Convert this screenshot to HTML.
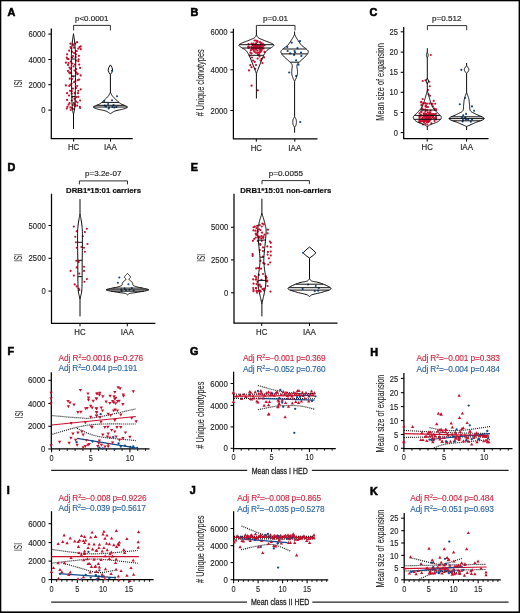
<!DOCTYPE html>
<html><head><meta charset="utf-8"><style>
html,body{margin:0;padding:0;background:#fff;}
svg{display:block;font-family:"Liberation Sans", sans-serif;will-change:transform;}
</style></head><body>
<svg width="520" height="613" viewBox="0 0 520 613">
<rect width="520" height="613" fill="#fff"/>
<rect x="0" y="0" width="520" height="1.3" fill="#000"/>
<rect x="0" y="0" width="1.3" height="613" fill="#000"/>
<rect x="518.6" y="0" width="1.4" height="613" fill="#000"/>
<rect x="0" y="611.4" width="520" height="1.6" fill="#000"/>
<text x="7.60" y="15.70" font-size="10.8" text-anchor="start" font-weight="bold" fill="#000" stroke="#000" stroke-width="0.6">A</text>
<path d="M73.60,30.40 L73.60,25.40 L110.40,25.40 L110.40,30.40" fill="none" stroke="#1a1a1a" stroke-width="0.9"/>
<text x="75.00" y="20.60" font-size="6.9" text-anchor="start" font-weight="normal" fill="#222222" textLength="33.50" lengthAdjust="spacingAndGlyphs" stroke="#2b2b2b" stroke-width="0.16">p&lt;0.0001</text>
<line x1="51.30" y1="28.50" x2="51.30" y2="138.65" stroke="#000" stroke-width="1.25" />
<line x1="48.30" y1="34.10" x2="51.30" y2="34.10" stroke="#000" stroke-width="1.05" />
<text x="45.50" y="37.25" font-size="9.5" text-anchor="end" font-weight="normal" fill="#222222" textLength="17.12" lengthAdjust="spacingAndGlyphs" stroke="#2b2b2b" stroke-width="0.16">6000</text>
<line x1="48.30" y1="59.50" x2="51.30" y2="59.50" stroke="#000" stroke-width="1.05" />
<text x="45.50" y="62.65" font-size="9.5" text-anchor="end" font-weight="normal" fill="#222222" textLength="17.12" lengthAdjust="spacingAndGlyphs" stroke="#2b2b2b" stroke-width="0.16">4000</text>
<line x1="48.30" y1="84.70" x2="51.30" y2="84.70" stroke="#000" stroke-width="1.05" />
<text x="45.50" y="87.85" font-size="9.5" text-anchor="end" font-weight="normal" fill="#222222" textLength="17.12" lengthAdjust="spacingAndGlyphs" stroke="#2b2b2b" stroke-width="0.16">2000</text>
<line x1="48.30" y1="110.10" x2="51.30" y2="110.10" stroke="#000" stroke-width="1.05" />
<text x="45.50" y="113.25" font-size="9.5" text-anchor="end" font-weight="normal" fill="#222222" textLength="4.28" lengthAdjust="spacingAndGlyphs" stroke="#2b2b2b" stroke-width="0.16">0</text>
<line x1="50.80" y1="138.65" x2="132.70" y2="138.65" stroke="#000" stroke-width="1.25" />
<line x1="73.60" y1="138.65" x2="73.60" y2="141.60" stroke="#000" stroke-width="1.0" />
<line x1="110.50" y1="138.65" x2="110.50" y2="141.60" stroke="#000" stroke-width="1.0" />
<text x="73.60" y="150.40" font-size="8.8" text-anchor="middle" font-weight="normal" fill="#222222" textLength="11.30" lengthAdjust="spacingAndGlyphs" stroke="#2b2b2b" stroke-width="0.18">HC</text>
<text x="110.50" y="150.40" font-size="8.8" text-anchor="middle" font-weight="normal" fill="#222222" textLength="12.90" lengthAdjust="spacingAndGlyphs" stroke="#2b2b2b" stroke-width="0.18">IAA</text>
<text x="0" y="0" transform="translate(22.30,83.35) rotate(-90)" font-size="10.4" text-anchor="middle" fill="#222222" textLength="7.90" lengthAdjust="spacingAndGlyphs" stroke="#222222" stroke-width="0.05">ISI</text>
<circle cx="70.40" cy="43.70" r="1.1" fill="#c8102e"/>
<circle cx="72.90" cy="44.30" r="1.1" fill="#c8102e"/>
<circle cx="75.30" cy="43.70" r="1.1" fill="#c8102e"/>
<circle cx="77.10" cy="42.20" r="1.1" fill="#c8102e"/>
<circle cx="71.10" cy="48.30" r="1.1" fill="#c8102e"/>
<circle cx="74.10" cy="47.70" r="1.1" fill="#c8102e"/>
<circle cx="79.50" cy="47.10" r="1.1" fill="#c8102e"/>
<circle cx="80.70" cy="46.40" r="1.1" fill="#c8102e"/>
<circle cx="78.30" cy="48.60" r="1.1" fill="#c8102e"/>
<circle cx="80.70" cy="49.20" r="1.1" fill="#c8102e"/>
<circle cx="69.20" cy="50.70" r="1.1" fill="#c8102e"/>
<circle cx="72.00" cy="51.90" r="1.1" fill="#c8102e"/>
<circle cx="76.80" cy="51.00" r="1.1" fill="#c8102e"/>
<circle cx="74.10" cy="53.10" r="1.1" fill="#c8102e"/>
<circle cx="75.90" cy="54.30" r="1.1" fill="#c8102e"/>
<circle cx="67.10" cy="54.30" r="1.1" fill="#c8102e"/>
<circle cx="78.90" cy="55.80" r="1.1" fill="#c8102e"/>
<circle cx="72.00" cy="57.60" r="1.1" fill="#c8102e"/>
<circle cx="75.60" cy="57.00" r="1.1" fill="#c8102e"/>
<circle cx="66.80" cy="57.60" r="1.1" fill="#c8102e"/>
<circle cx="67.40" cy="58.80" r="1.1" fill="#c8102e"/>
<circle cx="68.60" cy="59.10" r="1.1" fill="#c8102e"/>
<circle cx="78.60" cy="59.40" r="1.1" fill="#c8102e"/>
<circle cx="75.90" cy="60.60" r="1.1" fill="#c8102e"/>
<circle cx="78.30" cy="61.20" r="1.1" fill="#c8102e"/>
<circle cx="65.90" cy="62.70" r="1.1" fill="#c8102e"/>
<circle cx="68.60" cy="63.00" r="1.1" fill="#c8102e"/>
<circle cx="68.00" cy="64.90" r="1.1" fill="#c8102e"/>
<circle cx="75.00" cy="64.60" r="1.1" fill="#c8102e"/>
<circle cx="79.20" cy="64.60" r="1.1" fill="#c8102e"/>
<circle cx="73.50" cy="66.40" r="1.1" fill="#c8102e"/>
<circle cx="69.50" cy="67.60" r="1.1" fill="#c8102e"/>
<circle cx="80.10" cy="67.90" r="1.1" fill="#c8102e"/>
<circle cx="70.40" cy="68.80" r="1.1" fill="#c8102e"/>
<circle cx="76.20" cy="69.10" r="1.1" fill="#c8102e"/>
<circle cx="68.00" cy="70.90" r="1.1" fill="#c8102e"/>
<circle cx="69.20" cy="72.40" r="1.1" fill="#c8102e"/>
<circle cx="71.10" cy="72.70" r="1.1" fill="#c8102e"/>
<circle cx="76.20" cy="72.40" r="1.1" fill="#c8102e"/>
<circle cx="77.70" cy="73.60" r="1.1" fill="#c8102e"/>
<circle cx="69.80" cy="73.30" r="1.1" fill="#c8102e"/>
<circle cx="77.40" cy="74.20" r="1.1" fill="#c8102e"/>
<circle cx="80.70" cy="75.40" r="1.1" fill="#c8102e"/>
<circle cx="69.80" cy="78.70" r="1.1" fill="#c8102e"/>
<circle cx="72.00" cy="79.00" r="1.1" fill="#c8102e"/>
<circle cx="75.30" cy="81.40" r="1.1" fill="#c8102e"/>
<circle cx="77.70" cy="80.20" r="1.1" fill="#c8102e"/>
<circle cx="79.20" cy="79.60" r="1.1" fill="#c8102e"/>
<circle cx="74.10" cy="82.10" r="1.1" fill="#c8102e"/>
<circle cx="65.90" cy="85.40" r="1.1" fill="#c8102e"/>
<circle cx="69.20" cy="86.00" r="1.1" fill="#c8102e"/>
<circle cx="70.10" cy="85.10" r="1.1" fill="#c8102e"/>
<circle cx="77.10" cy="86.00" r="1.1" fill="#c8102e"/>
<circle cx="70.10" cy="90.80" r="1.1" fill="#c8102e"/>
<circle cx="71.70" cy="91.10" r="1.1" fill="#c8102e"/>
<circle cx="80.70" cy="89.30" r="1.1" fill="#c8102e"/>
<circle cx="78.30" cy="90.80" r="1.1" fill="#c8102e"/>
<circle cx="67.10" cy="93.20" r="1.1" fill="#c8102e"/>
<circle cx="71.70" cy="93.50" r="1.1" fill="#c8102e"/>
<circle cx="74.70" cy="93.20" r="1.1" fill="#c8102e"/>
<circle cx="78.00" cy="93.20" r="1.1" fill="#c8102e"/>
<circle cx="72.30" cy="96.80" r="1.1" fill="#c8102e"/>
<circle cx="76.50" cy="97.10" r="1.1" fill="#c8102e"/>
<circle cx="78.30" cy="96.80" r="1.1" fill="#c8102e"/>
<circle cx="67.10" cy="99.90" r="1.1" fill="#c8102e"/>
<circle cx="71.70" cy="100.50" r="1.1" fill="#c8102e"/>
<circle cx="80.10" cy="100.50" r="1.1" fill="#c8102e"/>
<circle cx="75.90" cy="101.40" r="1.1" fill="#c8102e"/>
<circle cx="69.50" cy="103.20" r="1.1" fill="#c8102e"/>
<circle cx="73.80" cy="103.20" r="1.1" fill="#c8102e"/>
<circle cx="75.00" cy="104.40" r="1.1" fill="#c8102e"/>
<circle cx="68.60" cy="104.70" r="1.1" fill="#c8102e"/>
<circle cx="72.90" cy="105.00" r="1.1" fill="#c8102e"/>
<circle cx="77.10" cy="105.60" r="1.1" fill="#c8102e"/>
<circle cx="67.40" cy="106.80" r="1.1" fill="#c8102e"/>
<circle cx="70.40" cy="107.40" r="1.1" fill="#c8102e"/>
<circle cx="72.00" cy="108.00" r="1.1" fill="#c8102e"/>
<circle cx="75.00" cy="106.20" r="1.1" fill="#c8102e"/>
<circle cx="79.80" cy="106.80" r="1.1" fill="#c8102e"/>
<circle cx="80.10" cy="108.00" r="1.1" fill="#c8102e"/>
<circle cx="66.80" cy="108.60" r="1.1" fill="#c8102e"/>
<circle cx="73.50" cy="45.50" r="1.1" fill="#c8102e"/>
<circle cx="70.50" cy="47.00" r="1.1" fill="#c8102e"/>
<circle cx="73.00" cy="56.00" r="1.1" fill="#c8102e"/>
<circle cx="70.80" cy="61.50" r="1.1" fill="#c8102e"/>
<circle cx="72.50" cy="63.50" r="1.1" fill="#c8102e"/>
<circle cx="74.50" cy="70.50" r="1.1" fill="#c8102e"/>
<circle cx="73.20" cy="76.50" r="1.1" fill="#c8102e"/>
<circle cx="71.50" cy="83.50" r="1.1" fill="#c8102e"/>
<circle cx="76.00" cy="88.00" r="1.1" fill="#c8102e"/>
<circle cx="73.00" cy="88.50" r="1.1" fill="#c8102e"/>
<circle cx="69.00" cy="95.50" r="1.1" fill="#c8102e"/>
<circle cx="74.50" cy="98.80" r="1.1" fill="#c8102e"/>
<circle cx="77.50" cy="102.50" r="1.1" fill="#c8102e"/>
<circle cx="70.80" cy="110.00" r="1.1" fill="#c8102e"/>
<circle cx="74.00" cy="109.00" r="1.1" fill="#c8102e"/>
<path d="M73.50,33.70 L73.65,34.73 L73.81,35.76 L73.97,36.78 L74.13,37.81 L74.29,38.84 L74.44,39.88 L74.57,40.93 L74.70,42.00 L74.81,43.09 L74.92,44.20 L75.02,45.32 L75.11,46.46 L75.19,47.59 L75.26,48.73 L75.34,49.87 L75.40,51.00 L75.46,52.05 L75.51,52.99 L75.56,53.89 L75.61,54.81 L75.64,55.82 L75.67,56.98 L75.69,58.35 L75.70,60.00 L75.70,61.97 L75.69,64.23 L75.67,66.69 L75.64,69.31 L75.61,72.02 L75.58,74.74 L75.54,77.42 L75.50,80.00 L75.46,82.58 L75.42,85.26 L75.37,87.98 L75.32,90.69 L75.27,93.31 L75.21,95.77 L75.16,98.03 L75.10,100.00 L75.05,101.68 L75.00,103.11 L74.95,104.33 L74.89,105.41 L74.84,106.36 L74.77,107.25 L74.69,108.12 L74.60,109.00 L74.49,109.85 L74.37,110.62 L74.23,111.32 L74.09,111.97 L73.94,112.59 L73.79,113.21 L73.64,113.84 L73.50,114.50 L73.50,114.50 L73.36,113.84 L73.21,113.21 L73.06,112.59 L72.91,111.97 L72.77,111.32 L72.63,110.62 L72.51,109.85 L72.40,109.00 L72.31,108.12 L72.23,107.25 L72.16,106.36 L72.11,105.41 L72.05,104.33 L72.00,103.11 L71.95,101.68 L71.90,100.00 L71.84,98.03 L71.79,95.77 L71.73,93.31 L71.68,90.69 L71.63,87.98 L71.58,85.26 L71.54,82.58 L71.50,80.00 L71.46,77.42 L71.42,74.74 L71.39,72.02 L71.36,69.31 L71.33,66.69 L71.31,64.23 L71.30,61.97 L71.30,60.00 L71.31,58.35 L71.33,56.98 L71.36,55.82 L71.39,54.81 L71.44,53.89 L71.49,52.99 L71.54,52.05 L71.60,51.00 L71.66,49.87 L71.74,48.73 L71.81,47.59 L71.89,46.46 L71.98,45.32 L72.08,44.20 L72.19,43.09 L72.30,42.00 L72.43,40.93 L72.56,39.88 L72.71,38.84 L72.87,37.81 L73.03,36.78 L73.19,35.76 L73.35,34.73 L73.50,33.70 Z" fill="none" stroke="#0a0a0a" stroke-width="1.0" stroke-linejoin="round"/>
<line x1="73.50" y1="114.00" x2="73.50" y2="129.00" stroke="#0a0a0a" stroke-width="1.0" />
<line x1="71.30" y1="59.00" x2="75.70" y2="59.00" stroke="#111" stroke-width="1.0" />
<line x1="71.44" y1="76.00" x2="75.56" y2="76.00" stroke="#111" stroke-width="1.0" />
<line x1="71.81" y1="96.60" x2="75.19" y2="96.60" stroke="#111" stroke-width="1.0" />
<path d="M110.40,64.90 L112.00,67.50 L112.70,70.30 L111.80,72.50 L110.40,74.50 L110.40,74.50 L109.00,72.50 L108.10,70.30 L108.80,67.50 L110.40,64.90 Z" fill="none" stroke="#0a0a0a" stroke-width="1.0" stroke-linejoin="round"/>
<line x1="110.40" y1="74.50" x2="110.40" y2="92.60" stroke="#0a0a0a" stroke-width="1.0" />
<circle cx="117.00" cy="96.30" r="1.05" fill="#0d4a8c"/>
<circle cx="112.00" cy="70.80" r="1.05" fill="#0d4a8c"/>
<circle cx="104.20" cy="101.00" r="1.05" fill="#0d4a8c"/>
<circle cx="112.00" cy="100.20" r="1.05" fill="#0d4a8c"/>
<circle cx="104.70" cy="105.60" r="1.05" fill="#0d4a8c"/>
<circle cx="108.10" cy="104.10" r="1.05" fill="#0d4a8c"/>
<circle cx="109.10" cy="107.50" r="1.05" fill="#0d4a8c"/>
<circle cx="112.50" cy="107.00" r="1.05" fill="#0d4a8c"/>
<circle cx="114.50" cy="107.50" r="1.05" fill="#0d4a8c"/>
<circle cx="116.50" cy="107.00" r="1.05" fill="#0d4a8c"/>
<circle cx="108.60" cy="108.50" r="1.05" fill="#0d4a8c"/>
<circle cx="106.00" cy="106.50" r="1.05" fill="#0d4a8c"/>
<circle cx="113.50" cy="105.00" r="1.05" fill="#0d4a8c"/>
<path d="M110.40,92.40 L110.67,92.88 L110.93,93.36 L111.17,93.84 L111.42,94.32 L111.68,94.80 L111.98,95.29 L112.31,95.79 L112.70,96.30 L113.15,96.83 L113.65,97.39 L114.20,97.96 L114.78,98.53 L115.37,99.10 L115.96,99.66 L116.54,100.19 L117.10,100.70 L117.63,101.18 L118.14,101.63 L118.65,102.07 L119.15,102.50 L119.67,102.91 L120.21,103.32 L120.78,103.71 L121.40,104.10 L122.14,104.48 L123.01,104.86 L123.96,105.22 L124.92,105.58 L125.81,105.93 L126.56,106.26 L127.12,106.59 L127.40,106.90 L127.41,107.20 L127.20,107.48 L126.82,107.74 L126.29,108.00 L125.65,108.25 L124.94,108.50 L124.17,108.75 L123.40,109.00 L122.54,109.25 L121.54,109.49 L120.44,109.73 L119.29,109.96 L118.14,110.20 L117.02,110.45 L115.99,110.72 L115.10,111.00 L114.34,111.30 L113.67,111.63 L113.07,111.96 L112.53,112.31 L112.00,112.66 L111.49,113.01 L110.96,113.36 L110.40,113.70 L110.40,113.70 L109.84,113.36 L109.31,113.01 L108.80,112.66 L108.28,112.31 L107.73,111.96 L107.13,111.63 L106.46,111.30 L105.70,111.00 L104.81,110.72 L103.78,110.45 L102.66,110.20 L101.51,109.96 L100.36,109.73 L99.26,109.49 L98.26,109.25 L97.40,109.00 L96.63,108.75 L95.86,108.50 L95.15,108.25 L94.51,108.00 L93.98,107.74 L93.60,107.48 L93.39,107.20 L93.40,106.90 L93.68,106.59 L94.24,106.26 L94.99,105.93 L95.88,105.58 L96.84,105.22 L97.79,104.86 L98.66,104.48 L99.40,104.10 L100.02,103.71 L100.59,103.32 L101.13,102.91 L101.65,102.50 L102.15,102.07 L102.66,101.63 L103.17,101.18 L103.70,100.70 L104.26,100.19 L104.84,99.66 L105.43,99.10 L106.03,98.53 L106.60,97.96 L107.15,97.39 L107.65,96.83 L108.10,96.30 L108.49,95.79 L108.82,95.29 L109.12,94.80 L109.38,94.32 L109.63,93.84 L109.87,93.36 L110.13,92.88 L110.40,92.40 Z" fill="none" stroke="#0a0a0a" stroke-width="1.0" stroke-linejoin="round"/>
<line x1="101.85" y1="102.40" x2="118.95" y2="102.40" stroke="#111" stroke-width="1.0" />
<line x1="96.64" y1="105.30" x2="124.16" y2="105.30" stroke="#111" stroke-width="1.0" />
<line x1="93.37" y1="107.00" x2="127.43" y2="107.00" stroke="#111" stroke-width="1.0" />
<text x="190.40" y="15.80" font-size="10.8" text-anchor="start" font-weight="bold" fill="#000" stroke="#000" stroke-width="0.6">B</text>
<path d="M256.40,30.40 L256.40,25.40 L295.00,25.40 L295.00,30.40" fill="none" stroke="#1a1a1a" stroke-width="0.9"/>
<text x="263.00" y="20.60" font-size="6.9" text-anchor="start" font-weight="normal" fill="#222222" textLength="25.10" lengthAdjust="spacingAndGlyphs" stroke="#2b2b2b" stroke-width="0.16">p=0.01</text>
<line x1="233.40" y1="28.70" x2="233.40" y2="138.75" stroke="#000" stroke-width="1.25" />
<line x1="230.40" y1="32.20" x2="233.40" y2="32.20" stroke="#000" stroke-width="1.05" />
<text x="227.60" y="35.35" font-size="9.5" text-anchor="end" font-weight="normal" fill="#222222" textLength="17.12" lengthAdjust="spacingAndGlyphs" stroke="#2b2b2b" stroke-width="0.16">6000</text>
<line x1="230.40" y1="69.80" x2="233.40" y2="69.80" stroke="#000" stroke-width="1.05" />
<text x="227.60" y="72.95" font-size="9.5" text-anchor="end" font-weight="normal" fill="#222222" textLength="17.12" lengthAdjust="spacingAndGlyphs" stroke="#2b2b2b" stroke-width="0.16">4000</text>
<line x1="230.40" y1="110.50" x2="233.40" y2="110.50" stroke="#000" stroke-width="1.05" />
<text x="227.60" y="113.65" font-size="9.5" text-anchor="end" font-weight="normal" fill="#222222" textLength="17.12" lengthAdjust="spacingAndGlyphs" stroke="#2b2b2b" stroke-width="0.16">2000</text>
<line x1="232.90" y1="138.75" x2="317.50" y2="138.75" stroke="#000" stroke-width="1.25" />
<line x1="256.30" y1="138.75" x2="256.30" y2="141.70" stroke="#000" stroke-width="1.0" />
<line x1="294.80" y1="138.75" x2="294.80" y2="141.70" stroke="#000" stroke-width="1.0" />
<text x="256.30" y="150.50" font-size="8.8" text-anchor="middle" font-weight="normal" fill="#222222" textLength="11.30" lengthAdjust="spacingAndGlyphs" stroke="#2b2b2b" stroke-width="0.18">HC</text>
<text x="294.80" y="150.50" font-size="8.8" text-anchor="middle" font-weight="normal" fill="#222222" textLength="12.90" lengthAdjust="spacingAndGlyphs" stroke="#2b2b2b" stroke-width="0.18">IAA</text>
<text x="0" y="0" transform="translate(204.10,82.80) rotate(-90)" font-size="10.3" text-anchor="middle" fill="#222222" textLength="67.00" lengthAdjust="spacingAndGlyphs" stroke="#222222" stroke-width="0.05"># Unique clonotypes</text>
<circle cx="264.50" cy="45.11" r="1.1" fill="#c8102e"/>
<circle cx="258.46" cy="48.03" r="1.1" fill="#c8102e"/>
<circle cx="260.31" cy="42.45" r="1.1" fill="#c8102e"/>
<circle cx="255.06" cy="44.79" r="1.1" fill="#c8102e"/>
<circle cx="252.29" cy="44.46" r="1.1" fill="#c8102e"/>
<circle cx="254.65" cy="46.47" r="1.1" fill="#c8102e"/>
<circle cx="252.99" cy="49.02" r="1.1" fill="#c8102e"/>
<circle cx="254.50" cy="40.50" r="1.1" fill="#c8102e"/>
<circle cx="261.80" cy="46.09" r="1.1" fill="#c8102e"/>
<circle cx="253.68" cy="48.47" r="1.1" fill="#c8102e"/>
<circle cx="257.77" cy="47.69" r="1.1" fill="#c8102e"/>
<circle cx="253.21" cy="48.19" r="1.1" fill="#c8102e"/>
<circle cx="250.34" cy="52.70" r="1.1" fill="#c8102e"/>
<circle cx="251.48" cy="46.76" r="1.1" fill="#c8102e"/>
<circle cx="256.88" cy="48.29" r="1.1" fill="#c8102e"/>
<circle cx="255.76" cy="49.24" r="1.1" fill="#c8102e"/>
<circle cx="248.50" cy="46.66" r="1.1" fill="#c8102e"/>
<circle cx="255.58" cy="45.47" r="1.1" fill="#c8102e"/>
<circle cx="262.68" cy="43.52" r="1.1" fill="#c8102e"/>
<circle cx="255.91" cy="40.50" r="1.1" fill="#c8102e"/>
<circle cx="257.40" cy="41.16" r="1.1" fill="#c8102e"/>
<circle cx="249.63" cy="55.55" r="1.1" fill="#c8102e"/>
<circle cx="259.22" cy="46.99" r="1.1" fill="#c8102e"/>
<circle cx="256.97" cy="41.80" r="1.1" fill="#c8102e"/>
<circle cx="251.79" cy="48.56" r="1.1" fill="#c8102e"/>
<circle cx="248.50" cy="48.01" r="1.1" fill="#c8102e"/>
<circle cx="248.87" cy="47.46" r="1.1" fill="#c8102e"/>
<circle cx="251.52" cy="53.42" r="1.1" fill="#c8102e"/>
<circle cx="260.57" cy="45.14" r="1.1" fill="#c8102e"/>
<circle cx="248.50" cy="44.16" r="1.1" fill="#c8102e"/>
<circle cx="256.00" cy="43.40" r="1.1" fill="#c8102e"/>
<circle cx="257.46" cy="50.64" r="1.1" fill="#c8102e"/>
<circle cx="256.01" cy="45.44" r="1.1" fill="#c8102e"/>
<circle cx="259.58" cy="45.94" r="1.1" fill="#c8102e"/>
<circle cx="259.87" cy="45.86" r="1.1" fill="#c8102e"/>
<circle cx="263.14" cy="46.01" r="1.1" fill="#c8102e"/>
<circle cx="251.73" cy="47.38" r="1.1" fill="#c8102e"/>
<circle cx="253.55" cy="43.60" r="1.1" fill="#c8102e"/>
<circle cx="255.71" cy="49.77" r="1.1" fill="#c8102e"/>
<circle cx="248.50" cy="46.87" r="1.1" fill="#c8102e"/>
<circle cx="255.61" cy="46.50" r="1.1" fill="#c8102e"/>
<circle cx="259.69" cy="42.27" r="1.1" fill="#c8102e"/>
<circle cx="259.09" cy="46.21" r="1.1" fill="#c8102e"/>
<circle cx="256.75" cy="46.25" r="1.1" fill="#c8102e"/>
<circle cx="254.88" cy="45.14" r="1.1" fill="#c8102e"/>
<circle cx="258.06" cy="54.77" r="1.1" fill="#c8102e"/>
<circle cx="260.81" cy="50.21" r="1.1" fill="#c8102e"/>
<circle cx="258.71" cy="45.36" r="1.1" fill="#c8102e"/>
<circle cx="258.93" cy="54.69" r="1.1" fill="#c8102e"/>
<circle cx="250.89" cy="50.16" r="1.1" fill="#c8102e"/>
<circle cx="260.70" cy="48.18" r="1.1" fill="#c8102e"/>
<circle cx="259.76" cy="52.25" r="1.1" fill="#c8102e"/>
<circle cx="264.50" cy="51.95" r="1.1" fill="#c8102e"/>
<circle cx="263.51" cy="48.42" r="1.1" fill="#c8102e"/>
<circle cx="260.00" cy="47.87" r="1.1" fill="#c8102e"/>
<circle cx="257.75" cy="45.56" r="1.1" fill="#c8102e"/>
<circle cx="259.40" cy="52.55" r="1.1" fill="#c8102e"/>
<circle cx="255.86" cy="48.20" r="1.1" fill="#c8102e"/>
<circle cx="259.20" cy="47.37" r="1.1" fill="#c8102e"/>
<circle cx="260.56" cy="48.25" r="1.1" fill="#c8102e"/>
<circle cx="251.62" cy="43.57" r="1.1" fill="#c8102e"/>
<circle cx="259.69" cy="49.63" r="1.1" fill="#c8102e"/>
<circle cx="261.30" cy="48.26" r="1.1" fill="#c8102e"/>
<circle cx="257.49" cy="41.62" r="1.1" fill="#c8102e"/>
<circle cx="262.56" cy="44.01" r="1.1" fill="#c8102e"/>
<circle cx="261.06" cy="43.22" r="1.1" fill="#c8102e"/>
<circle cx="253.84" cy="47.94" r="1.1" fill="#c8102e"/>
<circle cx="254.85" cy="44.84" r="1.1" fill="#c8102e"/>
<circle cx="260.47" cy="49.85" r="1.1" fill="#c8102e"/>
<circle cx="258.35" cy="46.17" r="1.1" fill="#c8102e"/>
<circle cx="253.19" cy="45.67" r="1.1" fill="#c8102e"/>
<circle cx="254.47" cy="47.31" r="1.1" fill="#c8102e"/>
<circle cx="259.95" cy="46.80" r="1.1" fill="#c8102e"/>
<circle cx="253.36" cy="45.18" r="1.1" fill="#c8102e"/>
<circle cx="262.13" cy="48.02" r="1.1" fill="#c8102e"/>
<circle cx="261.80" cy="49.20" r="1.1" fill="#c8102e"/>
<circle cx="261.48" cy="50.65" r="1.1" fill="#c8102e"/>
<circle cx="260.57" cy="51.89" r="1.1" fill="#c8102e"/>
<circle cx="259.21" cy="52.71" r="1.1" fill="#c8102e"/>
<circle cx="257.60" cy="53.00" r="1.1" fill="#c8102e"/>
<circle cx="255.99" cy="52.71" r="1.1" fill="#c8102e"/>
<circle cx="254.63" cy="51.89" r="1.1" fill="#c8102e"/>
<circle cx="253.72" cy="50.65" r="1.1" fill="#c8102e"/>
<circle cx="253.40" cy="49.20" r="1.1" fill="#c8102e"/>
<circle cx="253.72" cy="47.75" r="1.1" fill="#c8102e"/>
<circle cx="254.63" cy="46.51" r="1.1" fill="#c8102e"/>
<circle cx="255.99" cy="45.69" r="1.1" fill="#c8102e"/>
<circle cx="257.60" cy="45.40" r="1.1" fill="#c8102e"/>
<circle cx="259.21" cy="45.69" r="1.1" fill="#c8102e"/>
<circle cx="260.57" cy="46.51" r="1.1" fill="#c8102e"/>
<circle cx="261.48" cy="47.75" r="1.1" fill="#c8102e"/>
<circle cx="250.30" cy="65.10" r="1.1" fill="#c8102e"/>
<circle cx="249.00" cy="70.40" r="1.1" fill="#c8102e"/>
<circle cx="251.50" cy="67.20" r="1.1" fill="#c8102e"/>
<circle cx="256.00" cy="65.10" r="1.1" fill="#c8102e"/>
<circle cx="260.50" cy="60.60" r="1.1" fill="#c8102e"/>
<circle cx="262.50" cy="63.10" r="1.1" fill="#c8102e"/>
<circle cx="264.10" cy="57.40" r="1.1" fill="#c8102e"/>
<circle cx="253.10" cy="60.60" r="1.1" fill="#c8102e"/>
<circle cx="254.80" cy="61.90" r="1.1" fill="#c8102e"/>
<circle cx="257.60" cy="58.60" r="1.1" fill="#c8102e"/>
<circle cx="255.20" cy="68.80" r="1.1" fill="#c8102e"/>
<circle cx="251.60" cy="85.70" r="1.1" fill="#c8102e"/>
<circle cx="257.80" cy="90.30" r="1.1" fill="#c8102e"/>
<circle cx="252.00" cy="57.50" r="1.1" fill="#c8102e"/>
<circle cx="259.50" cy="56.50" r="1.1" fill="#c8102e"/>
<circle cx="261.50" cy="58.80" r="1.1" fill="#c8102e"/>
<line x1="256.40" y1="30.00" x2="256.40" y2="35.00" stroke="#0a0a0a" stroke-width="1.0" />
<path d="M256.40,34.90 L256.62,35.26 L256.80,35.63 L256.97,35.99 L257.14,36.36 L257.34,36.72 L257.60,37.08 L257.95,37.44 L258.40,37.80 L258.97,38.16 L259.65,38.51 L260.40,38.87 L261.22,39.22 L262.07,39.58 L262.93,39.92 L263.78,40.27 L264.60,40.60 L265.42,40.93 L266.29,41.26 L267.18,41.58 L268.06,41.90 L268.92,42.21 L269.73,42.52 L270.46,42.81 L271.10,43.10 L271.66,43.37 L272.17,43.63 L272.63,43.88 L273.03,44.12 L273.36,44.36 L273.62,44.60 L273.80,44.85 L273.90,45.10 L273.90,45.35 L273.81,45.59 L273.63,45.83 L273.38,46.08 L273.07,46.33 L272.72,46.60 L272.32,46.88 L271.90,47.20 L271.42,47.54 L270.84,47.88 L270.20,48.24 L269.53,48.63 L268.85,49.03 L268.18,49.45 L267.56,49.91 L267.00,50.40 L266.51,50.91 L266.06,51.44 L265.64,51.99 L265.24,52.56 L264.86,53.18 L264.48,53.83 L264.10,54.54 L263.70,55.30 L263.29,56.14 L262.89,57.06 L262.48,58.03 L262.07,59.05 L261.67,60.08 L261.28,61.12 L260.88,62.13 L260.50,63.10 L260.11,64.06 L259.71,65.05 L259.32,66.05 L258.92,67.03 L258.55,67.98 L258.20,68.87 L257.88,69.68 L257.60,70.40 L257.37,71.00 L257.18,71.51 L257.03,71.93 L256.89,72.30 L256.78,72.64 L256.66,72.97 L256.54,73.31 L256.40,73.70 L256.40,73.70 L256.26,73.31 L256.14,72.97 L256.02,72.64 L255.91,72.30 L255.77,71.93 L255.62,71.51 L255.43,71.00 L255.20,70.40 L254.92,69.68 L254.60,68.87 L254.25,67.98 L253.87,67.03 L253.48,66.05 L253.09,65.05 L252.69,64.06 L252.30,63.10 L251.92,62.13 L251.52,61.12 L251.13,60.08 L250.72,59.05 L250.32,58.03 L249.91,57.06 L249.51,56.14 L249.10,55.30 L248.70,54.54 L248.32,53.83 L247.94,53.18 L247.56,52.56 L247.16,51.99 L246.74,51.44 L246.29,50.91 L245.80,50.40 L245.24,49.91 L244.62,49.45 L243.95,49.03 L243.27,48.63 L242.60,48.24 L241.96,47.88 L241.38,47.54 L240.90,47.20 L240.48,46.88 L240.08,46.60 L239.73,46.33 L239.42,46.08 L239.17,45.83 L238.99,45.59 L238.90,45.35 L238.90,45.10 L239.00,44.85 L239.18,44.60 L239.44,44.36 L239.77,44.12 L240.17,43.88 L240.63,43.63 L241.14,43.37 L241.70,43.10 L242.34,42.81 L243.07,42.52 L243.88,42.21 L244.74,41.90 L245.62,41.58 L246.51,41.26 L247.38,40.93 L248.20,40.60 L249.02,40.27 L249.87,39.92 L250.73,39.58 L251.58,39.22 L252.40,38.87 L253.15,38.51 L253.83,38.16 L254.40,37.80 L254.85,37.44 L255.20,37.08 L255.46,36.72 L255.66,36.36 L255.83,35.99 L256.00,35.63 L256.18,35.26 L256.40,34.90 Z" fill="none" stroke="#0a0a0a" stroke-width="1.0" stroke-linejoin="round"/>
<line x1="256.40" y1="73.70" x2="256.40" y2="98.50" stroke="#0a0a0a" stroke-width="1.0" />
<line x1="239.09" y1="44.70" x2="273.71" y2="44.70" stroke="#111" stroke-width="1.0" />
<line x1="242.21" y1="48.00" x2="270.59" y2="48.00" stroke="#111" stroke-width="1.0" />
<line x1="249.10" y1="55.30" x2="263.70" y2="55.30" stroke="#111" stroke-width="1.0" />
<circle cx="291.70" cy="42.70" r="1.1" fill="#0d4a8c"/>
<circle cx="300.00" cy="41.20" r="1.1" fill="#0d4a8c"/>
<circle cx="287.30" cy="47.10" r="1.1" fill="#0d4a8c"/>
<circle cx="297.50" cy="48.10" r="1.1" fill="#0d4a8c"/>
<circle cx="287.70" cy="51.00" r="1.1" fill="#0d4a8c"/>
<circle cx="294.60" cy="51.00" r="1.1" fill="#0d4a8c"/>
<circle cx="295.10" cy="52.50" r="1.1" fill="#0d4a8c"/>
<circle cx="290.20" cy="53.40" r="1.1" fill="#0d4a8c"/>
<circle cx="301.00" cy="52.50" r="1.1" fill="#0d4a8c"/>
<circle cx="294.10" cy="54.90" r="1.1" fill="#0d4a8c"/>
<circle cx="301.40" cy="55.90" r="1.1" fill="#0d4a8c"/>
<circle cx="296.10" cy="60.30" r="1.1" fill="#0d4a8c"/>
<circle cx="298.50" cy="64.70" r="1.1" fill="#0d4a8c"/>
<circle cx="289.20" cy="72.50" r="1.1" fill="#0d4a8c"/>
<circle cx="296.10" cy="76.00" r="1.1" fill="#0d4a8c"/>
<circle cx="300.20" cy="122.00" r="1.1" fill="#0d4a8c"/>
<line x1="294.60" y1="31.50" x2="294.60" y2="34.50" stroke="#0a0a0a" stroke-width="1.0" />
<path d="M294.60,34.40 L294.89,34.94 L295.15,35.46 L295.41,35.97 L295.68,36.48 L295.95,37.01 L296.26,37.57 L296.60,38.16 L297.00,38.80 L297.45,39.51 L297.95,40.30 L298.48,41.13 L299.04,41.98 L299.63,42.83 L300.22,43.65 L300.81,44.41 L301.40,45.10 L302.01,45.71 L302.66,46.26 L303.33,46.78 L304.00,47.26 L304.65,47.71 L305.27,48.14 L305.82,48.57 L306.30,49.00 L306.72,49.41 L307.12,49.78 L307.48,50.13 L307.79,50.47 L308.04,50.81 L308.21,51.17 L308.30,51.56 L308.30,52.00 L308.19,52.48 L307.99,52.98 L307.70,53.50 L307.34,54.05 L306.92,54.62 L306.45,55.20 L305.94,55.79 L305.40,56.40 L304.78,57.04 L304.06,57.73 L303.26,58.44 L302.43,59.16 L301.60,59.88 L300.81,60.57 L300.10,61.21 L299.50,61.80 L299.00,62.31 L298.57,62.76 L298.19,63.16 L297.86,63.54 L297.58,63.91 L297.34,64.30 L297.15,64.72 L297.00,65.20 L296.91,65.74 L296.91,66.32 L296.96,66.93 L297.04,67.56 L297.15,68.20 L297.26,68.82 L297.35,69.43 L297.40,70.00 L297.43,70.54 L297.46,71.06 L297.48,71.56 L297.50,72.05 L297.51,72.54 L297.49,73.02 L297.46,73.51 L297.40,74.00 L297.31,74.50 L297.19,75.02 L297.06,75.53 L296.90,76.04 L296.73,76.55 L296.56,77.05 L296.38,77.53 L296.20,78.00 L296.02,78.45 L295.83,78.87 L295.63,79.29 L295.43,79.69 L295.22,80.09 L295.01,80.49 L294.80,80.89 L294.60,81.30 L294.60,81.30 L294.40,80.89 L294.19,80.49 L293.98,80.09 L293.78,79.69 L293.57,79.29 L293.37,78.87 L293.18,78.45 L293.00,78.00 L292.82,77.53 L292.64,77.05 L292.47,76.55 L292.30,76.04 L292.14,75.53 L292.01,75.02 L291.89,74.50 L291.80,74.00 L291.74,73.51 L291.71,73.02 L291.69,72.54 L291.70,72.05 L291.72,71.56 L291.74,71.06 L291.77,70.54 L291.80,70.00 L291.85,69.43 L291.94,68.82 L292.05,68.20 L292.16,67.56 L292.24,66.93 L292.29,66.32 L292.29,65.74 L292.20,65.20 L292.05,64.72 L291.86,64.30 L291.62,63.91 L291.34,63.54 L291.01,63.16 L290.63,62.76 L290.20,62.31 L289.70,61.80 L289.10,61.21 L288.39,60.57 L287.60,59.88 L286.77,59.16 L285.94,58.44 L285.14,57.73 L284.42,57.04 L283.80,56.40 L283.26,55.79 L282.75,55.20 L282.28,54.62 L281.86,54.05 L281.50,53.50 L281.21,52.98 L281.01,52.48 L280.90,52.00 L280.90,51.56 L280.99,51.17 L281.16,50.81 L281.41,50.47 L281.72,50.13 L282.08,49.78 L282.48,49.41 L282.90,49.00 L283.38,48.57 L283.93,48.14 L284.55,47.71 L285.20,47.26 L285.87,46.78 L286.54,46.26 L287.19,45.71 L287.80,45.10 L288.39,44.41 L288.98,43.65 L289.57,42.83 L290.16,41.98 L290.72,41.13 L291.25,40.30 L291.75,39.51 L292.20,38.80 L292.60,38.16 L292.94,37.57 L293.25,37.01 L293.53,36.48 L293.79,35.97 L294.05,35.46 L294.31,34.94 L294.60,34.40 Z" fill="none" stroke="#0a0a0a" stroke-width="1.0" stroke-linejoin="round"/>
<line x1="294.60" y1="81.30" x2="294.60" y2="116.70" stroke="#0a0a0a" stroke-width="1.0" />
<path d="M294.60,116.70 L294.80,117.05 L295.00,117.41 L295.22,117.76 L295.43,118.12 L295.63,118.47 L295.81,118.82 L295.97,119.16 L296.10,119.50 L296.20,119.82 L296.28,120.13 L296.33,120.44 L296.37,120.74 L296.39,121.04 L296.40,121.35 L296.40,121.67 L296.40,122.00 L296.39,122.36 L296.37,122.73 L296.35,123.12 L296.31,123.51 L296.25,123.90 L296.19,124.29 L296.10,124.66 L296.00,125.00 L295.87,125.32 L295.72,125.62 L295.55,125.91 L295.36,126.19 L295.17,126.47 L294.97,126.74 L294.78,127.02 L294.60,127.30 L294.60,127.30 L294.42,127.02 L294.23,126.74 L294.03,126.47 L293.84,126.19 L293.65,125.91 L293.48,125.62 L293.33,125.32 L293.20,125.00 L293.10,124.66 L293.01,124.29 L292.95,123.90 L292.89,123.51 L292.85,123.12 L292.83,122.73 L292.81,122.36 L292.80,122.00 L292.80,121.67 L292.80,121.35 L292.81,121.04 L292.83,120.74 L292.87,120.44 L292.92,120.13 L293.00,119.82 L293.10,119.50 L293.23,119.16 L293.39,118.82 L293.57,118.47 L293.78,118.12 L293.98,117.76 L294.20,117.41 L294.40,117.05 L294.60,116.70 Z" fill="none" stroke="#0a0a0a" stroke-width="1.0" stroke-linejoin="round"/>
<line x1="294.60" y1="127.30" x2="294.60" y2="132.70" stroke="#0a0a0a" stroke-width="1.0" />
<line x1="282.90" y1="49.00" x2="306.30" y2="49.00" stroke="#111" stroke-width="1.0" />
<line x1="281.70" y1="53.90" x2="307.50" y2="53.90" stroke="#111" stroke-width="1.0" />
<line x1="290.10" y1="62.20" x2="299.10" y2="62.20" stroke="#111" stroke-width="1.0" />
<text x="369.60" y="16.20" font-size="10.8" text-anchor="start" font-weight="bold" fill="#000" stroke="#000" stroke-width="0.6">C</text>
<path d="M427.40,30.20 L427.40,25.60 L466.70,25.60 L466.70,30.20" fill="none" stroke="#1a1a1a" stroke-width="0.9"/>
<text x="432.00" y="20.80" font-size="6.9" text-anchor="start" font-weight="normal" fill="#222222" textLength="29.60" lengthAdjust="spacingAndGlyphs" stroke="#2b2b2b" stroke-width="0.16">p=0.512</text>
<line x1="403.70" y1="26.90" x2="403.70" y2="138.65" stroke="#000" stroke-width="1.25" />
<line x1="400.70" y1="31.80" x2="403.70" y2="31.80" stroke="#000" stroke-width="1.05" />
<text x="397.90" y="34.95" font-size="9.5" text-anchor="end" font-weight="normal" fill="#222222" textLength="8.40" lengthAdjust="spacingAndGlyphs" stroke="#2b2b2b" stroke-width="0.16">25</text>
<line x1="400.70" y1="52.10" x2="403.70" y2="52.10" stroke="#000" stroke-width="1.05" />
<text x="397.90" y="55.25" font-size="9.5" text-anchor="end" font-weight="normal" fill="#222222" textLength="8.40" lengthAdjust="spacingAndGlyphs" stroke="#2b2b2b" stroke-width="0.16">20</text>
<line x1="400.70" y1="72.30" x2="403.70" y2="72.30" stroke="#000" stroke-width="1.05" />
<text x="397.90" y="75.45" font-size="9.5" text-anchor="end" font-weight="normal" fill="#222222" textLength="8.40" lengthAdjust="spacingAndGlyphs" stroke="#2b2b2b" stroke-width="0.16">15</text>
<line x1="400.70" y1="92.30" x2="403.70" y2="92.30" stroke="#000" stroke-width="1.05" />
<text x="397.90" y="95.45" font-size="9.5" text-anchor="end" font-weight="normal" fill="#222222" textLength="8.40" lengthAdjust="spacingAndGlyphs" stroke="#2b2b2b" stroke-width="0.16">10</text>
<line x1="400.70" y1="112.50" x2="403.70" y2="112.50" stroke="#000" stroke-width="1.05" />
<text x="397.90" y="115.65" font-size="9.5" text-anchor="end" font-weight="normal" fill="#222222" textLength="4.20" lengthAdjust="spacingAndGlyphs" stroke="#2b2b2b" stroke-width="0.16">5</text>
<line x1="400.70" y1="132.60" x2="403.70" y2="132.60" stroke="#000" stroke-width="1.05" />
<text x="397.90" y="135.75" font-size="9.5" text-anchor="end" font-weight="normal" fill="#222222" textLength="4.20" lengthAdjust="spacingAndGlyphs" stroke="#2b2b2b" stroke-width="0.16">0</text>
<line x1="403.20" y1="138.65" x2="488.50" y2="138.65" stroke="#000" stroke-width="1.25" />
<line x1="427.20" y1="138.65" x2="427.20" y2="141.60" stroke="#000" stroke-width="1.0" />
<line x1="466.60" y1="138.65" x2="466.60" y2="141.60" stroke="#000" stroke-width="1.0" />
<text x="427.20" y="150.40" font-size="8.8" text-anchor="middle" font-weight="normal" fill="#222222" textLength="11.30" lengthAdjust="spacingAndGlyphs" stroke="#2b2b2b" stroke-width="0.18">HC</text>
<text x="466.60" y="150.40" font-size="8.8" text-anchor="middle" font-weight="normal" fill="#222222" textLength="12.90" lengthAdjust="spacingAndGlyphs" stroke="#2b2b2b" stroke-width="0.18">IAA</text>
<text x="0" y="0" transform="translate(384.10,82.00) rotate(-90)" font-size="10.3" text-anchor="middle" fill="#222222" textLength="77.50" lengthAdjust="spacingAndGlyphs" stroke="#222222" stroke-width="0.05">Mean size of expansion</text>
<circle cx="427.94" cy="122.25" r="1.1" fill="#c8102e"/>
<circle cx="423.22" cy="121.27" r="1.1" fill="#c8102e"/>
<circle cx="426.31" cy="116.51" r="1.1" fill="#c8102e"/>
<circle cx="436.00" cy="118.10" r="1.1" fill="#c8102e"/>
<circle cx="427.30" cy="120.27" r="1.1" fill="#c8102e"/>
<circle cx="432.68" cy="117.38" r="1.1" fill="#c8102e"/>
<circle cx="430.20" cy="113.80" r="1.1" fill="#c8102e"/>
<circle cx="425.81" cy="115.84" r="1.1" fill="#c8102e"/>
<circle cx="421.37" cy="111.77" r="1.1" fill="#c8102e"/>
<circle cx="420.02" cy="116.59" r="1.1" fill="#c8102e"/>
<circle cx="426.71" cy="116.28" r="1.1" fill="#c8102e"/>
<circle cx="427.82" cy="112.42" r="1.1" fill="#c8102e"/>
<circle cx="427.13" cy="118.40" r="1.1" fill="#c8102e"/>
<circle cx="430.95" cy="114.28" r="1.1" fill="#c8102e"/>
<circle cx="425.66" cy="109.84" r="1.1" fill="#c8102e"/>
<circle cx="425.18" cy="109.50" r="1.1" fill="#c8102e"/>
<circle cx="420.97" cy="121.69" r="1.1" fill="#c8102e"/>
<circle cx="419.50" cy="120.53" r="1.1" fill="#c8102e"/>
<circle cx="429.01" cy="116.31" r="1.1" fill="#c8102e"/>
<circle cx="429.61" cy="119.50" r="1.1" fill="#c8102e"/>
<circle cx="432.31" cy="116.62" r="1.1" fill="#c8102e"/>
<circle cx="424.78" cy="115.20" r="1.1" fill="#c8102e"/>
<circle cx="422.96" cy="117.33" r="1.1" fill="#c8102e"/>
<circle cx="423.89" cy="121.56" r="1.1" fill="#c8102e"/>
<circle cx="419.50" cy="113.34" r="1.1" fill="#c8102e"/>
<circle cx="423.12" cy="109.55" r="1.1" fill="#c8102e"/>
<circle cx="436.00" cy="109.50" r="1.1" fill="#c8102e"/>
<circle cx="426.20" cy="115.50" r="1.1" fill="#c8102e"/>
<circle cx="435.12" cy="109.96" r="1.1" fill="#c8102e"/>
<circle cx="432.43" cy="114.72" r="1.1" fill="#c8102e"/>
<circle cx="426.79" cy="114.95" r="1.1" fill="#c8102e"/>
<circle cx="430.45" cy="113.18" r="1.1" fill="#c8102e"/>
<circle cx="427.14" cy="118.84" r="1.1" fill="#c8102e"/>
<circle cx="435.97" cy="109.50" r="1.1" fill="#c8102e"/>
<circle cx="434.52" cy="121.10" r="1.1" fill="#c8102e"/>
<circle cx="425.28" cy="118.66" r="1.1" fill="#c8102e"/>
<circle cx="425.36" cy="123.76" r="1.1" fill="#c8102e"/>
<circle cx="428.46" cy="116.68" r="1.1" fill="#c8102e"/>
<circle cx="426.45" cy="116.74" r="1.1" fill="#c8102e"/>
<circle cx="426.69" cy="114.16" r="1.1" fill="#c8102e"/>
<circle cx="436.00" cy="110.24" r="1.1" fill="#c8102e"/>
<circle cx="419.50" cy="117.03" r="1.1" fill="#c8102e"/>
<circle cx="426.83" cy="118.92" r="1.1" fill="#c8102e"/>
<circle cx="426.56" cy="116.94" r="1.1" fill="#c8102e"/>
<circle cx="429.03" cy="121.18" r="1.1" fill="#c8102e"/>
<circle cx="425.44" cy="116.08" r="1.1" fill="#c8102e"/>
<circle cx="436.00" cy="119.51" r="1.1" fill="#c8102e"/>
<circle cx="422.97" cy="124.50" r="1.1" fill="#c8102e"/>
<circle cx="431.07" cy="115.26" r="1.1" fill="#c8102e"/>
<circle cx="422.10" cy="118.63" r="1.1" fill="#c8102e"/>
<circle cx="423.67" cy="113.48" r="1.1" fill="#c8102e"/>
<circle cx="421.54" cy="115.58" r="1.1" fill="#c8102e"/>
<circle cx="432.59" cy="115.85" r="1.1" fill="#c8102e"/>
<circle cx="420.83" cy="120.04" r="1.1" fill="#c8102e"/>
<circle cx="427.80" cy="120.71" r="1.1" fill="#c8102e"/>
<circle cx="433.03" cy="116.86" r="1.1" fill="#c8102e"/>
<circle cx="426.83" cy="117.33" r="1.1" fill="#c8102e"/>
<circle cx="422.28" cy="120.04" r="1.1" fill="#c8102e"/>
<circle cx="433.81" cy="118.16" r="1.1" fill="#c8102e"/>
<circle cx="426.41" cy="116.51" r="1.1" fill="#c8102e"/>
<circle cx="423.91" cy="114.45" r="1.1" fill="#c8102e"/>
<circle cx="425.66" cy="114.30" r="1.1" fill="#c8102e"/>
<circle cx="425.49" cy="111.51" r="1.1" fill="#c8102e"/>
<circle cx="429.11" cy="117.69" r="1.1" fill="#c8102e"/>
<circle cx="422.20" cy="109.50" r="1.1" fill="#c8102e"/>
<circle cx="427.46" cy="121.69" r="1.1" fill="#c8102e"/>
<circle cx="424.13" cy="115.66" r="1.1" fill="#c8102e"/>
<circle cx="424.89" cy="119.98" r="1.1" fill="#c8102e"/>
<circle cx="423.29" cy="121.25" r="1.1" fill="#c8102e"/>
<circle cx="426.11" cy="121.01" r="1.1" fill="#c8102e"/>
<circle cx="427.65" cy="116.62" r="1.1" fill="#c8102e"/>
<circle cx="420.70" cy="114.89" r="1.1" fill="#c8102e"/>
<circle cx="426.30" cy="120.01" r="1.1" fill="#c8102e"/>
<circle cx="428.63" cy="114.85" r="1.1" fill="#c8102e"/>
<circle cx="429.38" cy="121.25" r="1.1" fill="#c8102e"/>
<circle cx="426.82" cy="115.83" r="1.1" fill="#c8102e"/>
<circle cx="425.69" cy="120.58" r="1.1" fill="#c8102e"/>
<circle cx="429.98" cy="113.97" r="1.1" fill="#c8102e"/>
<circle cx="429.22" cy="115.68" r="1.1" fill="#c8102e"/>
<circle cx="424.04" cy="122.21" r="1.1" fill="#c8102e"/>
<circle cx="431.28" cy="114.75" r="1.1" fill="#c8102e"/>
<circle cx="427.86" cy="119.41" r="1.1" fill="#c8102e"/>
<circle cx="424.56" cy="117.04" r="1.1" fill="#c8102e"/>
<circle cx="430.57" cy="110.70" r="1.1" fill="#c8102e"/>
<circle cx="429.01" cy="120.31" r="1.1" fill="#c8102e"/>
<circle cx="429.82" cy="112.40" r="1.1" fill="#c8102e"/>
<circle cx="428.97" cy="114.22" r="1.1" fill="#c8102e"/>
<circle cx="430.12" cy="119.80" r="1.1" fill="#c8102e"/>
<circle cx="428.50" cy="114.59" r="1.1" fill="#c8102e"/>
<circle cx="424.78" cy="120.75" r="1.1" fill="#c8102e"/>
<circle cx="423.37" cy="119.38" r="1.1" fill="#c8102e"/>
<circle cx="429.85" cy="116.44" r="1.1" fill="#c8102e"/>
<circle cx="436.00" cy="117.77" r="1.1" fill="#c8102e"/>
<circle cx="436.00" cy="109.84" r="1.1" fill="#c8102e"/>
<circle cx="419.50" cy="121.23" r="1.1" fill="#c8102e"/>
<circle cx="430.43" cy="116.31" r="1.1" fill="#c8102e"/>
<circle cx="427.25" cy="110.27" r="1.1" fill="#c8102e"/>
<circle cx="424.61" cy="113.57" r="1.1" fill="#c8102e"/>
<circle cx="426.48" cy="120.87" r="1.1" fill="#c8102e"/>
<circle cx="427.74" cy="118.91" r="1.1" fill="#c8102e"/>
<circle cx="424.29" cy="115.85" r="1.1" fill="#c8102e"/>
<circle cx="428.02" cy="116.43" r="1.1" fill="#c8102e"/>
<circle cx="433.32" cy="114.17" r="1.1" fill="#c8102e"/>
<circle cx="436.00" cy="113.77" r="1.1" fill="#c8102e"/>
<circle cx="432.37" cy="114.56" r="1.1" fill="#c8102e"/>
<circle cx="435.08" cy="118.02" r="1.1" fill="#c8102e"/>
<circle cx="429.33" cy="120.33" r="1.1" fill="#c8102e"/>
<circle cx="424.58" cy="113.54" r="1.1" fill="#c8102e"/>
<circle cx="419.50" cy="122.14" r="1.1" fill="#c8102e"/>
<circle cx="424.30" cy="115.25" r="1.1" fill="#c8102e"/>
<circle cx="427.36" cy="124.50" r="1.1" fill="#c8102e"/>
<circle cx="419.55" cy="118.45" r="1.1" fill="#c8102e"/>
<circle cx="425.68" cy="119.52" r="1.1" fill="#c8102e"/>
<circle cx="419.50" cy="115.99" r="1.1" fill="#c8102e"/>
<circle cx="431.37" cy="123.42" r="1.1" fill="#c8102e"/>
<circle cx="434.84" cy="114.25" r="1.1" fill="#c8102e"/>
<circle cx="427.75" cy="117.08" r="1.1" fill="#c8102e"/>
<circle cx="421.17" cy="112.03" r="1.1" fill="#c8102e"/>
<circle cx="430.98" cy="118.43" r="1.1" fill="#c8102e"/>
<circle cx="426.84" cy="122.12" r="1.1" fill="#c8102e"/>
<circle cx="422.89" cy="119.50" r="1.1" fill="#c8102e"/>
<circle cx="427.55" cy="117.27" r="1.1" fill="#c8102e"/>
<circle cx="429.76" cy="118.17" r="1.1" fill="#c8102e"/>
<circle cx="428.73" cy="118.51" r="1.1" fill="#c8102e"/>
<circle cx="436.00" cy="116.32" r="1.1" fill="#c8102e"/>
<circle cx="421.38" cy="105.02" r="1.1" fill="#c8102e"/>
<circle cx="425.05" cy="103.15" r="1.1" fill="#c8102e"/>
<circle cx="425.62" cy="106.47" r="1.1" fill="#c8102e"/>
<circle cx="429.39" cy="103.61" r="1.1" fill="#c8102e"/>
<circle cx="423.06" cy="103.29" r="1.1" fill="#c8102e"/>
<circle cx="421.98" cy="105.56" r="1.1" fill="#c8102e"/>
<circle cx="431.46" cy="103.80" r="1.1" fill="#c8102e"/>
<circle cx="421.28" cy="101.79" r="1.1" fill="#c8102e"/>
<circle cx="425.97" cy="106.04" r="1.1" fill="#c8102e"/>
<circle cx="432.52" cy="103.80" r="1.1" fill="#c8102e"/>
<circle cx="432.82" cy="106.23" r="1.1" fill="#c8102e"/>
<circle cx="426.91" cy="103.72" r="1.1" fill="#c8102e"/>
<circle cx="427.94" cy="107.03" r="1.1" fill="#c8102e"/>
<circle cx="426.73" cy="106.94" r="1.1" fill="#c8102e"/>
<circle cx="430.80" cy="55.00" r="1.05" fill="#c8102e"/>
<circle cx="422.70" cy="81.00" r="1.05" fill="#c8102e"/>
<circle cx="425.40" cy="80.30" r="1.05" fill="#c8102e"/>
<circle cx="429.30" cy="81.80" r="1.05" fill="#c8102e"/>
<circle cx="429.80" cy="86.20" r="1.05" fill="#c8102e"/>
<circle cx="428.60" cy="94.30" r="1.05" fill="#c8102e"/>
<circle cx="430.00" cy="95.70" r="1.05" fill="#c8102e"/>
<circle cx="422.70" cy="99.10" r="1.05" fill="#c8102e"/>
<circle cx="421.20" cy="102.40" r="1.05" fill="#c8102e"/>
<circle cx="433.70" cy="100.90" r="1.05" fill="#c8102e"/>
<circle cx="435.20" cy="103.80" r="1.05" fill="#c8102e"/>
<circle cx="425.60" cy="105.30" r="1.05" fill="#c8102e"/>
<circle cx="434.50" cy="108.50" r="1.05" fill="#c8102e"/>
<circle cx="422.00" cy="108.20" r="1.05" fill="#c8102e"/>
<circle cx="428.00" cy="90.00" r="1.05" fill="#c8102e"/>
<path d="M427.30,52.00 L427.42,52.37 L427.57,52.75 L427.72,53.12 L427.86,53.49 L427.99,53.86 L428.10,54.24 L428.17,54.62 L428.20,55.00 L428.17,55.39 L428.10,55.79 L427.99,56.19 L427.86,56.59 L427.72,56.99 L427.57,57.40 L427.42,57.80 L427.30,58.20 L427.30,58.20 L427.18,57.80 L427.03,57.40 L426.88,56.99 L426.74,56.59 L426.61,56.19 L426.50,55.79 L426.43,55.39 L426.40,55.00 L426.43,54.62 L426.50,54.24 L426.61,53.86 L426.74,53.49 L426.88,53.12 L427.03,52.75 L427.18,52.37 L427.30,52.00 Z" fill="none" stroke="#0a0a0a" stroke-width="1.0" stroke-linejoin="round"/>
<path d="M427.30,78.00 L428.60,81.00 L427.30,84.00 L427.30,84.00 L426.00,81.00 L427.30,78.00 Z" fill="none" stroke="#0a0a0a" stroke-width="1.0" stroke-linejoin="round"/>
<line x1="427.30" y1="48.20" x2="427.30" y2="52.00" stroke="#0a0a0a" stroke-width="1.0" />
<line x1="427.30" y1="58.20" x2="427.30" y2="78.00" stroke="#0a0a0a" stroke-width="1.0" />
<line x1="427.30" y1="84.00" x2="427.30" y2="90.60" stroke="#0a0a0a" stroke-width="1.0" />
<path d="M427.30,90.50 L427.48,91.18 L427.66,91.84 L427.84,92.50 L428.01,93.16 L428.19,93.83 L428.38,94.52 L428.58,95.24 L428.80,96.00 L429.03,96.82 L429.28,97.69 L429.53,98.60 L429.80,99.53 L430.07,100.46 L430.35,101.36 L430.62,102.21 L430.90,103.00 L431.17,103.73 L431.43,104.41 L431.69,105.05 L431.95,105.67 L432.23,106.26 L432.52,106.85 L432.84,107.42 L433.20,108.00 L433.59,108.57 L434.01,109.11 L434.45,109.64 L434.92,110.16 L435.40,110.67 L435.89,111.20 L436.39,111.74 L436.90,112.30 L437.47,112.89 L438.13,113.50 L438.83,114.12 L439.53,114.75 L440.18,115.38 L440.72,116.00 L441.11,116.61 L441.30,117.20 L441.29,117.78 L441.13,118.35 L440.84,118.91 L440.43,119.47 L439.93,120.01 L439.37,120.53 L438.75,121.03 L438.10,121.50 L437.36,121.94 L436.47,122.36 L435.50,122.76 L434.47,123.14 L433.44,123.50 L432.45,123.84 L431.56,124.18 L430.80,124.50 L430.18,124.81 L429.66,125.09 L429.21,125.35 L428.81,125.61 L428.45,125.85 L428.09,126.10 L427.71,126.34 L427.30,126.60 L427.30,126.60 L426.89,126.34 L426.51,126.10 L426.15,125.85 L425.79,125.61 L425.39,125.35 L424.94,125.09 L424.42,124.81 L423.80,124.50 L423.04,124.18 L422.15,123.84 L421.16,123.50 L420.13,123.14 L419.10,122.76 L418.13,122.36 L417.24,121.94 L416.50,121.50 L415.85,121.03 L415.23,120.53 L414.67,120.01 L414.17,119.47 L413.76,118.91 L413.47,118.35 L413.31,117.78 L413.30,117.20 L413.49,116.61 L413.88,116.00 L414.42,115.38 L415.07,114.75 L415.77,114.12 L416.47,113.50 L417.13,112.89 L417.70,112.30 L418.21,111.74 L418.71,111.20 L419.20,110.67 L419.68,110.16 L420.15,109.64 L420.59,109.11 L421.01,108.57 L421.40,108.00 L421.76,107.42 L422.08,106.85 L422.37,106.26 L422.65,105.67 L422.91,105.05 L423.17,104.41 L423.43,103.73 L423.70,103.00 L423.98,102.21 L424.25,101.36 L424.53,100.46 L424.80,99.53 L425.07,98.60 L425.32,97.69 L425.57,96.82 L425.80,96.00 L426.02,95.24 L426.22,94.52 L426.41,93.83 L426.59,93.16 L426.76,92.50 L426.94,91.84 L427.12,91.18 L427.30,90.50 Z" fill="none" stroke="#0a0a0a" stroke-width="1.0" stroke-linejoin="round"/>
<line x1="427.30" y1="126.20" x2="427.30" y2="130.10" stroke="#0a0a0a" stroke-width="1.0" />
<line x1="419.87" y1="110.00" x2="434.73" y2="110.00" stroke="#111" stroke-width="1.0" />
<line x1="414.31" y1="115.40" x2="440.29" y2="115.40" stroke="#111" stroke-width="1.0" />
<line x1="413.99" y1="119.30" x2="440.61" y2="119.30" stroke="#111" stroke-width="1.0" />
<circle cx="461.30" cy="69.90" r="1.05" fill="#0d4a8c"/>
<circle cx="465.10" cy="98.00" r="1.05" fill="#0d4a8c"/>
<circle cx="459.80" cy="104.20" r="1.05" fill="#0d4a8c"/>
<circle cx="472.00" cy="106.40" r="1.05" fill="#0d4a8c"/>
<circle cx="474.10" cy="110.80" r="1.05" fill="#0d4a8c"/>
<circle cx="463.20" cy="115.20" r="1.05" fill="#0d4a8c"/>
<circle cx="466.10" cy="113.90" r="1.05" fill="#0d4a8c"/>
<circle cx="462.00" cy="117.50" r="1.05" fill="#0d4a8c"/>
<circle cx="464.50" cy="118.20" r="1.05" fill="#0d4a8c"/>
<circle cx="466.00" cy="119.50" r="1.05" fill="#0d4a8c"/>
<circle cx="463.00" cy="120.00" r="1.05" fill="#0d4a8c"/>
<circle cx="468.20" cy="119.60" r="1.05" fill="#0d4a8c"/>
<circle cx="472.00" cy="119.60" r="1.05" fill="#0d4a8c"/>
<circle cx="470.80" cy="121.80" r="1.05" fill="#0d4a8c"/>
<circle cx="462.60" cy="121.40" r="1.05" fill="#0d4a8c"/>
<circle cx="465.50" cy="117.20" r="1.05" fill="#0d4a8c"/>
<line x1="466.60" y1="63.00" x2="466.60" y2="65.50" stroke="#0a0a0a" stroke-width="1.0" />
<path d="M466.60,65.50 L466.92,66.01 L467.28,66.53 L467.66,67.04 L468.04,67.55 L468.37,68.06 L468.65,68.57 L468.83,69.09 L468.90,69.60 L468.83,70.11 L468.65,70.62 L468.37,71.14 L468.04,71.65 L467.66,72.16 L467.28,72.67 L466.92,73.19 L466.60,73.70 L466.60,73.70 L466.28,73.19 L465.92,72.67 L465.54,72.16 L465.16,71.65 L464.83,71.14 L464.55,70.62 L464.37,70.11 L464.30,69.60 L464.37,69.09 L464.55,68.57 L464.83,68.06 L465.16,67.55 L465.54,67.04 L465.92,66.53 L466.28,66.01 L466.60,65.50 Z" fill="none" stroke="#0a0a0a" stroke-width="1.0" stroke-linejoin="round"/>
<line x1="466.60" y1="73.70" x2="466.60" y2="92.60" stroke="#0a0a0a" stroke-width="1.0" />
<path d="M466.60,92.50 L466.79,93.00 L466.99,93.51 L467.19,94.02 L467.39,94.53 L467.58,95.04 L467.77,95.54 L467.94,96.02 L468.10,96.50 L468.24,96.95 L468.37,97.38 L468.49,97.78 L468.61,98.19 L468.71,98.60 L468.81,99.03 L468.91,99.49 L469.00,100.00 L469.09,100.55 L469.17,101.13 L469.24,101.73 L469.31,102.36 L469.37,103.00 L469.44,103.66 L469.52,104.33 L469.60,105.00 L469.66,105.70 L469.68,106.45 L469.69,107.23 L469.71,108.01 L469.77,108.78 L469.89,109.51 L470.09,110.19 L470.40,110.80 L470.82,111.31 L471.31,111.75 L471.88,112.13 L472.51,112.47 L473.21,112.81 L473.96,113.16 L474.76,113.55 L475.60,114.00 L476.63,114.51 L477.91,115.07 L479.33,115.65 L480.76,116.26 L482.09,116.86 L483.18,117.47 L483.92,118.05 L484.20,118.60 L483.95,119.12 L483.27,119.62 L482.25,120.11 L481.00,120.59 L479.61,121.06 L478.18,121.53 L476.81,122.01 L475.60,122.50 L474.49,123.00 L473.38,123.49 L472.25,123.99 L471.13,124.49 L469.99,125.00 L468.86,125.50 L467.73,126.00 L466.60,126.50 L466.60,126.50 L465.47,126.00 L464.34,125.50 L463.21,125.00 L462.08,124.49 L460.95,123.99 L459.82,123.49 L458.71,123.00 L457.60,122.50 L456.39,122.01 L455.02,121.53 L453.59,121.06 L452.20,120.59 L450.95,120.11 L449.93,119.62 L449.25,119.12 L449.00,118.60 L449.28,118.05 L450.02,117.47 L451.11,116.86 L452.44,116.26 L453.87,115.65 L455.29,115.07 L456.57,114.51 L457.60,114.00 L458.44,113.55 L459.24,113.16 L459.99,112.81 L460.69,112.47 L461.32,112.13 L461.89,111.75 L462.38,111.31 L462.80,110.80 L463.11,110.19 L463.31,109.51 L463.43,108.78 L463.49,108.01 L463.51,107.23 L463.52,106.45 L463.54,105.70 L463.60,105.00 L463.68,104.33 L463.76,103.66 L463.83,103.00 L463.89,102.36 L463.96,101.73 L464.03,101.13 L464.11,100.55 L464.20,100.00 L464.29,99.49 L464.39,99.03 L464.49,98.60 L464.59,98.19 L464.71,97.78 L464.83,97.38 L464.96,96.95 L465.10,96.50 L465.26,96.02 L465.43,95.54 L465.62,95.04 L465.81,94.53 L466.01,94.02 L466.21,93.51 L466.41,93.00 L466.60,92.50 Z" fill="none" stroke="#0a0a0a" stroke-width="1.0" stroke-linejoin="round"/>
<line x1="466.60" y1="126.50" x2="466.60" y2="130.00" stroke="#000" stroke-width="1.0" />
<line x1="451.36" y1="116.80" x2="481.84" y2="116.80" stroke="#111" stroke-width="1.0" />
<line x1="449.00" y1="118.60" x2="484.20" y2="118.60" stroke="#111" stroke-width="1.0" />
<line x1="452.74" y1="120.80" x2="480.46" y2="120.80" stroke="#111" stroke-width="1.0" />
<text x="7.60" y="171.00" font-size="10.8" text-anchor="start" font-weight="bold" fill="#000" stroke="#000" stroke-width="0.6">D</text>
<path d="M79.40,184.40 L79.40,180.90 L127.50,180.90 L127.50,184.40" fill="none" stroke="#1a1a1a" stroke-width="0.9"/>
<text x="85.10" y="176.10" font-size="6.9" text-anchor="start" font-weight="normal" fill="#222222" textLength="36.30" lengthAdjust="spacingAndGlyphs" stroke="#2b2b2b" stroke-width="0.16">p=3.2e-07</text>
<text x="66.10" y="193.00" font-size="7.5" text-anchor="start" font-weight="bold" fill="#111" textLength="74.90" lengthAdjust="spacingAndGlyphs" stroke="#111" stroke-width="0.2">DRB1*15:01 carriers</text>
<line x1="51.50" y1="193.70" x2="51.50" y2="323.35" stroke="#000" stroke-width="1.25" />
<line x1="48.50" y1="225.50" x2="51.50" y2="225.50" stroke="#000" stroke-width="1.05" />
<text x="45.70" y="228.65" font-size="9.5" text-anchor="end" font-weight="normal" fill="#222222" textLength="17.12" lengthAdjust="spacingAndGlyphs" stroke="#2b2b2b" stroke-width="0.16">5000</text>
<line x1="48.50" y1="258.30" x2="51.50" y2="258.30" stroke="#000" stroke-width="1.05" />
<text x="45.70" y="261.45" font-size="9.5" text-anchor="end" font-weight="normal" fill="#222222" textLength="17.12" lengthAdjust="spacingAndGlyphs" stroke="#2b2b2b" stroke-width="0.16">2500</text>
<line x1="48.50" y1="291.10" x2="51.50" y2="291.10" stroke="#000" stroke-width="1.05" />
<text x="45.70" y="294.25" font-size="9.5" text-anchor="end" font-weight="normal" fill="#222222" textLength="4.28" lengthAdjust="spacingAndGlyphs" stroke="#2b2b2b" stroke-width="0.16">0</text>
<line x1="51.00" y1="323.35" x2="155.40" y2="323.35" stroke="#000" stroke-width="1.25" />
<line x1="80.00" y1="323.35" x2="80.00" y2="326.30" stroke="#000" stroke-width="1.0" />
<line x1="127.30" y1="323.35" x2="127.30" y2="326.30" stroke="#000" stroke-width="1.0" />
<text x="80.00" y="335.00" font-size="8.8" text-anchor="middle" font-weight="normal" fill="#222222" textLength="11.30" lengthAdjust="spacingAndGlyphs" stroke="#2b2b2b" stroke-width="0.18">HC</text>
<text x="127.30" y="335.00" font-size="8.8" text-anchor="middle" font-weight="normal" fill="#222222" textLength="12.90" lengthAdjust="spacingAndGlyphs" stroke="#2b2b2b" stroke-width="0.18">IAA</text>
<text x="0" y="0" transform="translate(22.30,257.90) rotate(-90)" font-size="10.4" text-anchor="middle" fill="#222222" textLength="7.90" lengthAdjust="spacingAndGlyphs" stroke="#222222" stroke-width="0.05">ISI</text>
<circle cx="73.80" cy="226.60" r="1.05" fill="#c8102e"/>
<circle cx="86.90" cy="228.70" r="1.05" fill="#c8102e"/>
<circle cx="76.70" cy="231.30" r="1.05" fill="#c8102e"/>
<circle cx="84.90" cy="232.10" r="1.05" fill="#c8102e"/>
<circle cx="75.30" cy="236.80" r="1.05" fill="#c8102e"/>
<circle cx="82.80" cy="236.20" r="1.05" fill="#c8102e"/>
<circle cx="75.90" cy="242.30" r="1.05" fill="#c8102e"/>
<circle cx="87.50" cy="244.00" r="1.05" fill="#c8102e"/>
<circle cx="76.70" cy="247.70" r="1.05" fill="#c8102e"/>
<circle cx="81.40" cy="247.00" r="1.05" fill="#c8102e"/>
<circle cx="84.00" cy="247.70" r="1.05" fill="#c8102e"/>
<circle cx="84.90" cy="251.70" r="1.05" fill="#c8102e"/>
<circle cx="76.30" cy="260.70" r="1.05" fill="#c8102e"/>
<circle cx="78.70" cy="261.90" r="1.05" fill="#c8102e"/>
<circle cx="76.70" cy="267.40" r="1.05" fill="#c8102e"/>
<circle cx="84.00" cy="266.80" r="1.05" fill="#c8102e"/>
<circle cx="70.60" cy="270.90" r="1.05" fill="#c8102e"/>
<circle cx="84.00" cy="270.90" r="1.05" fill="#c8102e"/>
<circle cx="73.80" cy="275.60" r="1.05" fill="#c8102e"/>
<circle cx="79.30" cy="273.60" r="1.05" fill="#c8102e"/>
<circle cx="86.90" cy="279.10" r="1.05" fill="#c8102e"/>
<circle cx="84.40" cy="281.70" r="1.05" fill="#c8102e"/>
<circle cx="74.70" cy="284.40" r="1.05" fill="#c8102e"/>
<circle cx="76.70" cy="286.40" r="1.05" fill="#c8102e"/>
<circle cx="78.70" cy="288.50" r="1.05" fill="#c8102e"/>
<circle cx="79.30" cy="289.90" r="1.05" fill="#c8102e"/>
<line x1="80.00" y1="199.10" x2="80.00" y2="214.20" stroke="#0a0a0a" stroke-width="1.0" />
<path d="M80.00,214.00 L80.16,214.86 L80.33,215.70 L80.50,216.54 L80.67,217.38 L80.83,218.23 L81.00,219.11 L81.15,220.03 L81.30,221.00 L81.45,221.99 L81.59,222.97 L81.74,223.96 L81.88,225.00 L82.00,226.10 L82.12,227.28 L82.22,228.57 L82.30,230.00 L82.36,231.59 L82.40,233.33 L82.42,235.19 L82.42,237.12 L82.42,239.11 L82.42,241.11 L82.41,243.08 L82.40,245.00 L82.39,246.84 L82.37,248.63 L82.34,250.41 L82.31,252.19 L82.28,254.01 L82.25,255.90 L82.22,257.89 L82.20,260.00 L82.18,262.32 L82.17,264.86 L82.17,267.53 L82.16,270.25 L82.16,272.94 L82.14,275.52 L82.13,277.90 L82.10,280.00 L82.07,281.83 L82.05,283.45 L82.03,284.92 L82.00,286.25 L81.96,287.49 L81.90,288.67 L81.81,289.83 L81.70,291.00 L81.55,292.14 L81.37,293.21 L81.16,294.22 L80.93,295.19 L80.69,296.13 L80.46,297.07 L80.22,298.02 L80.00,299.00 L80.00,299.00 L79.78,298.02 L79.54,297.07 L79.31,296.13 L79.07,295.19 L78.84,294.22 L78.63,293.21 L78.45,292.14 L78.30,291.00 L78.19,289.83 L78.10,288.67 L78.04,287.49 L78.00,286.25 L77.97,284.92 L77.95,283.45 L77.93,281.83 L77.90,280.00 L77.87,277.90 L77.86,275.52 L77.84,272.94 L77.84,270.25 L77.83,267.53 L77.83,264.86 L77.82,262.32 L77.80,260.00 L77.78,257.89 L77.75,255.90 L77.72,254.01 L77.69,252.19 L77.66,250.41 L77.63,248.63 L77.61,246.84 L77.60,245.00 L77.59,243.08 L77.58,241.11 L77.58,239.11 L77.58,237.12 L77.58,235.19 L77.60,233.33 L77.64,231.59 L77.70,230.00 L77.78,228.57 L77.88,227.28 L78.00,226.10 L78.12,225.00 L78.26,223.96 L78.41,222.97 L78.55,221.99 L78.70,221.00 L78.85,220.03 L79.00,219.11 L79.17,218.23 L79.33,217.38 L79.50,216.54 L79.67,215.70 L79.84,214.86 L80.00,214.00 Z" fill="none" stroke="#0a0a0a" stroke-width="1.0" stroke-linejoin="round"/>
<line x1="80.00" y1="299.00" x2="80.00" y2="316.40" stroke="#0a0a0a" stroke-width="1.0" />
<line x1="77.59" y1="242.30" x2="82.41" y2="242.30" stroke="#111" stroke-width="1.0" />
<line x1="77.80" y1="260.30" x2="82.20" y2="260.30" stroke="#111" stroke-width="1.0" />
<line x1="77.86" y1="276.60" x2="82.14" y2="276.60" stroke="#111" stroke-width="1.0" />
<circle cx="119.30" cy="277.50" r="1.05" fill="#0d4a8c"/>
<circle cx="117.90" cy="282.80" r="1.05" fill="#0d4a8c"/>
<circle cx="128.40" cy="284.20" r="1.05" fill="#0d4a8c"/>
<circle cx="121.20" cy="289.50" r="1.05" fill="#0d4a8c"/>
<circle cx="124.60" cy="288.60" r="1.05" fill="#0d4a8c"/>
<circle cx="126.00" cy="290.20" r="1.05" fill="#0d4a8c"/>
<circle cx="129.40" cy="289.80" r="1.05" fill="#0d4a8c"/>
<circle cx="131.80" cy="288.10" r="1.05" fill="#0d4a8c"/>
<circle cx="133.70" cy="290.50" r="1.05" fill="#0d4a8c"/>
<circle cx="121.70" cy="291.00" r="1.05" fill="#0d4a8c"/>
<path d="M127.50,273.50 L127.76,273.75 L128.02,274.00 L128.29,274.26 L128.56,274.51 L128.82,274.76 L129.07,275.01 L129.30,275.26 L129.50,275.50 L129.69,275.73 L129.88,275.96 L130.06,276.18 L130.22,276.39 L130.35,276.61 L130.45,276.83 L130.50,277.06 L130.50,277.30 L130.40,277.55 L130.21,277.80 L129.94,278.07 L129.66,278.33 L129.38,278.60 L129.15,278.87 L129.01,279.14 L129.00,279.40 L129.13,279.66 L129.37,279.93 L129.70,280.19 L130.08,280.46 L130.48,280.72 L130.87,280.98 L131.22,281.24 L131.50,281.50 L131.72,281.75 L131.91,282.01 L132.07,282.26 L132.22,282.51 L132.35,282.75 L132.47,283.00 L132.59,283.25 L132.70,283.50 L132.77,283.75 L132.78,284.00 L132.77,284.26 L132.75,284.51 L132.76,284.76 L132.84,285.01 L133.01,285.26 L133.30,285.50 L133.70,285.73 L134.16,285.95 L134.69,286.16 L135.30,286.37 L135.98,286.58 L136.74,286.81 L137.58,287.04 L138.50,287.30 L139.68,287.58 L141.18,287.88 L142.86,288.20 L144.56,288.52 L146.15,288.85 L147.47,289.17 L148.37,289.49 L148.70,289.80 L148.39,290.10 L147.55,290.41 L146.30,290.72 L144.77,291.03 L143.10,291.32 L141.42,291.60 L139.84,291.86 L138.50,292.10 L137.31,292.31 L136.09,292.49 L134.89,292.66 L133.71,292.81 L132.60,292.95 L131.58,293.09 L130.67,293.24 L129.90,293.40 L129.30,293.57 L128.86,293.74 L128.55,293.92 L128.31,294.09 L128.13,294.27 L127.95,294.45 L127.76,294.62 L127.50,294.80 L127.50,294.80 L127.24,294.62 L127.05,294.45 L126.87,294.27 L126.69,294.09 L126.45,293.92 L126.14,293.74 L125.70,293.57 L125.10,293.40 L124.33,293.24 L123.42,293.09 L122.40,292.95 L121.29,292.81 L120.11,292.66 L118.91,292.49 L117.69,292.31 L116.50,292.10 L115.16,291.86 L113.58,291.60 L111.90,291.32 L110.22,291.03 L108.70,290.72 L107.45,290.41 L106.61,290.10 L106.30,289.80 L106.63,289.49 L107.53,289.17 L108.85,288.85 L110.44,288.52 L112.14,288.20 L113.82,287.88 L115.32,287.58 L116.50,287.30 L117.42,287.04 L118.26,286.81 L119.02,286.58 L119.70,286.37 L120.31,286.16 L120.84,285.95 L121.30,285.73 L121.70,285.50 L121.99,285.26 L122.16,285.01 L122.24,284.76 L122.25,284.51 L122.23,284.26 L122.22,284.00 L122.23,283.75 L122.30,283.50 L122.41,283.25 L122.53,283.00 L122.65,282.75 L122.78,282.51 L122.93,282.26 L123.09,282.01 L123.28,281.75 L123.50,281.50 L123.78,281.24 L124.13,280.98 L124.52,280.72 L124.92,280.46 L125.30,280.19 L125.63,279.93 L125.87,279.66 L126.00,279.40 L125.99,279.14 L125.85,278.87 L125.62,278.60 L125.34,278.33 L125.06,278.07 L124.79,277.80 L124.60,277.55 L124.50,277.30 L124.50,277.06 L124.55,276.83 L124.65,276.61 L124.78,276.39 L124.94,276.18 L125.12,275.96 L125.31,275.73 L125.50,275.50 L125.70,275.26 L125.93,275.01 L126.18,274.76 L126.44,274.51 L126.71,274.26 L126.98,274.00 L127.24,273.75 L127.50,273.50 Z" fill="none" stroke="#0a0a0a" stroke-width="1.0" stroke-linejoin="round"/>
<line x1="112.49" y1="288.10" x2="142.51" y2="288.10" stroke="#111" stroke-width="1.0" />
<line x1="106.30" y1="289.80" x2="148.70" y2="289.80" stroke="#111" stroke-width="1.0" />
<line x1="110.88" y1="291.20" x2="144.12" y2="291.20" stroke="#111" stroke-width="1.0" />
<text x="190.80" y="171.00" font-size="10.8" text-anchor="start" font-weight="bold" fill="#000" stroke="#000" stroke-width="0.6">E</text>
<path d="M262.00,184.20 L262.00,180.60 L309.40,180.60 L309.40,184.20" fill="none" stroke="#1a1a1a" stroke-width="0.9"/>
<text x="268.80" y="175.80" font-size="6.9" text-anchor="start" font-weight="normal" fill="#222222" textLength="34.20" lengthAdjust="spacingAndGlyphs" stroke="#2b2b2b" stroke-width="0.16">p=0.0055</text>
<text x="240.30" y="193.00" font-size="7.5" text-anchor="start" font-weight="bold" fill="#111" textLength="90.90" lengthAdjust="spacingAndGlyphs" stroke="#111" stroke-width="0.2">DRB1*15:01 non-carriers</text>
<line x1="234.00" y1="193.70" x2="234.00" y2="323.15" stroke="#000" stroke-width="1.25" />
<line x1="231.00" y1="227.30" x2="234.00" y2="227.30" stroke="#000" stroke-width="1.05" />
<text x="228.20" y="230.45" font-size="9.5" text-anchor="end" font-weight="normal" fill="#222222" textLength="17.12" lengthAdjust="spacingAndGlyphs" stroke="#2b2b2b" stroke-width="0.16">5000</text>
<line x1="231.00" y1="259.90" x2="234.00" y2="259.90" stroke="#000" stroke-width="1.05" />
<text x="228.20" y="263.05" font-size="9.5" text-anchor="end" font-weight="normal" fill="#222222" textLength="17.12" lengthAdjust="spacingAndGlyphs" stroke="#2b2b2b" stroke-width="0.16">2500</text>
<line x1="231.00" y1="292.80" x2="234.00" y2="292.80" stroke="#000" stroke-width="1.05" />
<text x="228.20" y="295.95" font-size="9.5" text-anchor="end" font-weight="normal" fill="#222222" textLength="4.28" lengthAdjust="spacingAndGlyphs" stroke="#2b2b2b" stroke-width="0.16">0</text>
<line x1="233.50" y1="323.15" x2="337.50" y2="323.15" stroke="#000" stroke-width="1.25" />
<line x1="261.70" y1="323.15" x2="261.70" y2="325.90" stroke="#000" stroke-width="1.0" />
<line x1="309.50" y1="323.15" x2="309.50" y2="325.90" stroke="#000" stroke-width="1.0" />
<text x="261.70" y="335.00" font-size="8.8" text-anchor="middle" font-weight="normal" fill="#222222" textLength="11.30" lengthAdjust="spacingAndGlyphs" stroke="#2b2b2b" stroke-width="0.18">HC</text>
<text x="309.50" y="335.00" font-size="8.8" text-anchor="middle" font-weight="normal" fill="#222222" textLength="12.90" lengthAdjust="spacingAndGlyphs" stroke="#2b2b2b" stroke-width="0.18">IAA</text>
<text x="0" y="0" transform="translate(204.50,257.80) rotate(-90)" font-size="10.4" text-anchor="middle" fill="#222222" textLength="7.90" lengthAdjust="spacingAndGlyphs" stroke="#222222" stroke-width="0.05">ISI</text>
<circle cx="262.40" cy="223.50" r="1.1" fill="#c8102e"/>
<circle cx="259.70" cy="225.20" r="1.1" fill="#c8102e"/>
<circle cx="257.10" cy="225.80" r="1.1" fill="#c8102e"/>
<circle cx="256.50" cy="228.10" r="1.1" fill="#c8102e"/>
<circle cx="259.10" cy="229.40" r="1.1" fill="#c8102e"/>
<circle cx="253.50" cy="230.40" r="1.1" fill="#c8102e"/>
<circle cx="255.50" cy="230.70" r="1.1" fill="#c8102e"/>
<circle cx="267.90" cy="229.70" r="1.1" fill="#c8102e"/>
<circle cx="257.80" cy="231.70" r="1.1" fill="#c8102e"/>
<circle cx="256.20" cy="233.70" r="1.1" fill="#c8102e"/>
<circle cx="267.60" cy="233.30" r="1.1" fill="#c8102e"/>
<circle cx="264.60" cy="234.60" r="1.1" fill="#c8102e"/>
<circle cx="261.40" cy="236.00" r="1.1" fill="#c8102e"/>
<circle cx="259.70" cy="236.90" r="1.1" fill="#c8102e"/>
<circle cx="263.30" cy="237.60" r="1.1" fill="#c8102e"/>
<circle cx="255.80" cy="237.60" r="1.1" fill="#c8102e"/>
<circle cx="254.20" cy="238.90" r="1.1" fill="#c8102e"/>
<circle cx="252.90" cy="240.80" r="1.1" fill="#c8102e"/>
<circle cx="257.80" cy="240.80" r="1.1" fill="#c8102e"/>
<circle cx="261.70" cy="240.80" r="1.1" fill="#c8102e"/>
<circle cx="269.90" cy="241.50" r="1.1" fill="#c8102e"/>
<circle cx="270.80" cy="242.80" r="1.1" fill="#c8102e"/>
<circle cx="260.10" cy="243.80" r="1.1" fill="#c8102e"/>
<circle cx="260.40" cy="244.80" r="1.1" fill="#c8102e"/>
<circle cx="263.00" cy="247.40" r="1.1" fill="#c8102e"/>
<circle cx="267.30" cy="246.40" r="1.1" fill="#c8102e"/>
<circle cx="270.80" cy="247.00" r="1.1" fill="#c8102e"/>
<circle cx="259.70" cy="250.00" r="1.1" fill="#c8102e"/>
<circle cx="263.00" cy="251.00" r="1.1" fill="#c8102e"/>
<circle cx="267.90" cy="251.90" r="1.1" fill="#c8102e"/>
<circle cx="270.80" cy="251.60" r="1.1" fill="#c8102e"/>
<circle cx="252.60" cy="254.20" r="1.1" fill="#c8102e"/>
<circle cx="252.60" cy="255.90" r="1.1" fill="#c8102e"/>
<circle cx="267.60" cy="254.60" r="1.1" fill="#c8102e"/>
<circle cx="270.80" cy="255.50" r="1.1" fill="#c8102e"/>
<circle cx="263.00" cy="256.50" r="1.1" fill="#c8102e"/>
<circle cx="268.90" cy="258.30" r="1.1" fill="#c8102e"/>
<circle cx="260.40" cy="260.90" r="1.1" fill="#c8102e"/>
<circle cx="263.30" cy="262.90" r="1.1" fill="#c8102e"/>
<circle cx="264.60" cy="263.80" r="1.1" fill="#c8102e"/>
<circle cx="270.20" cy="262.50" r="1.1" fill="#c8102e"/>
<circle cx="268.20" cy="264.50" r="1.1" fill="#c8102e"/>
<circle cx="256.20" cy="268.40" r="1.1" fill="#c8102e"/>
<circle cx="258.10" cy="268.10" r="1.1" fill="#c8102e"/>
<circle cx="261.10" cy="268.70" r="1.1" fill="#c8102e"/>
<circle cx="263.00" cy="274.00" r="1.1" fill="#c8102e"/>
<circle cx="258.80" cy="274.90" r="1.1" fill="#c8102e"/>
<circle cx="266.00" cy="276.60" r="1.1" fill="#c8102e"/>
<circle cx="256.20" cy="277.20" r="1.1" fill="#c8102e"/>
<circle cx="255.80" cy="279.50" r="1.1" fill="#c8102e"/>
<circle cx="261.40" cy="279.80" r="1.1" fill="#c8102e"/>
<circle cx="267.30" cy="280.50" r="1.1" fill="#c8102e"/>
<circle cx="257.50" cy="281.80" r="1.1" fill="#c8102e"/>
<circle cx="253.50" cy="283.70" r="1.1" fill="#c8102e"/>
<circle cx="256.50" cy="284.10" r="1.1" fill="#c8102e"/>
<circle cx="259.70" cy="284.70" r="1.1" fill="#c8102e"/>
<circle cx="260.40" cy="286.40" r="1.1" fill="#c8102e"/>
<circle cx="267.60" cy="286.00" r="1.1" fill="#c8102e"/>
<circle cx="253.20" cy="288.00" r="1.1" fill="#c8102e"/>
<circle cx="253.50" cy="290.00" r="1.1" fill="#c8102e"/>
<circle cx="256.20" cy="288.30" r="1.1" fill="#c8102e"/>
<circle cx="262.40" cy="289.00" r="1.1" fill="#c8102e"/>
<circle cx="263.70" cy="289.00" r="1.1" fill="#c8102e"/>
<circle cx="256.50" cy="290.90" r="1.1" fill="#c8102e"/>
<circle cx="260.10" cy="290.60" r="1.1" fill="#c8102e"/>
<circle cx="257.10" cy="292.60" r="1.1" fill="#c8102e"/>
<circle cx="260.70" cy="291.60" r="1.1" fill="#c8102e"/>
<circle cx="270.50" cy="291.60" r="1.1" fill="#c8102e"/>
<circle cx="264.13" cy="288.72" r="1.1" fill="#c8102e"/>
<circle cx="264.10" cy="290.76" r="1.1" fill="#c8102e"/>
<circle cx="258.12" cy="240.98" r="1.1" fill="#c8102e"/>
<circle cx="266.51" cy="277.81" r="1.1" fill="#c8102e"/>
<circle cx="255.71" cy="233.79" r="1.1" fill="#c8102e"/>
<circle cx="253.20" cy="279.47" r="1.1" fill="#c8102e"/>
<circle cx="263.08" cy="237.78" r="1.1" fill="#c8102e"/>
<circle cx="261.77" cy="226.50" r="1.1" fill="#c8102e"/>
<circle cx="254.90" cy="276.03" r="1.1" fill="#c8102e"/>
<circle cx="256.14" cy="279.45" r="1.1" fill="#c8102e"/>
<circle cx="266.09" cy="280.63" r="1.1" fill="#c8102e"/>
<circle cx="261.09" cy="286.85" r="1.1" fill="#c8102e"/>
<circle cx="263.35" cy="236.43" r="1.1" fill="#c8102e"/>
<circle cx="266.41" cy="280.78" r="1.1" fill="#c8102e"/>
<circle cx="254.83" cy="226.62" r="1.1" fill="#c8102e"/>
<circle cx="256.31" cy="234.86" r="1.1" fill="#c8102e"/>
<circle cx="260.46" cy="230.08" r="1.1" fill="#c8102e"/>
<circle cx="262.00" cy="232.65" r="1.1" fill="#c8102e"/>
<circle cx="258.29" cy="236.68" r="1.1" fill="#c8102e"/>
<circle cx="263.73" cy="224.41" r="1.1" fill="#c8102e"/>
<circle cx="265.67" cy="276.29" r="1.1" fill="#c8102e"/>
<circle cx="258.49" cy="285.26" r="1.1" fill="#c8102e"/>
<circle cx="253.51" cy="227.26" r="1.1" fill="#c8102e"/>
<circle cx="255.95" cy="288.09" r="1.1" fill="#c8102e"/>
<circle cx="267.13" cy="281.51" r="1.1" fill="#c8102e"/>
<circle cx="258.77" cy="237.96" r="1.1" fill="#c8102e"/>
<circle cx="261.23" cy="238.35" r="1.1" fill="#c8102e"/>
<circle cx="253.55" cy="291.13" r="1.1" fill="#c8102e"/>
<circle cx="256.75" cy="234.99" r="1.1" fill="#c8102e"/>
<circle cx="258.10" cy="290.79" r="1.1" fill="#c8102e"/>
<line x1="261.90" y1="198.70" x2="261.90" y2="215.00" stroke="#0a0a0a" stroke-width="1.0" />
<path d="M261.90,213.50 L262.20,214.47 L262.51,215.43 L262.83,216.39 L263.14,217.34 L263.44,218.31 L263.74,219.29 L264.03,220.28 L264.30,221.30 L264.57,222.34 L264.85,223.38 L265.12,224.44 L265.39,225.51 L265.63,226.60 L265.83,227.71 L265.99,228.84 L266.10,230.00 L266.15,231.14 L266.14,232.24 L266.09,233.34 L266.01,234.47 L265.90,235.67 L265.78,236.96 L265.64,238.40 L265.50,240.00 L265.34,241.87 L265.13,244.00 L264.89,246.32 L264.65,248.71 L264.41,251.09 L264.20,253.36 L264.02,255.43 L263.90,257.20 L263.83,258.63 L263.80,259.81 L263.79,260.79 L263.81,261.66 L263.86,262.49 L263.92,263.34 L264.01,264.28 L264.10,265.40 L264.23,266.69 L264.39,268.10 L264.59,269.58 L264.80,271.10 L265.01,272.62 L265.21,274.10 L265.37,275.51 L265.50,276.80 L265.59,277.97 L265.68,279.06 L265.74,280.07 L265.79,281.05 L265.81,282.01 L265.80,282.97 L265.77,283.96 L265.70,285.00 L265.59,286.08 L265.44,287.18 L265.26,288.29 L265.05,289.42 L264.82,290.55 L264.58,291.70 L264.34,292.85 L264.10,294.00 L263.85,295.16 L263.59,296.34 L263.32,297.53 L263.04,298.72 L262.75,299.92 L262.46,301.11 L262.18,302.31 L261.90,303.50 L261.90,303.50 L261.62,302.31 L261.34,301.11 L261.05,299.92 L260.76,298.72 L260.48,297.53 L260.21,296.34 L259.95,295.16 L259.70,294.00 L259.46,292.85 L259.22,291.70 L258.98,290.55 L258.75,289.42 L258.54,288.29 L258.36,287.18 L258.21,286.08 L258.10,285.00 L258.03,283.96 L258.00,282.97 L257.99,282.01 L258.01,281.05 L258.06,280.07 L258.12,279.06 L258.21,277.97 L258.30,276.80 L258.43,275.51 L258.59,274.10 L258.79,272.62 L259.00,271.10 L259.21,269.58 L259.41,268.10 L259.57,266.69 L259.70,265.40 L259.79,264.28 L259.88,263.34 L259.94,262.49 L259.99,261.66 L260.01,260.79 L260.00,259.81 L259.97,258.63 L259.90,257.20 L259.78,255.43 L259.60,253.36 L259.39,251.09 L259.15,248.71 L258.91,246.32 L258.67,244.00 L258.46,241.87 L258.30,240.00 L258.16,238.40 L258.02,236.96 L257.90,235.67 L257.79,234.47 L257.71,233.34 L257.66,232.24 L257.65,231.14 L257.70,230.00 L257.81,228.84 L257.97,227.71 L258.17,226.60 L258.41,225.51 L258.68,224.44 L258.95,223.38 L259.23,222.34 L259.50,221.30 L259.77,220.28 L260.06,219.29 L260.36,218.31 L260.66,217.34 L260.97,216.39 L261.29,215.43 L261.60,214.47 L261.90,213.50 Z" fill="none" stroke="#0a0a0a" stroke-width="1.0" stroke-linejoin="round"/>
<line x1="261.90" y1="302.90" x2="261.90" y2="316.40" stroke="#0a0a0a" stroke-width="1.0" />
<line x1="258.30" y1="240.10" x2="265.50" y2="240.10" stroke="#111" stroke-width="1.0" />
<line x1="259.90" y1="257.20" x2="263.90" y2="257.20" stroke="#111" stroke-width="1.0" />
<line x1="258.05" y1="280.40" x2="265.75" y2="280.40" stroke="#111" stroke-width="1.0" />
<path d="M309.50,247.00 L313.10,250.00 L315.90,252.90 L313.10,255.50 L309.50,258.10 L309.50,258.10 L305.90,255.50 L303.10,252.90 L305.90,250.00 L309.50,247.00 Z" fill="none" stroke="#0a0a0a" stroke-width="1.0" stroke-linejoin="round"/>
<line x1="309.50" y1="258.10" x2="309.50" y2="278.80" stroke="#0a0a0a" stroke-width="1.0" />
<circle cx="303.10" cy="252.70" r="1.05" fill="#0d4a8c"/>
<circle cx="308.00" cy="284.50" r="1.05" fill="#0d4a8c"/>
<circle cx="315.80" cy="286.00" r="1.05" fill="#0d4a8c"/>
<circle cx="318.80" cy="288.00" r="1.05" fill="#0d4a8c"/>
<circle cx="302.60" cy="288.90" r="1.05" fill="#0d4a8c"/>
<circle cx="314.80" cy="291.10" r="1.05" fill="#0d4a8c"/>
<circle cx="318.10" cy="290.70" r="1.05" fill="#0d4a8c"/>
<path d="M309.50,278.60 L309.76,278.92 L309.96,279.24 L310.14,279.56 L310.32,279.89 L310.56,280.21 L310.88,280.52 L311.31,280.82 L311.90,281.10 L312.65,281.34 L313.52,281.54 L314.51,281.70 L315.58,281.87 L316.72,282.06 L317.90,282.29 L319.10,282.60 L320.30,283.00 L321.65,283.52 L323.25,284.15 L324.96,284.85 L326.66,285.60 L328.24,286.36 L329.57,287.10 L330.53,287.79 L331.00,288.40 L330.93,288.93 L330.43,289.42 L329.58,289.88 L328.48,290.31 L327.19,290.71 L325.83,291.11 L324.47,291.50 L323.20,291.90 L321.89,292.30 L320.41,292.69 L318.83,293.07 L317.21,293.44 L315.64,293.80 L314.18,294.15 L312.91,294.48 L311.90,294.80 L311.17,295.09 L310.67,295.36 L310.35,295.62 L310.14,295.86 L310.01,296.09 L309.89,296.32 L309.74,296.56 L309.50,296.80 L309.50,296.80 L309.26,296.56 L309.11,296.32 L308.99,296.09 L308.86,295.86 L308.65,295.62 L308.33,295.36 L307.83,295.09 L307.10,294.80 L306.09,294.48 L304.82,294.15 L303.36,293.80 L301.79,293.44 L300.17,293.07 L298.59,292.69 L297.11,292.30 L295.80,291.90 L294.53,291.50 L293.17,291.11 L291.81,290.71 L290.52,290.31 L289.42,289.88 L288.57,289.42 L288.07,288.93 L288.00,288.40 L288.47,287.79 L289.43,287.10 L290.76,286.36 L292.34,285.60 L294.04,284.85 L295.75,284.15 L297.35,283.52 L298.70,283.00 L299.90,282.60 L301.10,282.29 L302.28,282.06 L303.42,281.87 L304.49,281.70 L305.48,281.54 L306.35,281.34 L307.10,281.10 L307.69,280.82 L308.12,280.52 L308.44,280.21 L308.68,279.89 L308.86,279.56 L309.04,279.24 L309.24,278.92 L309.50,278.60 Z" fill="none" stroke="#0a0a0a" stroke-width="1.0" stroke-linejoin="round"/>
<line x1="295.75" y1="284.20" x2="323.25" y2="284.20" stroke="#111" stroke-width="1.0" />
<line x1="288.62" y1="287.70" x2="330.38" y2="287.70" stroke="#111" stroke-width="1.0" />
<line x1="290.06" y1="290.10" x2="328.94" y2="290.10" stroke="#111" stroke-width="1.0" />
<text x="7.40" y="355.00" font-size="10.8" text-anchor="start" font-weight="bold" fill="#000" stroke="#000" stroke-width="0.6">F</text>
<text x="58.60" y="360.90" font-size="8.3" fill="#d0243f" stroke="#d0243f" stroke-width="0.12" textLength="84.60" lengthAdjust="spacing">Adj R<tspan font-size="5.4" dy="-3.0">2</tspan><tspan dy="3.0">=0.0016 p=0.276</tspan></text>
<text x="58.60" y="371.30" font-size="8.3" fill="#2a64a0" stroke="#2a64a0" stroke-width="0.12" textLength="78.80" lengthAdjust="spacing">Adj R<tspan font-size="5.4" dy="-3.0">2</tspan><tspan dy="3.0">=0.044 p=0.191</tspan></text>
<line x1="51.30" y1="372.30" x2="51.30" y2="448.80" stroke="#000" stroke-width="1.25" />
<line x1="48.30" y1="380.30" x2="51.30" y2="380.30" stroke="#000" stroke-width="1.05" />
<text x="45.50" y="383.45" font-size="9.5" text-anchor="end" font-weight="normal" fill="#222222" textLength="17.52" lengthAdjust="spacingAndGlyphs" stroke="#2b2b2b" stroke-width="0.16">6000</text>
<line x1="48.30" y1="403.50" x2="51.30" y2="403.50" stroke="#000" stroke-width="1.05" />
<text x="45.50" y="406.65" font-size="9.5" text-anchor="end" font-weight="normal" fill="#222222" textLength="17.52" lengthAdjust="spacingAndGlyphs" stroke="#2b2b2b" stroke-width="0.16">4000</text>
<line x1="48.30" y1="426.30" x2="51.30" y2="426.30" stroke="#000" stroke-width="1.05" />
<text x="45.50" y="429.45" font-size="9.5" text-anchor="end" font-weight="normal" fill="#222222" textLength="17.52" lengthAdjust="spacingAndGlyphs" stroke="#2b2b2b" stroke-width="0.16">2000</text>
<line x1="48.30" y1="449.00" x2="51.30" y2="449.00" stroke="#000" stroke-width="1.05" />
<text x="45.50" y="452.15" font-size="9.5" text-anchor="end" font-weight="normal" fill="#222222" textLength="4.38" lengthAdjust="spacingAndGlyphs" stroke="#2b2b2b" stroke-width="0.16">0</text>
<line x1="51.00" y1="448.80" x2="149.50" y2="448.80" stroke="#000" stroke-width="1.25" />
<line x1="51.60" y1="448.80" x2="51.60" y2="452.20" stroke="#000" stroke-width="1.05" />
<line x1="59.43" y1="448.80" x2="59.43" y2="450.90" stroke="#000" stroke-width="0.95" />
<line x1="67.26" y1="448.80" x2="67.26" y2="450.90" stroke="#000" stroke-width="0.95" />
<line x1="75.09" y1="448.80" x2="75.09" y2="450.90" stroke="#000" stroke-width="0.95" />
<line x1="82.92" y1="448.80" x2="82.92" y2="450.90" stroke="#000" stroke-width="0.95" />
<line x1="90.75" y1="448.80" x2="90.75" y2="452.20" stroke="#000" stroke-width="1.05" />
<line x1="98.58" y1="448.80" x2="98.58" y2="450.90" stroke="#000" stroke-width="0.95" />
<line x1="106.41" y1="448.80" x2="106.41" y2="450.90" stroke="#000" stroke-width="0.95" />
<line x1="114.24" y1="448.80" x2="114.24" y2="450.90" stroke="#000" stroke-width="0.95" />
<line x1="122.07" y1="448.80" x2="122.07" y2="450.90" stroke="#000" stroke-width="0.95" />
<line x1="129.90" y1="448.80" x2="129.90" y2="452.20" stroke="#000" stroke-width="1.05" />
<line x1="137.73" y1="448.80" x2="137.73" y2="450.90" stroke="#000" stroke-width="0.95" />
<line x1="145.56" y1="448.80" x2="145.56" y2="450.90" stroke="#000" stroke-width="0.95" />
<text x="51.60" y="460.85" font-size="9.6" text-anchor="middle" font-weight="normal" fill="#222222" textLength="4.10" lengthAdjust="spacingAndGlyphs" stroke="#2b2b2b" stroke-width="0.12">0</text>
<text x="90.75" y="460.85" font-size="9.6" text-anchor="middle" font-weight="normal" fill="#222222" textLength="4.10" lengthAdjust="spacingAndGlyphs" stroke="#2b2b2b" stroke-width="0.12">5</text>
<text x="129.90" y="460.85" font-size="9.6" text-anchor="middle" font-weight="normal" fill="#222222" textLength="8.20" lengthAdjust="spacingAndGlyphs" stroke="#2b2b2b" stroke-width="0.12">10</text>
<text x="0" y="0" transform="translate(22.50,414.30) rotate(-90)" font-size="10.4" text-anchor="middle" fill="#222222" textLength="7.90" lengthAdjust="spacingAndGlyphs" stroke="#222222" stroke-width="0.05">ISI</text>
<path d="M52.50,415.60 L56.47,415.96 L60.50,416.34 L64.53,416.73 L68.50,417.08 L72.34,417.38 L76.00,417.60 L79.17,417.82 L81.86,418.07 L84.42,418.27 L87.22,418.32 L90.62,418.13 L95.00,417.60 L100.54,416.65 L106.99,415.34 L114.04,413.79 L121.39,412.12 L128.75,410.45 L135.80,408.90" fill="none" stroke="#111" stroke-width="1.15" stroke-dasharray="1.0,1.0"/>
<path d="M52.50,434.20 L56.60,433.01 L60.76,431.76 L64.91,430.51 L69.01,429.32 L73.02,428.23 L76.90,427.30 L80.41,426.53 L83.56,425.88 L86.61,425.33 L89.85,424.88 L93.56,424.50 L98.00,424.20 L103.33,424.00 L109.36,423.92 L115.86,423.92 L122.58,423.96 L129.31,424.00 L135.80,424.00" fill="none" stroke="#111" stroke-width="1.15" stroke-dasharray="1.0,1.0"/>
<line x1="51.60" y1="425.00" x2="135.80" y2="416.50" stroke="#c8102e" stroke-width="1.2" />
<path d="M76.90,428.40 L80.22,429.78 L83.31,431.21 L86.41,432.64 L89.73,434.01 L93.52,435.29 L98.00,436.40 L103.33,437.32 L109.36,438.08 L115.86,438.74 L122.58,439.34 L129.31,439.94 L135.80,440.60" fill="none" stroke="#111" stroke-width="1.15" stroke-dasharray="1.0,1.0"/>
<line x1="77.10" y1="438.40" x2="135.80" y2="447.90" stroke="#0d4a8c" stroke-width="1.2" />
<path d="M49.45,391.80 L52.75,391.80 L51.10,394.77 Z" fill="#c8102e"/>
<path d="M49.45,397.20 L52.75,397.20 L51.10,400.17 Z" fill="#c8102e"/>
<path d="M49.45,402.20 L52.75,402.20 L51.10,405.17 Z" fill="#c8102e"/>
<path d="M78.75,388.90 L82.05,388.90 L80.40,391.87 Z" fill="#c8102e"/>
<path d="M86.35,392.40 L89.65,392.40 L88.00,395.37 Z" fill="#c8102e"/>
<path d="M95.05,392.40 L98.35,392.40 L96.70,395.37 Z" fill="#c8102e"/>
<path d="M86.85,396.50 L90.15,396.50 L88.50,399.47 Z" fill="#c8102e"/>
<path d="M86.85,398.70 L90.15,398.70 L88.50,401.67 Z" fill="#c8102e"/>
<path d="M94.75,397.50 L98.05,397.50 L96.40,400.47 Z" fill="#c8102e"/>
<path d="M66.45,400.00 L69.75,400.00 L68.10,402.97 Z" fill="#c8102e"/>
<path d="M68.35,401.50 L71.65,401.50 L70.00,404.47 Z" fill="#c8102e"/>
<path d="M66.75,405.30 L70.05,405.30 L68.40,408.27 Z" fill="#c8102e"/>
<path d="M72.35,403.50 L75.65,403.50 L74.00,406.47 Z" fill="#c8102e"/>
<path d="M91.55,399.70 L94.85,399.70 L93.20,402.67 Z" fill="#c8102e"/>
<path d="M84.05,407.30 L87.35,407.30 L85.70,410.27 Z" fill="#c8102e"/>
<path d="M85.55,406.90 L88.85,406.90 L87.20,409.87 Z" fill="#c8102e"/>
<path d="M89.05,404.80 L92.35,404.80 L90.70,407.77 Z" fill="#c8102e"/>
<path d="M90.55,406.50 L93.85,406.50 L92.20,409.47 Z" fill="#c8102e"/>
<path d="M94.75,407.30 L98.05,407.30 L96.40,410.27 Z" fill="#c8102e"/>
<path d="M76.25,411.00 L79.55,411.00 L77.90,413.97 Z" fill="#c8102e"/>
<path d="M79.25,410.70 L82.55,410.70 L80.90,413.67 Z" fill="#c8102e"/>
<path d="M95.05,411.00 L98.35,411.00 L96.70,413.97 Z" fill="#c8102e"/>
<path d="M89.05,415.70 L92.35,415.70 L90.70,418.67 Z" fill="#c8102e"/>
<path d="M95.05,414.40 L98.35,414.40 L96.70,417.37 Z" fill="#c8102e"/>
<path d="M69.55,422.00 L72.85,422.00 L71.20,424.97 Z" fill="#c8102e"/>
<path d="M83.75,421.30 L87.05,421.30 L85.40,424.27 Z" fill="#c8102e"/>
<path d="M89.65,425.40 L92.95,425.40 L91.30,428.37 Z" fill="#c8102e"/>
<path d="M90.35,426.10 L93.65,426.10 L92.00,429.07 Z" fill="#c8102e"/>
<path d="M71.25,432.60 L74.55,432.60 L72.90,435.57 Z" fill="#c8102e"/>
<path d="M76.25,431.60 L79.55,431.60 L77.90,434.57 Z" fill="#c8102e"/>
<path d="M80.25,430.40 L83.55,430.40 L81.90,433.37 Z" fill="#c8102e"/>
<path d="M81.55,433.60 L84.85,433.60 L83.20,436.57 Z" fill="#c8102e"/>
<path d="M69.25,436.70 L72.55,436.70 L70.90,439.67 Z" fill="#c8102e"/>
<path d="M57.95,440.80 L61.25,440.80 L59.60,443.77 Z" fill="#c8102e"/>
<path d="M67.45,441.80 L70.75,441.80 L69.10,444.77 Z" fill="#c8102e"/>
<path d="M73.95,438.70 L77.25,438.70 L75.60,441.67 Z" fill="#c8102e"/>
<path d="M75.45,443.70 L78.75,443.70 L77.10,446.67 Z" fill="#c8102e"/>
<path d="M84.65,438.90 L87.95,438.90 L86.30,441.87 Z" fill="#c8102e"/>
<path d="M49.45,444.20 L52.75,444.20 L51.10,447.17 Z" fill="#c8102e"/>
<path d="M81.55,446.20 L84.85,446.20 L83.20,449.17 Z" fill="#c8102e"/>
<path d="M83.75,445.00 L87.05,445.00 L85.40,447.97 Z" fill="#c8102e"/>
<path d="M86.35,443.70 L89.65,443.70 L88.00,446.67 Z" fill="#c8102e"/>
<path d="M87.55,442.90 L90.85,442.90 L89.20,445.87 Z" fill="#c8102e"/>
<path d="M116.55,386.20 L119.85,386.20 L118.20,389.17 Z" fill="#c8102e"/>
<path d="M118.45,387.20 L121.75,387.20 L120.10,390.17 Z" fill="#c8102e"/>
<path d="M131.65,390.20 L134.95,390.20 L133.30,393.17 Z" fill="#c8102e"/>
<path d="M113.15,390.90 L116.45,390.90 L114.80,393.87 Z" fill="#c8102e"/>
<path d="M95.85,392.40 L99.15,392.40 L97.50,395.37 Z" fill="#c8102e"/>
<path d="M98.15,391.80 L101.45,391.80 L99.80,394.77 Z" fill="#c8102e"/>
<path d="M97.75,393.70 L101.05,393.70 L99.40,396.67 Z" fill="#c8102e"/>
<path d="M101.15,395.20 L104.45,395.20 L102.80,398.17 Z" fill="#c8102e"/>
<path d="M108.45,394.70 L111.75,394.70 L110.10,397.67 Z" fill="#c8102e"/>
<path d="M112.45,395.20 L115.75,395.20 L114.10,398.17 Z" fill="#c8102e"/>
<path d="M114.05,396.80 L117.35,396.80 L115.70,399.77 Z" fill="#c8102e"/>
<path d="M113.15,397.70 L116.45,397.70 L114.80,400.67 Z" fill="#c8102e"/>
<path d="M121.65,393.40 L124.95,393.40 L123.30,396.37 Z" fill="#c8102e"/>
<path d="M121.95,394.70 L125.25,394.70 L123.60,397.67 Z" fill="#c8102e"/>
<path d="M94.85,397.50 L98.15,397.50 L96.50,400.47 Z" fill="#c8102e"/>
<path d="M104.45,400.60 L107.75,400.60 L106.10,403.57 Z" fill="#c8102e"/>
<path d="M108.15,401.90 L111.45,401.90 L109.80,404.87 Z" fill="#c8102e"/>
<path d="M110.95,400.00 L114.25,400.00 L112.60,402.97 Z" fill="#c8102e"/>
<path d="M112.15,401.20 L115.45,401.20 L113.80,404.17 Z" fill="#c8102e"/>
<path d="M114.05,402.20 L117.35,402.20 L115.70,405.17 Z" fill="#c8102e"/>
<path d="M115.95,400.00 L119.25,400.00 L117.60,402.97 Z" fill="#c8102e"/>
<path d="M117.45,399.70 L120.75,399.70 L119.10,402.67 Z" fill="#c8102e"/>
<path d="M121.25,403.10 L124.55,403.10 L122.90,406.07 Z" fill="#c8102e"/>
<path d="M94.85,407.50 L98.15,407.50 L96.50,410.47 Z" fill="#c8102e"/>
<path d="M99.65,406.50 L102.95,406.50 L101.30,409.47 Z" fill="#c8102e"/>
<path d="M100.85,409.40 L104.15,409.40 L102.50,412.37 Z" fill="#c8102e"/>
<path d="M111.95,409.40 L115.25,409.40 L113.60,412.37 Z" fill="#c8102e"/>
<path d="M113.45,408.50 L116.75,408.50 L115.10,411.47 Z" fill="#c8102e"/>
<path d="M115.75,409.40 L119.05,409.40 L117.40,412.37 Z" fill="#c8102e"/>
<path d="M94.85,411.00 L98.15,411.00 L96.50,413.97 Z" fill="#c8102e"/>
<path d="M94.85,414.80 L98.15,414.80 L96.50,417.77 Z" fill="#c8102e"/>
<path d="M98.35,416.10 L101.65,416.10 L100.00,419.07 Z" fill="#c8102e"/>
<path d="M106.55,412.80 L109.85,412.80 L108.20,415.77 Z" fill="#c8102e"/>
<path d="M109.05,414.10 L112.35,414.10 L110.70,417.07 Z" fill="#c8102e"/>
<path d="M119.15,413.60 L122.45,413.60 L120.80,416.57 Z" fill="#c8102e"/>
<path d="M99.35,420.70 L102.65,420.70 L101.00,423.67 Z" fill="#c8102e"/>
<path d="M113.15,419.10 L116.45,419.10 L114.80,422.07 Z" fill="#c8102e"/>
<path d="M130.05,416.90 L133.35,416.90 L131.70,419.87 Z" fill="#c8102e"/>
<path d="M134.55,420.30 L137.85,420.30 L136.20,423.27 Z" fill="#c8102e"/>
<path d="M103.15,426.10 L106.45,426.10 L104.80,429.07 Z" fill="#c8102e"/>
<path d="M106.15,425.70 L109.45,425.70 L107.80,428.67 Z" fill="#c8102e"/>
<path d="M115.35,426.10 L118.65,426.10 L117.00,429.07 Z" fill="#c8102e"/>
<path d="M119.15,426.10 L122.45,426.10 L120.80,429.07 Z" fill="#c8102e"/>
<path d="M109.95,428.90 L113.25,428.90 L111.60,431.87 Z" fill="#c8102e"/>
<path d="M113.15,430.40 L116.45,430.40 L114.80,433.37 Z" fill="#c8102e"/>
<path d="M123.75,431.40 L127.05,431.40 L125.40,434.37 Z" fill="#c8102e"/>
<path d="M101.15,433.60 L104.45,433.60 L102.80,436.57 Z" fill="#c8102e"/>
<path d="M106.55,432.40 L109.85,432.40 L108.20,435.37 Z" fill="#c8102e"/>
<path d="M105.65,435.40 L108.95,435.40 L107.30,438.37 Z" fill="#c8102e"/>
<path d="M108.15,436.40 L111.45,436.40 L109.80,439.37 Z" fill="#c8102e"/>
<path d="M114.45,435.40 L117.75,435.40 L116.10,438.37 Z" fill="#c8102e"/>
<path d="M121.25,437.00 L124.55,437.00 L122.90,439.97 Z" fill="#c8102e"/>
<path d="M128.25,435.80 L131.55,435.80 L129.90,438.77 Z" fill="#c8102e"/>
<path d="M117.85,438.70 L121.15,438.70 L119.50,441.67 Z" fill="#c8102e"/>
<path d="M97.75,439.60 L101.05,439.60 L99.40,442.57 Z" fill="#c8102e"/>
<path d="M97.15,442.10 L100.45,442.10 L98.80,445.07 Z" fill="#c8102e"/>
<path d="M106.55,442.90 L109.85,442.90 L108.20,445.87 Z" fill="#c8102e"/>
<path d="M110.95,441.40 L114.25,441.40 L112.60,444.37 Z" fill="#c8102e"/>
<path d="M96.15,445.00 L99.45,445.00 L97.80,447.97 Z" fill="#c8102e"/>
<path d="M99.85,443.70 L103.15,443.70 L101.50,446.67 Z" fill="#c8102e"/>
<path d="M103.35,445.50 L106.65,445.50 L105.00,448.47 Z" fill="#c8102e"/>
<path d="M106.55,445.20 L109.85,445.20 L108.20,448.17 Z" fill="#c8102e"/>
<circle cx="76.60" cy="442.20" r="1.15" fill="#0d4a8c"/>
<circle cx="92.60" cy="441.60" r="1.15" fill="#0d4a8c"/>
<circle cx="100.70" cy="414.20" r="1.15" fill="#0d4a8c"/>
<circle cx="113.20" cy="437.20" r="1.15" fill="#0d4a8c"/>
<circle cx="118.60" cy="443.50" r="1.15" fill="#0d4a8c"/>
<circle cx="99.40" cy="447.60" r="1.15" fill="#0d4a8c"/>
<circle cx="102.80" cy="448.50" r="1.15" fill="#0d4a8c"/>
<circle cx="114.80" cy="449.10" r="1.15" fill="#0d4a8c"/>
<circle cx="120.80" cy="446.60" r="1.15" fill="#0d4a8c"/>
<circle cx="124.90" cy="445.60" r="1.15" fill="#0d4a8c"/>
<circle cx="130.20" cy="446.90" r="1.15" fill="#0d4a8c"/>
<circle cx="133.30" cy="446.40" r="1.15" fill="#0d4a8c"/>
<circle cx="137.10" cy="447.90" r="1.15" fill="#0d4a8c"/>
<text x="190.00" y="355.20" font-size="10.8" text-anchor="start" font-weight="bold" fill="#000" stroke="#000" stroke-width="0.6">G</text>
<text x="242.90" y="360.80" font-size="8.3" fill="#d0243f" stroke="#d0243f" stroke-width="0.12" textLength="82.70" lengthAdjust="spacing">Adj R<tspan font-size="5.4" dy="-3.0">2</tspan><tspan dy="3.0">=&#8211;0.001 p=0.369</tspan></text>
<text x="242.90" y="371.60" font-size="8.3" fill="#2a64a0" stroke="#2a64a0" stroke-width="0.12" textLength="82.70" lengthAdjust="spacing">Adj R<tspan font-size="5.4" dy="-3.0">2</tspan><tspan dy="3.0">=&#8211;0.052 p=0.760</tspan></text>
<line x1="233.60" y1="371.70" x2="233.60" y2="448.50" stroke="#000" stroke-width="1.25" />
<line x1="230.60" y1="383.50" x2="233.60" y2="383.50" stroke="#000" stroke-width="1.05" />
<text x="227.80" y="386.65" font-size="9.5" text-anchor="end" font-weight="normal" fill="#222222" textLength="17.52" lengthAdjust="spacingAndGlyphs" stroke="#2b2b2b" stroke-width="0.16">6000</text>
<line x1="230.60" y1="405.40" x2="233.60" y2="405.40" stroke="#000" stroke-width="1.05" />
<text x="227.80" y="408.55" font-size="9.5" text-anchor="end" font-weight="normal" fill="#222222" textLength="17.52" lengthAdjust="spacingAndGlyphs" stroke="#2b2b2b" stroke-width="0.16">4000</text>
<line x1="230.60" y1="426.90" x2="233.60" y2="426.90" stroke="#000" stroke-width="1.05" />
<text x="227.80" y="430.05" font-size="9.5" text-anchor="end" font-weight="normal" fill="#222222" textLength="17.52" lengthAdjust="spacingAndGlyphs" stroke="#2b2b2b" stroke-width="0.16">2000</text>
<line x1="230.60" y1="448.30" x2="233.60" y2="448.30" stroke="#000" stroke-width="1.05" />
<text x="227.80" y="451.45" font-size="9.5" text-anchor="end" font-weight="normal" fill="#222222" textLength="4.38" lengthAdjust="spacingAndGlyphs" stroke="#2b2b2b" stroke-width="0.16">0</text>
<line x1="233.00" y1="448.50" x2="335.80" y2="448.50" stroke="#000" stroke-width="1.25" />
<line x1="233.60" y1="448.50" x2="233.60" y2="451.90" stroke="#000" stroke-width="1.05" />
<line x1="241.18" y1="448.50" x2="241.18" y2="450.60" stroke="#000" stroke-width="0.95" />
<line x1="248.76" y1="448.50" x2="248.76" y2="450.60" stroke="#000" stroke-width="0.95" />
<line x1="256.34" y1="448.50" x2="256.34" y2="450.60" stroke="#000" stroke-width="0.95" />
<line x1="263.92" y1="448.50" x2="263.92" y2="450.60" stroke="#000" stroke-width="0.95" />
<line x1="271.50" y1="448.50" x2="271.50" y2="451.90" stroke="#000" stroke-width="1.05" />
<line x1="279.08" y1="448.50" x2="279.08" y2="450.60" stroke="#000" stroke-width="0.95" />
<line x1="286.66" y1="448.50" x2="286.66" y2="450.60" stroke="#000" stroke-width="0.95" />
<line x1="294.24" y1="448.50" x2="294.24" y2="450.60" stroke="#000" stroke-width="0.95" />
<line x1="301.82" y1="448.50" x2="301.82" y2="450.60" stroke="#000" stroke-width="0.95" />
<line x1="309.40" y1="448.50" x2="309.40" y2="451.90" stroke="#000" stroke-width="1.05" />
<line x1="316.98" y1="448.50" x2="316.98" y2="450.60" stroke="#000" stroke-width="0.95" />
<line x1="324.56" y1="448.50" x2="324.56" y2="450.60" stroke="#000" stroke-width="0.95" />
<line x1="332.14" y1="448.50" x2="332.14" y2="450.60" stroke="#000" stroke-width="0.95" />
<text x="233.60" y="460.15" font-size="9.6" text-anchor="middle" font-weight="normal" fill="#222222" textLength="4.10" lengthAdjust="spacingAndGlyphs" stroke="#2b2b2b" stroke-width="0.12">0</text>
<text x="271.50" y="460.15" font-size="9.6" text-anchor="middle" font-weight="normal" fill="#222222" textLength="4.10" lengthAdjust="spacingAndGlyphs" stroke="#2b2b2b" stroke-width="0.12">5</text>
<text x="309.40" y="460.15" font-size="9.6" text-anchor="middle" font-weight="normal" fill="#222222" textLength="8.20" lengthAdjust="spacingAndGlyphs" stroke="#2b2b2b" stroke-width="0.12">10</text>
<text x="0" y="0" transform="translate(204.20,415.15) rotate(-90)" font-size="10.3" text-anchor="middle" fill="#222222" textLength="67.00" lengthAdjust="spacingAndGlyphs" stroke="#222222" stroke-width="0.05"># Unique clonotypes</text>
<path d="M234.00,394.30 L241.79,394.25 L249.74,394.20 L257.69,394.16 L265.48,394.11 L272.97,394.06 L280.00,394.00 L286.47,393.94 L292.48,393.87 L298.19,393.81 L303.74,393.74 L309.29,393.67 L315.00,393.60" fill="none" stroke="#111" stroke-width="1.15" stroke-dasharray="1.0,1.0"/>
<path d="M234.00,398.30 L241.79,398.33 L249.74,398.36 L257.69,398.39 L265.48,398.43 L272.97,398.46 L280.00,398.50 L286.47,398.54 L292.48,398.59 L298.19,398.64 L303.74,398.70 L309.29,398.75 L315.00,398.80" fill="none" stroke="#111" stroke-width="1.15" stroke-dasharray="1.0,1.0"/>
<path d="M257.90,385.50 L261.38,386.45 L264.83,387.43 L268.27,388.41 L271.75,389.35 L275.32,390.23 L279.00,391.00 L282.97,391.69 L287.23,392.32 L291.57,392.88 L295.78,393.36 L299.66,393.74 L303.00,394.00 L305.69,394.11 L307.89,394.07 L309.75,393.93 L311.44,393.73 L313.14,393.54 L315.00,393.40" fill="none" stroke="#111" stroke-width="1.15" stroke-dasharray="1.0,1.0"/>
<path d="M257.90,409.70 L261.42,409.02 L264.94,408.29 L268.46,407.56 L271.97,406.88 L275.49,406.31 L279.00,405.90 L282.58,405.65 L286.23,405.53 L289.89,405.51 L293.46,405.59 L296.85,405.75 L300.00,406.00 L302.84,406.36 L305.42,406.86 L307.83,407.45 L310.16,408.08 L312.49,408.71 L314.90,409.30" fill="none" stroke="#111" stroke-width="1.15" stroke-dasharray="1.0,1.0"/>
<line x1="233.60" y1="396.30" x2="314.40" y2="395.30" stroke="#c8102e" stroke-width="1.2" />
<line x1="257.90" y1="398.30" x2="314.40" y2="400.10" stroke="#0d4a8c" stroke-width="1.2" />
<path d="M231.75,393.40 L235.05,393.40 L233.40,390.43 Z" fill="#c8102e"/>
<path d="M231.75,394.30 L235.05,394.30 L233.40,391.33 Z" fill="#c8102e"/>
<path d="M231.75,403.00 L235.05,403.00 L233.40,400.03 Z" fill="#c8102e"/>
<path d="M239.85,400.10 L243.15,400.10 L241.50,397.13 Z" fill="#c8102e"/>
<path d="M248.05,392.90 L251.35,392.90 L249.70,389.93 Z" fill="#c8102e"/>
<path d="M249.05,393.80 L252.35,393.80 L250.70,390.83 Z" fill="#c8102e"/>
<path d="M248.05,396.20 L251.35,396.20 L249.70,393.23 Z" fill="#c8102e"/>
<path d="M248.55,400.10 L251.85,400.10 L250.20,397.13 Z" fill="#c8102e"/>
<path d="M249.95,400.60 L253.25,400.60 L251.60,397.63 Z" fill="#c8102e"/>
<path d="M251.45,397.20 L254.75,397.20 L253.10,394.23 Z" fill="#c8102e"/>
<path d="M253.55,393.30 L256.85,393.30 L255.20,390.33 Z" fill="#c8102e"/>
<path d="M255.25,402.50 L258.55,402.50 L256.90,399.53 Z" fill="#c8102e"/>
<path d="M256.25,403.40 L259.55,403.40 L257.90,400.43 Z" fill="#c8102e"/>
<path d="M257.15,394.80 L260.45,394.80 L258.80,391.83 Z" fill="#c8102e"/>
<path d="M257.15,399.60 L260.45,399.60 L258.80,396.63 Z" fill="#c8102e"/>
<path d="M259.15,391.90 L262.45,391.90 L260.80,388.93 Z" fill="#c8102e"/>
<path d="M259.65,393.80 L262.95,393.80 L261.30,390.83 Z" fill="#c8102e"/>
<path d="M261.55,399.60 L264.85,399.60 L263.20,396.63 Z" fill="#c8102e"/>
<path d="M262.95,396.70 L266.25,396.70 L264.60,393.73 Z" fill="#c8102e"/>
<path d="M264.45,403.00 L267.75,403.00 L266.10,400.03 Z" fill="#c8102e"/>
<path d="M264.85,394.30 L268.15,394.30 L266.50,391.33 Z" fill="#c8102e"/>
<path d="M266.85,393.30 L270.15,393.30 L268.50,390.33 Z" fill="#c8102e"/>
<path d="M267.75,403.00 L271.05,403.00 L269.40,400.03 Z" fill="#c8102e"/>
<path d="M262.45,406.80 L265.75,406.80 L264.10,403.83 Z" fill="#c8102e"/>
<path d="M266.85,406.30 L270.15,406.30 L268.50,403.33 Z" fill="#c8102e"/>
<path d="M266.85,415.50 L270.15,415.50 L268.50,412.53 Z" fill="#c8102e"/>
<path d="M268.75,396.20 L272.05,396.20 L270.40,393.23 Z" fill="#c8102e"/>
<path d="M270.65,395.70 L273.95,395.70 L272.30,392.73 Z" fill="#c8102e"/>
<path d="M272.55,396.70 L275.85,396.70 L274.20,393.73 Z" fill="#c8102e"/>
<path d="M275.45,393.30 L278.75,393.30 L277.10,390.33 Z" fill="#c8102e"/>
<path d="M276.45,401.50 L279.75,401.50 L278.10,398.53 Z" fill="#c8102e"/>
<path d="M276.45,407.80 L279.75,407.80 L278.10,404.83 Z" fill="#c8102e"/>
<path d="M277.35,404.90 L280.65,404.90 L279.00,401.93 Z" fill="#c8102e"/>
<path d="M275.25,393.80 L278.55,393.80 L276.90,390.83 Z" fill="#c8102e"/>
<path d="M276.25,408.20 L279.55,408.20 L277.90,405.23 Z" fill="#c8102e"/>
<path d="M277.15,402.50 L280.45,402.50 L278.80,399.53 Z" fill="#c8102e"/>
<path d="M277.65,405.40 L280.95,405.40 L279.30,402.43 Z" fill="#c8102e"/>
<path d="M280.55,401.50 L283.85,401.50 L282.20,398.53 Z" fill="#c8102e"/>
<path d="M281.55,392.90 L284.85,392.90 L283.20,389.93 Z" fill="#c8102e"/>
<path d="M282.95,395.30 L286.25,395.30 L284.60,392.33 Z" fill="#c8102e"/>
<path d="M283.95,403.90 L287.25,403.90 L285.60,400.93 Z" fill="#c8102e"/>
<path d="M284.85,394.30 L288.15,394.30 L286.50,391.33 Z" fill="#c8102e"/>
<path d="M286.35,399.60 L289.65,399.60 L288.00,396.63 Z" fill="#c8102e"/>
<path d="M286.85,407.80 L290.15,407.80 L288.50,404.83 Z" fill="#c8102e"/>
<path d="M287.75,394.80 L291.05,394.80 L289.40,391.83 Z" fill="#c8102e"/>
<path d="M289.25,396.20 L292.55,396.20 L290.90,393.23 Z" fill="#c8102e"/>
<path d="M290.65,404.40 L293.95,404.40 L292.30,401.43 Z" fill="#c8102e"/>
<path d="M291.15,400.10 L294.45,400.10 L292.80,397.13 Z" fill="#c8102e"/>
<path d="M292.15,393.80 L295.45,393.80 L293.80,390.83 Z" fill="#c8102e"/>
<path d="M293.55,394.80 L296.85,394.80 L295.20,391.83 Z" fill="#c8102e"/>
<path d="M294.05,403.00 L297.35,403.00 L295.70,400.03 Z" fill="#c8102e"/>
<path d="M295.95,391.90 L299.25,391.90 L297.60,388.93 Z" fill="#c8102e"/>
<path d="M297.35,391.90 L300.65,391.90 L299.00,388.93 Z" fill="#c8102e"/>
<path d="M296.95,403.90 L300.25,403.90 L298.60,400.93 Z" fill="#c8102e"/>
<path d="M297.85,395.70 L301.15,395.70 L299.50,392.73 Z" fill="#c8102e"/>
<path d="M299.75,402.50 L303.05,402.50 L301.40,399.53 Z" fill="#c8102e"/>
<path d="M300.75,393.80 L304.05,393.80 L302.40,390.83 Z" fill="#c8102e"/>
<path d="M303.15,399.60 L306.45,399.60 L304.80,396.63 Z" fill="#c8102e"/>
<path d="M307.05,402.50 L310.35,402.50 L308.70,399.53 Z" fill="#c8102e"/>
<path d="M308.95,396.20 L312.25,396.20 L310.60,393.23 Z" fill="#c8102e"/>
<path d="M309.85,392.40 L313.15,392.40 L311.50,389.43 Z" fill="#c8102e"/>
<path d="M312.75,394.30 L316.05,394.30 L314.40,391.33 Z" fill="#c8102e"/>
<path d="M283.45,418.30 L286.75,418.30 L285.10,415.33 Z" fill="#c8102e"/>
<path d="M267.25,415.30 L270.55,415.30 L268.90,412.33 Z" fill="#c8102e"/>
<path d="M242.35,395.40 L245.65,395.40 L244.00,392.43 Z" fill="#c8102e"/>
<path d="M244.35,397.90 L247.65,397.90 L246.00,394.93 Z" fill="#c8102e"/>
<path d="M260.85,395.40 L264.15,395.40 L262.50,392.43 Z" fill="#c8102e"/>
<path d="M269.35,393.90 L272.65,393.90 L271.00,390.93 Z" fill="#c8102e"/>
<path d="M273.85,394.40 L277.15,394.40 L275.50,391.43 Z" fill="#c8102e"/>
<path d="M279.35,395.90 L282.65,395.90 L281.00,392.93 Z" fill="#c8102e"/>
<path d="M285.85,396.90 L289.15,396.90 L287.50,393.93 Z" fill="#c8102e"/>
<path d="M290.35,397.40 L293.65,397.40 L292.00,394.43 Z" fill="#c8102e"/>
<path d="M295.35,394.40 L298.65,394.40 L297.00,391.43 Z" fill="#c8102e"/>
<path d="M301.35,396.90 L304.65,396.90 L303.00,393.93 Z" fill="#c8102e"/>
<path d="M304.35,393.90 L307.65,393.90 L306.00,390.93 Z" fill="#c8102e"/>
<path d="M307.35,397.40 L310.65,397.40 L309.00,394.43 Z" fill="#c8102e"/>
<path d="M311.35,396.40 L314.65,396.40 L313.00,393.43 Z" fill="#c8102e"/>
<path d="M252.35,399.40 L255.65,399.40 L254.00,396.43 Z" fill="#c8102e"/>
<path d="M234.85,397.40 L238.15,397.40 L236.50,394.43 Z" fill="#c8102e"/>
<path d="M238.35,395.90 L241.65,395.90 L240.00,392.93 Z" fill="#c8102e"/>
<circle cx="257.90" cy="391.00" r="1.15" fill="#0d4a8c"/>
<circle cx="272.30" cy="393.40" r="1.15" fill="#0d4a8c"/>
<circle cx="280.30" cy="390.00" r="1.15" fill="#0d4a8c"/>
<circle cx="279.30" cy="398.20" r="1.15" fill="#0d4a8c"/>
<circle cx="282.20" cy="402.50" r="1.15" fill="#0d4a8c"/>
<circle cx="283.20" cy="406.80" r="1.15" fill="#0d4a8c"/>
<circle cx="295.20" cy="408.80" r="1.15" fill="#0d4a8c"/>
<circle cx="300.00" cy="396.80" r="1.15" fill="#0d4a8c"/>
<circle cx="303.80" cy="395.30" r="1.15" fill="#0d4a8c"/>
<circle cx="308.70" cy="395.80" r="1.15" fill="#0d4a8c"/>
<circle cx="312.00" cy="401.10" r="1.15" fill="#0d4a8c"/>
<circle cx="315.40" cy="396.30" r="1.15" fill="#0d4a8c"/>
<circle cx="297.10" cy="397.20" r="1.15" fill="#0d4a8c"/>
<circle cx="294.30" cy="432.80" r="1.15" fill="#0d4a8c"/>
<text x="370.20" y="355.50" font-size="10.8" text-anchor="start" font-weight="bold" fill="#000" stroke="#000" stroke-width="0.6">H</text>
<text x="416.60" y="360.90" font-size="8.3" fill="#d0243f" stroke="#d0243f" stroke-width="0.12" textLength="83.30" lengthAdjust="spacing">Adj R<tspan font-size="5.4" dy="-3.0">2</tspan><tspan dy="3.0">=&#8211;0.001 p=0.383</tspan></text>
<text x="416.60" y="371.60" font-size="8.3" fill="#2a64a0" stroke="#2a64a0" stroke-width="0.12" textLength="83.30" lengthAdjust="spacing">Adj R<tspan font-size="5.4" dy="-3.0">2</tspan><tspan dy="3.0">=&#8211;0.004 p=0.484</tspan></text>
<line x1="403.90" y1="373.00" x2="403.90" y2="448.50" stroke="#000" stroke-width="1.25" />
<line x1="400.90" y1="378.40" x2="403.90" y2="378.40" stroke="#000" stroke-width="1.05" />
<text x="398.10" y="381.55" font-size="9.5" text-anchor="end" font-weight="normal" fill="#222222" textLength="8.40" lengthAdjust="spacingAndGlyphs" stroke="#2b2b2b" stroke-width="0.16">25</text>
<line x1="400.90" y1="392.70" x2="403.90" y2="392.70" stroke="#000" stroke-width="1.05" />
<text x="398.10" y="395.85" font-size="9.5" text-anchor="end" font-weight="normal" fill="#222222" textLength="8.40" lengthAdjust="spacingAndGlyphs" stroke="#2b2b2b" stroke-width="0.16">20</text>
<line x1="400.90" y1="406.60" x2="403.90" y2="406.60" stroke="#000" stroke-width="1.05" />
<text x="398.10" y="409.75" font-size="9.5" text-anchor="end" font-weight="normal" fill="#222222" textLength="8.40" lengthAdjust="spacingAndGlyphs" stroke="#2b2b2b" stroke-width="0.16">15</text>
<line x1="400.90" y1="420.60" x2="403.90" y2="420.60" stroke="#000" stroke-width="1.05" />
<text x="398.10" y="423.75" font-size="9.5" text-anchor="end" font-weight="normal" fill="#222222" textLength="8.40" lengthAdjust="spacingAndGlyphs" stroke="#2b2b2b" stroke-width="0.16">10</text>
<line x1="400.90" y1="434.50" x2="403.90" y2="434.50" stroke="#000" stroke-width="1.05" />
<text x="398.10" y="437.65" font-size="9.5" text-anchor="end" font-weight="normal" fill="#222222" textLength="4.20" lengthAdjust="spacingAndGlyphs" stroke="#2b2b2b" stroke-width="0.16">5</text>
<line x1="400.90" y1="448.30" x2="403.90" y2="448.30" stroke="#000" stroke-width="1.05" />
<text x="398.10" y="451.45" font-size="9.5" text-anchor="end" font-weight="normal" fill="#222222" textLength="4.20" lengthAdjust="spacingAndGlyphs" stroke="#2b2b2b" stroke-width="0.16">0</text>
<line x1="403.30" y1="448.50" x2="512.50" y2="448.50" stroke="#000" stroke-width="1.25" />
<line x1="403.90" y1="448.50" x2="403.90" y2="451.90" stroke="#000" stroke-width="1.05" />
<line x1="411.93" y1="448.50" x2="411.93" y2="450.60" stroke="#000" stroke-width="0.95" />
<line x1="419.96" y1="448.50" x2="419.96" y2="450.60" stroke="#000" stroke-width="0.95" />
<line x1="427.99" y1="448.50" x2="427.99" y2="450.60" stroke="#000" stroke-width="0.95" />
<line x1="436.02" y1="448.50" x2="436.02" y2="450.60" stroke="#000" stroke-width="0.95" />
<line x1="444.05" y1="448.50" x2="444.05" y2="451.90" stroke="#000" stroke-width="1.05" />
<line x1="452.08" y1="448.50" x2="452.08" y2="450.60" stroke="#000" stroke-width="0.95" />
<line x1="460.11" y1="448.50" x2="460.11" y2="450.60" stroke="#000" stroke-width="0.95" />
<line x1="468.14" y1="448.50" x2="468.14" y2="450.60" stroke="#000" stroke-width="0.95" />
<line x1="476.17" y1="448.50" x2="476.17" y2="450.60" stroke="#000" stroke-width="0.95" />
<line x1="484.20" y1="448.50" x2="484.20" y2="451.90" stroke="#000" stroke-width="1.05" />
<line x1="492.23" y1="448.50" x2="492.23" y2="450.60" stroke="#000" stroke-width="0.95" />
<line x1="500.26" y1="448.50" x2="500.26" y2="450.60" stroke="#000" stroke-width="0.95" />
<line x1="508.29" y1="448.50" x2="508.29" y2="450.60" stroke="#000" stroke-width="0.95" />
<text x="403.90" y="460.15" font-size="9.6" text-anchor="middle" font-weight="normal" fill="#222222" textLength="4.10" lengthAdjust="spacingAndGlyphs" stroke="#2b2b2b" stroke-width="0.12">0</text>
<text x="444.05" y="460.15" font-size="9.6" text-anchor="middle" font-weight="normal" fill="#222222" textLength="4.10" lengthAdjust="spacingAndGlyphs" stroke="#2b2b2b" stroke-width="0.12">5</text>
<text x="484.20" y="460.15" font-size="9.6" text-anchor="middle" font-weight="normal" fill="#222222" textLength="8.20" lengthAdjust="spacingAndGlyphs" stroke="#2b2b2b" stroke-width="0.12">10</text>
<text x="0" y="0" transform="translate(384.10,413.50) rotate(-90)" font-size="10.3" text-anchor="middle" fill="#222222" textLength="78.00" lengthAdjust="spacingAndGlyphs" stroke="#222222" stroke-width="0.05">Mean size of expansion</text>
<path d="M403.90,430.40 L408.20,430.64 L412.46,430.87 L416.71,431.11 L421.01,431.35 L425.42,431.58 L430.00,431.80 L434.77,432.02 L439.71,432.24 L444.76,432.46 L449.86,432.66 L454.95,432.84 L460.00,433.00 L465.00,433.12 L470.00,433.22 L475.00,433.29 L480.00,433.36 L485.00,433.42 L490.00,433.50" fill="none" stroke="#111" stroke-width="1.15" stroke-dasharray="1.0,1.0"/>
<path d="M403.90,437.50 L408.20,437.41 L412.46,437.32 L416.71,437.23 L421.01,437.14 L425.42,437.07 L430.00,437.00 L434.77,436.94 L439.71,436.89 L444.76,436.84 L449.86,436.81 L454.95,436.80 L460.00,436.80 L465.00,436.83 L470.00,436.89 L475.00,436.96 L480.00,437.04 L485.00,437.13 L490.00,437.20" fill="none" stroke="#111" stroke-width="1.15" stroke-dasharray="1.0,1.0"/>
<path d="M429.50,427.70 L432.13,428.19 L434.70,428.71 L437.28,429.24 L439.91,429.73 L442.63,430.13 L445.50,430.40 L448.48,430.55 L451.54,430.61 L454.69,430.58 L457.96,430.47 L461.39,430.28 L465.00,430.00 L468.85,429.61 L472.93,429.09 L477.16,428.49 L481.46,427.84 L485.77,427.20 L490.00,426.60" fill="none" stroke="#111" stroke-width="1.15" stroke-dasharray="1.0,1.0"/>
<path d="M433.90,447.90 L435.65,447.28 L437.27,446.65 L438.89,446.02 L440.64,445.40 L442.63,444.82 L445.00,444.30 L447.76,443.84 L450.82,443.44 L454.13,443.07 L457.63,442.72 L461.27,442.37 L465.00,442.00 L468.88,441.62 L472.96,441.23 L477.19,440.85 L481.48,440.47 L485.78,440.08 L490.00,439.70" fill="none" stroke="#111" stroke-width="1.15" stroke-dasharray="1.0,1.0"/>
<line x1="403.90" y1="433.70" x2="488.00" y2="435.60" stroke="#c8102e" stroke-width="1.2" />
<line x1="429.50" y1="439.50" x2="490.00" y2="433.70" stroke="#0d4a8c" stroke-width="1.2" />
<path d="M402.15,427.40 L405.45,427.40 L403.80,424.43 Z" fill="#c8102e"/>
<path d="M402.15,442.40 L405.45,442.40 L403.80,439.43 Z" fill="#c8102e"/>
<path d="M402.15,443.30 L405.45,443.30 L403.80,440.33 Z" fill="#c8102e"/>
<path d="M410.95,428.00 L414.25,428.00 L412.60,425.03 Z" fill="#c8102e"/>
<path d="M420.25,434.00 L423.55,434.00 L421.90,431.03 Z" fill="#c8102e"/>
<path d="M419.15,441.10 L422.45,441.10 L420.80,438.13 Z" fill="#c8102e"/>
<path d="M421.35,441.10 L424.65,441.10 L423.00,438.13 Z" fill="#c8102e"/>
<path d="M423.55,437.80 L426.85,437.80 L425.20,434.83 Z" fill="#c8102e"/>
<path d="M425.15,437.80 L428.45,437.80 L426.80,434.83 Z" fill="#c8102e"/>
<path d="M425.15,442.00 L428.45,442.00 L426.80,439.03 Z" fill="#c8102e"/>
<path d="M427.35,433.20 L430.65,433.20 L429.00,430.23 Z" fill="#c8102e"/>
<path d="M428.95,433.40 L432.25,433.40 L430.60,430.43 Z" fill="#c8102e"/>
<path d="M430.05,436.70 L433.35,436.70 L431.70,433.73 Z" fill="#c8102e"/>
<path d="M431.15,443.30 L434.45,443.30 L432.80,440.33 Z" fill="#c8102e"/>
<path d="M432.25,440.00 L435.55,440.00 L433.90,437.03 Z" fill="#c8102e"/>
<path d="M433.35,437.30 L436.65,437.30 L435.00,434.33 Z" fill="#c8102e"/>
<path d="M435.05,425.20 L438.35,425.20 L436.70,422.23 Z" fill="#c8102e"/>
<path d="M436.65,414.80 L439.95,414.80 L438.30,411.83 Z" fill="#c8102e"/>
<path d="M439.35,415.40 L442.65,415.40 L441.00,412.43 Z" fill="#c8102e"/>
<path d="M437.75,431.30 L441.05,431.30 L439.40,428.33 Z" fill="#c8102e"/>
<path d="M439.35,430.70 L442.65,430.70 L441.00,427.73 Z" fill="#c8102e"/>
<path d="M438.25,438.90 L441.55,438.90 L439.90,435.93 Z" fill="#c8102e"/>
<path d="M438.25,440.60 L441.55,440.60 L439.90,437.63 Z" fill="#c8102e"/>
<path d="M440.45,442.70 L443.75,442.70 L442.10,439.73 Z" fill="#c8102e"/>
<path d="M441.05,432.90 L444.35,432.90 L442.70,429.93 Z" fill="#c8102e"/>
<path d="M444.35,430.70 L447.65,430.70 L446.00,427.73 Z" fill="#c8102e"/>
<path d="M445.35,443.30 L448.65,443.30 L447.00,440.33 Z" fill="#c8102e"/>
<path d="M457.45,396.80 L460.75,396.80 L459.10,393.83 Z" fill="#c8102e"/>
<path d="M439.45,415.40 L442.75,415.40 L441.10,412.43 Z" fill="#c8102e"/>
<path d="M460.75,414.60 L464.05,414.60 L462.40,411.63 Z" fill="#c8102e"/>
<path d="M457.85,419.00 L461.15,419.00 L459.50,416.03 Z" fill="#c8102e"/>
<path d="M449.55,424.50 L452.85,424.50 L451.20,421.53 Z" fill="#c8102e"/>
<path d="M465.45,424.10 L468.75,424.10 L467.10,421.13 Z" fill="#c8102e"/>
<path d="M450.65,428.50 L453.95,428.50 L452.30,425.53 Z" fill="#c8102e"/>
<path d="M460.05,430.20 L463.35,430.20 L461.70,427.23 Z" fill="#c8102e"/>
<path d="M461.55,429.10 L464.85,429.10 L463.20,426.13 Z" fill="#c8102e"/>
<path d="M443.85,431.00 L447.15,431.00 L445.50,428.03 Z" fill="#c8102e"/>
<path d="M439.95,431.30 L443.25,431.30 L441.60,428.33 Z" fill="#c8102e"/>
<path d="M453.65,433.40 L456.95,433.40 L455.30,430.43 Z" fill="#c8102e"/>
<path d="M468.15,432.40 L471.45,432.40 L469.80,429.43 Z" fill="#c8102e"/>
<path d="M475.05,434.30 L478.35,434.30 L476.70,431.33 Z" fill="#c8102e"/>
<path d="M482.15,436.20 L485.45,436.20 L483.80,433.23 Z" fill="#c8102e"/>
<path d="M440.55,442.70 L443.85,442.70 L442.20,439.73 Z" fill="#c8102e"/>
<path d="M444.95,443.30 L448.25,443.30 L446.60,440.33 Z" fill="#c8102e"/>
<path d="M448.75,442.70 L452.05,442.70 L450.40,439.73 Z" fill="#c8102e"/>
<path d="M454.25,439.80 L457.55,439.80 L455.90,436.83 Z" fill="#c8102e"/>
<path d="M457.45,441.10 L460.75,441.10 L459.10,438.13 Z" fill="#c8102e"/>
<path d="M461.85,442.20 L465.15,442.20 L463.50,439.23 Z" fill="#c8102e"/>
<path d="M467.05,442.70 L470.35,442.70 L468.70,439.73 Z" fill="#c8102e"/>
<path d="M470.05,445.50 L473.35,445.50 L471.70,442.53 Z" fill="#c8102e"/>
<path d="M475.35,443.30 L478.65,443.30 L477.00,440.33 Z" fill="#c8102e"/>
<path d="M482.15,442.20 L485.45,442.20 L483.80,439.23 Z" fill="#c8102e"/>
<path d="M485.95,443.30 L489.25,443.30 L487.60,440.33 Z" fill="#c8102e"/>
<path d="M472.25,438.90 L475.55,438.90 L473.90,435.93 Z" fill="#c8102e"/>
<path d="M464.65,438.40 L467.95,438.40 L466.30,435.43 Z" fill="#c8102e"/>
<path d="M446.35,436.40 L449.65,436.40 L448.00,433.43 Z" fill="#c8102e"/>
<path d="M450.35,435.40 L453.65,435.40 L452.00,432.43 Z" fill="#c8102e"/>
<path d="M455.35,437.40 L458.65,437.40 L457.00,434.43 Z" fill="#c8102e"/>
<path d="M459.35,435.90 L462.65,435.90 L461.00,432.93 Z" fill="#c8102e"/>
<path d="M463.35,436.40 L466.65,436.40 L465.00,433.43 Z" fill="#c8102e"/>
<path d="M468.35,435.90 L471.65,435.90 L470.00,432.93 Z" fill="#c8102e"/>
<path d="M473.35,437.40 L476.65,437.40 L475.00,434.43 Z" fill="#c8102e"/>
<path d="M478.35,436.90 L481.65,436.90 L480.00,433.93 Z" fill="#c8102e"/>
<path d="M484.35,437.90 L487.65,437.90 L486.00,434.93 Z" fill="#c8102e"/>
<path d="M442.35,438.90 L445.65,438.90 L444.00,435.93 Z" fill="#c8102e"/>
<path d="M453.95,438.56 L457.25,438.56 L455.60,435.59 Z" fill="#c8102e"/>
<path d="M482.73,437.52 L486.03,437.52 L484.38,434.55 Z" fill="#c8102e"/>
<path d="M457.33,438.86 L460.63,438.86 L458.98,435.89 Z" fill="#c8102e"/>
<path d="M437.61,438.03 L440.91,438.03 L439.26,435.06 Z" fill="#c8102e"/>
<path d="M464.77,441.13 L468.07,441.13 L466.42,438.16 Z" fill="#c8102e"/>
<path d="M432.09,435.74 L435.39,435.74 L433.74,432.77 Z" fill="#c8102e"/>
<path d="M431.88,441.31 L435.18,441.31 L433.53,438.34 Z" fill="#c8102e"/>
<path d="M468.65,432.86 L471.95,432.86 L470.30,429.89 Z" fill="#c8102e"/>
<path d="M486.26,443.01 L489.56,443.01 L487.91,440.04 Z" fill="#c8102e"/>
<path d="M466.24,439.17 L469.54,439.17 L467.89,436.20 Z" fill="#c8102e"/>
<path d="M435.96,432.57 L439.26,432.57 L437.61,429.60 Z" fill="#c8102e"/>
<path d="M458.58,433.06 L461.88,433.06 L460.23,430.09 Z" fill="#c8102e"/>
<path d="M437.95,435.06 L441.25,435.06 L439.60,432.09 Z" fill="#c8102e"/>
<path d="M428.19,437.51 L431.49,437.51 L429.84,434.54 Z" fill="#c8102e"/>
<path d="M453.22,441.67 L456.52,441.67 L454.87,438.70 Z" fill="#c8102e"/>
<path d="M458.02,439.45 L461.32,439.45 L459.67,436.48 Z" fill="#c8102e"/>
<path d="M456.84,439.69 L460.14,439.69 L458.49,436.72 Z" fill="#c8102e"/>
<path d="M454.25,435.46 L457.55,435.46 L455.90,432.49 Z" fill="#c8102e"/>
<path d="M487.21,443.36 L490.51,443.36 L488.86,440.39 Z" fill="#c8102e"/>
<path d="M477.60,440.19 L480.90,440.19 L479.25,437.22 Z" fill="#c8102e"/>
<path d="M445.58,434.93 L448.88,434.93 L447.23,431.96 Z" fill="#c8102e"/>
<path d="M443.98,433.17 L447.28,433.17 L445.63,430.20 Z" fill="#c8102e"/>
<path d="M473.09,436.81 L476.39,436.81 L474.74,433.84 Z" fill="#c8102e"/>
<path d="M477.99,436.65 L481.29,436.65 L479.64,433.68 Z" fill="#c8102e"/>
<path d="M484.79,441.72 L488.09,441.72 L486.44,438.75 Z" fill="#c8102e"/>
<path d="M426.38,434.71 L429.68,434.71 L428.03,431.74 Z" fill="#c8102e"/>
<path d="M481.88,437.57 L485.18,437.57 L483.53,434.60 Z" fill="#c8102e"/>
<path d="M486.15,436.77 L489.45,436.77 L487.80,433.80 Z" fill="#c8102e"/>
<path d="M430.81,439.33 L434.11,439.33 L432.46,436.36 Z" fill="#c8102e"/>
<path d="M473.84,435.37 L477.14,435.37 L475.49,432.40 Z" fill="#c8102e"/>
<circle cx="429.50" cy="439.70" r="1.15" fill="#0d4a8c"/>
<circle cx="431.70" cy="440.30" r="1.15" fill="#0d4a8c"/>
<circle cx="468.70" cy="405.60" r="1.15" fill="#0d4a8c"/>
<circle cx="469.80" cy="425.30" r="1.15" fill="#0d4a8c"/>
<circle cx="456.60" cy="429.30" r="1.15" fill="#0d4a8c"/>
<circle cx="487.30" cy="431.00" r="1.15" fill="#0d4a8c"/>
<circle cx="453.10" cy="436.40" r="1.15" fill="#0d4a8c"/>
<circle cx="466.30" cy="440.30" r="1.15" fill="#0d4a8c"/>
<circle cx="471.70" cy="439.20" r="1.15" fill="#0d4a8c"/>
<circle cx="478.30" cy="439.20" r="1.15" fill="#0d4a8c"/>
<circle cx="454.20" cy="441.70" r="1.15" fill="#0d4a8c"/>
<circle cx="446.00" cy="441.30" r="1.15" fill="#0d4a8c"/>
<circle cx="488.10" cy="438.40" r="1.15" fill="#0d4a8c"/>
<line x1="51.20" y1="470.40" x2="247.20" y2="470.40" stroke="#222" stroke-width="1.3" />
<line x1="311.80" y1="470.40" x2="508.60" y2="470.40" stroke="#222" stroke-width="1.3" />
<text x="279.70" y="473.60" font-size="9.6" text-anchor="middle" font-weight="normal" fill="#222222" textLength="56.10" lengthAdjust="spacingAndGlyphs" stroke="#222" stroke-width="0.3">Mean class I HED</text>
<text x="6.80" y="494.40" font-size="10.8" text-anchor="start" font-weight="bold" fill="#000" stroke="#000" stroke-width="0.6">I</text>
<text x="58.60" y="500.60" font-size="8.3" fill="#d0243f" stroke="#d0243f" stroke-width="0.12" textLength="87.90" lengthAdjust="spacing">Adj R<tspan font-size="5.4" dy="-3.0">2</tspan><tspan dy="3.0">=&#8211;0.008 p=0.9226</tspan></text>
<text x="58.60" y="511.30" font-size="8.3" fill="#2a64a0" stroke="#2a64a0" stroke-width="0.12" textLength="87.30" lengthAdjust="spacing">Adj R<tspan font-size="5.4" dy="-3.0">2</tspan><tspan dy="3.0">=&#8211;0.039 p=0.5617</tspan></text>
<line x1="51.50" y1="511.20" x2="51.50" y2="579.65" stroke="#000" stroke-width="1.25" />
<line x1="48.50" y1="523.70" x2="51.50" y2="523.70" stroke="#000" stroke-width="1.05" />
<text x="45.70" y="526.85" font-size="9.5" text-anchor="end" font-weight="normal" fill="#222222" textLength="17.52" lengthAdjust="spacingAndGlyphs" stroke="#2b2b2b" stroke-width="0.16">6000</text>
<line x1="48.50" y1="542.60" x2="51.50" y2="542.60" stroke="#000" stroke-width="1.05" />
<text x="45.70" y="545.75" font-size="9.5" text-anchor="end" font-weight="normal" fill="#222222" textLength="17.52" lengthAdjust="spacingAndGlyphs" stroke="#2b2b2b" stroke-width="0.16">4000</text>
<line x1="48.50" y1="561.10" x2="51.50" y2="561.10" stroke="#000" stroke-width="1.05" />
<text x="45.70" y="564.25" font-size="9.5" text-anchor="end" font-weight="normal" fill="#222222" textLength="17.52" lengthAdjust="spacingAndGlyphs" stroke="#2b2b2b" stroke-width="0.16">2000</text>
<line x1="48.50" y1="579.60" x2="51.50" y2="579.60" stroke="#000" stroke-width="1.05" />
<text x="45.70" y="582.75" font-size="9.5" text-anchor="end" font-weight="normal" fill="#222222" textLength="4.38" lengthAdjust="spacingAndGlyphs" stroke="#2b2b2b" stroke-width="0.16">0</text>
<line x1="50.90" y1="579.65" x2="153.60" y2="579.65" stroke="#000" stroke-width="1.25" />
<line x1="51.50" y1="579.65" x2="51.50" y2="583.05" stroke="#000" stroke-width="1.05" />
<line x1="56.66" y1="579.65" x2="56.66" y2="581.75" stroke="#000" stroke-width="0.95" />
<line x1="61.82" y1="579.65" x2="61.82" y2="581.75" stroke="#000" stroke-width="0.95" />
<line x1="66.98" y1="579.65" x2="66.98" y2="581.75" stroke="#000" stroke-width="0.95" />
<line x1="72.14" y1="579.65" x2="72.14" y2="581.75" stroke="#000" stroke-width="0.95" />
<line x1="77.30" y1="579.65" x2="77.30" y2="583.05" stroke="#000" stroke-width="1.05" />
<line x1="82.46" y1="579.65" x2="82.46" y2="581.75" stroke="#000" stroke-width="0.95" />
<line x1="87.62" y1="579.65" x2="87.62" y2="581.75" stroke="#000" stroke-width="0.95" />
<line x1="92.78" y1="579.65" x2="92.78" y2="581.75" stroke="#000" stroke-width="0.95" />
<line x1="97.94" y1="579.65" x2="97.94" y2="581.75" stroke="#000" stroke-width="0.95" />
<line x1="103.10" y1="579.65" x2="103.10" y2="583.05" stroke="#000" stroke-width="1.05" />
<line x1="108.26" y1="579.65" x2="108.26" y2="581.75" stroke="#000" stroke-width="0.95" />
<line x1="113.42" y1="579.65" x2="113.42" y2="581.75" stroke="#000" stroke-width="0.95" />
<line x1="118.58" y1="579.65" x2="118.58" y2="581.75" stroke="#000" stroke-width="0.95" />
<line x1="123.74" y1="579.65" x2="123.74" y2="581.75" stroke="#000" stroke-width="0.95" />
<line x1="128.90" y1="579.65" x2="128.90" y2="583.05" stroke="#000" stroke-width="1.05" />
<line x1="134.06" y1="579.65" x2="134.06" y2="581.75" stroke="#000" stroke-width="0.95" />
<line x1="139.22" y1="579.65" x2="139.22" y2="581.75" stroke="#000" stroke-width="0.95" />
<line x1="144.38" y1="579.65" x2="144.38" y2="581.75" stroke="#000" stroke-width="0.95" />
<line x1="149.54" y1="579.65" x2="149.54" y2="581.75" stroke="#000" stroke-width="0.95" />
<text x="51.50" y="591.75" font-size="9.6" text-anchor="middle" font-weight="normal" fill="#222222" textLength="4.10" lengthAdjust="spacingAndGlyphs" stroke="#2b2b2b" stroke-width="0.12">0</text>
<text x="77.30" y="591.75" font-size="9.6" text-anchor="middle" font-weight="normal" fill="#222222" textLength="4.10" lengthAdjust="spacingAndGlyphs" stroke="#2b2b2b" stroke-width="0.12">5</text>
<text x="103.10" y="591.75" font-size="9.6" text-anchor="middle" font-weight="normal" fill="#222222" textLength="8.20" lengthAdjust="spacingAndGlyphs" stroke="#2b2b2b" stroke-width="0.12">10</text>
<text x="128.90" y="591.75" font-size="9.6" text-anchor="middle" font-weight="normal" fill="#222222" textLength="8.20" lengthAdjust="spacingAndGlyphs" stroke="#2b2b2b" stroke-width="0.12">15</text>
<text x="0" y="0" transform="translate(22.40,547.00) rotate(-90)" font-size="10.4" text-anchor="middle" fill="#222222" textLength="7.90" lengthAdjust="spacingAndGlyphs" stroke="#222222" stroke-width="0.05">ISI</text>
<path d="M51.50,549.40 L55.42,549.94 L59.36,550.50 L63.29,551.06 L67.21,551.60 L71.12,552.09 L75.00,552.50 L78.66,552.87 L82.05,553.24 L85.43,553.55 L89.04,553.77 L93.11,553.87 L97.90,553.80 L103.56,553.52 L109.91,553.04 L116.74,552.44 L123.81,551.77 L130.87,551.10 L137.70,550.50" fill="none" stroke="#111" stroke-width="1.15" stroke-dasharray="1.0,1.0"/>
<path d="M51.50,563.20 L55.42,562.73 L59.36,562.25 L63.29,561.77 L67.21,561.30 L71.12,560.87 L75.00,560.50 L78.66,560.13 L82.05,559.73 L85.43,559.38 L89.04,559.11 L93.11,559.00 L97.90,559.10 L103.56,559.47 L109.91,560.06 L116.74,560.81 L123.81,561.63 L130.87,562.45 L137.70,563.20" fill="none" stroke="#111" stroke-width="1.15" stroke-dasharray="1.0,1.0"/>
<path d="M61.30,562.70 L64.43,563.59 L67.56,564.49 L70.70,565.39 L73.83,566.29 L76.93,567.16 L80.00,568.00 L83.05,568.89 L86.08,569.84 L89.09,570.77 L92.07,571.60 L95.01,572.23 L97.90,572.60 L100.73,572.63 L103.50,572.37 L106.24,571.93 L108.95,571.39 L111.67,570.85 L114.40,570.40" fill="none" stroke="#111" stroke-width="1.15" stroke-dasharray="1.0,1.0"/>
<line x1="51.50" y1="556.60" x2="138.80" y2="556.60" stroke="#c8102e" stroke-width="1.2" />
<line x1="59.10" y1="573.60" x2="115.00" y2="577.60" stroke="#0d4a8c" stroke-width="1.2" />
<path d="M62.45,536.40 L65.75,536.40 L64.10,533.43 Z" fill="#c8102e"/>
<path d="M68.55,539.50 L71.85,539.50 L70.20,536.53 Z" fill="#c8102e"/>
<path d="M56.55,545.00 L59.85,545.00 L58.20,542.03 Z" fill="#c8102e"/>
<path d="M61.05,543.00 L64.35,543.00 L62.70,540.03 Z" fill="#c8102e"/>
<path d="M65.45,544.30 L68.75,544.30 L67.10,541.33 Z" fill="#c8102e"/>
<path d="M73.15,542.40 L76.45,542.40 L74.80,539.43 Z" fill="#c8102e"/>
<path d="M76.55,543.00 L79.85,543.00 L78.20,540.03 Z" fill="#c8102e"/>
<path d="M77.95,541.40 L81.25,541.40 L79.60,538.43 Z" fill="#c8102e"/>
<path d="M79.85,536.90 L83.15,536.90 L81.50,533.93 Z" fill="#c8102e"/>
<path d="M82.95,538.00 L86.25,538.00 L84.60,535.03 Z" fill="#c8102e"/>
<path d="M81.65,542.10 L84.95,542.10 L83.30,539.13 Z" fill="#c8102e"/>
<path d="M84.05,541.40 L87.35,541.40 L85.70,538.43 Z" fill="#c8102e"/>
<path d="M82.95,544.10 L86.25,544.10 L84.60,541.13 Z" fill="#c8102e"/>
<path d="M87.35,545.20 L90.65,545.20 L89.00,542.23 Z" fill="#c8102e"/>
<path d="M90.45,533.60 L93.75,533.60 L92.10,530.63 Z" fill="#c8102e"/>
<path d="M89.05,538.60 L92.35,538.60 L90.70,535.63 Z" fill="#c8102e"/>
<path d="M93.85,538.00 L97.15,538.00 L95.50,535.03 Z" fill="#c8102e"/>
<path d="M92.35,545.40 L95.65,545.40 L94.00,542.43 Z" fill="#c8102e"/>
<path d="M76.85,548.00 L80.15,548.00 L78.50,545.03 Z" fill="#c8102e"/>
<path d="M86.45,549.10 L89.75,549.10 L88.10,546.13 Z" fill="#c8102e"/>
<path d="M90.95,550.50 L94.25,550.50 L92.60,547.53 Z" fill="#c8102e"/>
<path d="M94.55,551.70 L97.85,551.70 L96.20,548.73 Z" fill="#c8102e"/>
<path d="M77.35,554.10 L80.65,554.10 L79.00,551.13 Z" fill="#c8102e"/>
<path d="M82.95,552.40 L86.25,552.40 L84.60,549.43 Z" fill="#c8102e"/>
<path d="M82.95,555.00 L86.25,555.00 L84.60,552.03 Z" fill="#c8102e"/>
<path d="M79.65,555.80 L82.95,555.80 L81.30,552.83 Z" fill="#c8102e"/>
<path d="M69.45,559.10 L72.75,559.10 L71.10,556.13 Z" fill="#c8102e"/>
<path d="M82.05,561.30 L85.35,561.30 L83.70,558.33 Z" fill="#c8102e"/>
<path d="M85.75,560.20 L89.05,560.20 L87.40,557.23 Z" fill="#c8102e"/>
<path d="M92.35,560.70 L95.65,560.70 L94.00,557.73 Z" fill="#c8102e"/>
<path d="M56.55,564.30 L59.85,564.30 L58.20,561.33 Z" fill="#c8102e"/>
<path d="M62.95,564.30 L66.25,564.30 L64.60,561.33 Z" fill="#c8102e"/>
<path d="M86.45,565.00 L89.75,565.00 L88.10,562.03 Z" fill="#c8102e"/>
<path d="M87.95,565.00 L91.25,565.00 L89.60,562.03 Z" fill="#c8102e"/>
<path d="M51.85,569.10 L55.15,569.10 L53.50,566.13 Z" fill="#c8102e"/>
<path d="M49.85,572.90 L53.15,572.90 L51.50,569.93 Z" fill="#c8102e"/>
<path d="M58.35,570.90 L61.65,570.90 L60.00,567.93 Z" fill="#c8102e"/>
<path d="M60.25,573.20 L63.55,573.20 L61.90,570.23 Z" fill="#c8102e"/>
<path d="M68.55,573.50 L71.85,573.50 L70.20,570.53 Z" fill="#c8102e"/>
<path d="M67.15,576.00 L70.45,576.00 L68.80,573.03 Z" fill="#c8102e"/>
<path d="M89.85,568.00 L93.15,568.00 L91.50,565.03 Z" fill="#c8102e"/>
<path d="M93.45,568.00 L96.75,568.00 L95.10,565.03 Z" fill="#c8102e"/>
<path d="M88.45,573.50 L91.75,573.50 L90.10,570.53 Z" fill="#c8102e"/>
<path d="M94.55,572.90 L97.85,572.90 L96.20,569.93 Z" fill="#c8102e"/>
<path d="M56.85,579.80 L60.15,579.80 L58.50,576.83 Z" fill="#c8102e"/>
<path d="M76.35,580.10 L79.65,580.10 L78.00,577.13 Z" fill="#c8102e"/>
<path d="M81.85,578.30 L85.15,578.30 L83.50,575.33 Z" fill="#c8102e"/>
<path d="M114.65,531.90 L117.95,531.90 L116.30,528.93 Z" fill="#c8102e"/>
<path d="M102.25,532.80 L105.55,532.80 L103.90,529.83 Z" fill="#c8102e"/>
<path d="M136.85,533.30 L140.15,533.30 L138.50,530.33 Z" fill="#c8102e"/>
<path d="M101.35,535.50 L104.65,535.50 L103.00,532.53 Z" fill="#c8102e"/>
<path d="M105.35,536.60 L108.65,536.60 L107.00,533.63 Z" fill="#c8102e"/>
<path d="M93.95,538.00 L97.25,538.00 L95.60,535.03 Z" fill="#c8102e"/>
<path d="M109.95,539.50 L113.25,539.50 L111.60,536.53 Z" fill="#c8102e"/>
<path d="M103.35,539.70 L106.65,539.70 L105.00,536.73 Z" fill="#c8102e"/>
<path d="M125.25,539.90 L128.55,539.90 L126.90,536.93 Z" fill="#c8102e"/>
<path d="M136.55,543.20 L139.85,543.20 L138.20,540.23 Z" fill="#c8102e"/>
<path d="M104.95,544.70 L108.25,544.70 L106.60,541.73 Z" fill="#c8102e"/>
<path d="M107.75,545.20 L111.05,545.20 L109.40,542.23 Z" fill="#c8102e"/>
<path d="M117.75,543.60 L121.05,543.60 L119.40,540.63 Z" fill="#c8102e"/>
<path d="M116.65,545.00 L119.95,545.00 L118.30,542.03 Z" fill="#c8102e"/>
<path d="M97.75,545.80 L101.05,545.80 L99.40,542.83 Z" fill="#c8102e"/>
<path d="M112.15,546.30 L115.45,546.30 L113.80,543.33 Z" fill="#c8102e"/>
<path d="M117.15,546.30 L120.45,546.30 L118.80,543.33 Z" fill="#c8102e"/>
<path d="M114.95,548.00 L118.25,548.00 L116.60,545.03 Z" fill="#c8102e"/>
<path d="M97.25,549.10 L100.55,549.10 L98.90,546.13 Z" fill="#c8102e"/>
<path d="M102.25,549.10 L105.55,549.10 L103.90,546.13 Z" fill="#c8102e"/>
<path d="M136.55,548.80 L139.85,548.80 L138.20,545.83 Z" fill="#c8102e"/>
<path d="M95.05,551.70 L98.35,551.70 L96.70,548.73 Z" fill="#c8102e"/>
<path d="M100.55,552.40 L103.85,552.40 L102.20,549.43 Z" fill="#c8102e"/>
<path d="M105.55,551.30 L108.85,551.30 L107.20,548.33 Z" fill="#c8102e"/>
<path d="M109.75,553.50 L113.05,553.50 L111.40,550.53 Z" fill="#c8102e"/>
<path d="M122.15,551.00 L125.45,551.00 L123.80,548.03 Z" fill="#c8102e"/>
<path d="M123.05,554.10 L126.35,554.10 L124.70,551.13 Z" fill="#c8102e"/>
<path d="M108.35,555.20 L111.65,555.20 L110.00,552.23 Z" fill="#c8102e"/>
<path d="M103.55,557.20 L106.85,557.20 L105.20,554.23 Z" fill="#c8102e"/>
<path d="M110.85,557.40 L114.15,557.40 L112.50,554.43 Z" fill="#c8102e"/>
<path d="M99.45,561.00 L102.75,561.00 L101.10,558.03 Z" fill="#c8102e"/>
<path d="M107.75,559.90 L111.05,559.90 L109.40,556.93 Z" fill="#c8102e"/>
<path d="M114.45,560.50 L117.75,560.50 L116.10,557.53 Z" fill="#c8102e"/>
<path d="M131.55,561.60 L134.85,561.60 L133.20,558.63 Z" fill="#c8102e"/>
<path d="M113.85,564.10 L117.15,564.10 L115.50,561.13 Z" fill="#c8102e"/>
<path d="M96.65,565.00 L99.95,565.00 L98.30,562.03 Z" fill="#c8102e"/>
<path d="M93.95,567.40 L97.25,567.40 L95.60,564.43 Z" fill="#c8102e"/>
<path d="M97.75,568.50 L101.05,568.50 L99.40,565.53 Z" fill="#c8102e"/>
<path d="M103.85,570.20 L107.15,570.20 L105.50,567.23 Z" fill="#c8102e"/>
<path d="M114.45,570.70 L117.75,570.70 L116.10,567.73 Z" fill="#c8102e"/>
<path d="M129.35,569.10 L132.65,569.10 L131.00,566.13 Z" fill="#c8102e"/>
<path d="M119.45,572.10 L122.75,572.10 L121.10,569.13 Z" fill="#c8102e"/>
<path d="M95.05,572.90 L98.35,572.90 L96.70,569.93 Z" fill="#c8102e"/>
<path d="M109.45,574.90 L112.75,574.90 L111.10,571.93 Z" fill="#c8102e"/>
<path d="M116.65,577.40 L119.95,577.40 L118.30,574.43 Z" fill="#c8102e"/>
<path d="M125.25,576.80 L128.55,576.80 L126.90,573.83 Z" fill="#c8102e"/>
<path d="M131.95,575.70 L135.25,575.70 L133.60,572.73 Z" fill="#c8102e"/>
<path d="M102.25,577.40 L105.55,577.40 L103.90,574.43 Z" fill="#c8102e"/>
<path d="M100.55,575.70 L103.85,575.70 L102.20,572.73 Z" fill="#c8102e"/>
<path d="M96.65,579.00 L99.95,579.00 L98.30,576.03 Z" fill="#c8102e"/>
<path d="M103.15,580.10 L106.45,580.10 L104.80,577.13 Z" fill="#c8102e"/>
<path d="M117.15,581.30 L120.45,581.30 L118.80,578.33 Z" fill="#c8102e"/>
<path d="M128.25,582.10 L131.55,582.10 L129.90,579.13 Z" fill="#c8102e"/>
<circle cx="88.50" cy="551.80" r="1.15" fill="#0d4a8c"/>
<circle cx="60.00" cy="573.80" r="1.15" fill="#0d4a8c"/>
<circle cx="81.30" cy="579.30" r="1.15" fill="#0d4a8c"/>
<circle cx="85.70" cy="574.90" r="1.15" fill="#0d4a8c"/>
<circle cx="90.70" cy="577.60" r="1.15" fill="#0d4a8c"/>
<circle cx="95.70" cy="575.40" r="1.15" fill="#0d4a8c"/>
<circle cx="99.40" cy="570.40" r="1.15" fill="#0d4a8c"/>
<circle cx="96.10" cy="575.40" r="1.15" fill="#0d4a8c"/>
<circle cx="98.90" cy="576.50" r="1.15" fill="#0d4a8c"/>
<circle cx="101.90" cy="576.50" r="1.15" fill="#0d4a8c"/>
<circle cx="109.40" cy="578.20" r="1.15" fill="#0d4a8c"/>
<circle cx="115.00" cy="577.60" r="1.15" fill="#0d4a8c"/>
<circle cx="96.70" cy="579.30" r="1.15" fill="#0d4a8c"/>
<text x="189.80" y="494.40" font-size="10.8" text-anchor="start" font-weight="bold" fill="#000" stroke="#000" stroke-width="0.6">J</text>
<text x="237.30" y="500.90" font-size="8.3" fill="#d0243f" stroke="#d0243f" stroke-width="0.12" textLength="83.90" lengthAdjust="spacing">Adj R<tspan font-size="5.4" dy="-3.0">2</tspan><tspan dy="3.0">=&#8211;0.008 p=0.865</tspan></text>
<text x="237.30" y="511.50" font-size="8.3" fill="#2a64a0" stroke="#2a64a0" stroke-width="0.12" textLength="87.30" lengthAdjust="spacing">Adj R<tspan font-size="5.4" dy="-3.0">2</tspan><tspan dy="3.0">=&#8211;0.035 p=0.5278</tspan></text>
<line x1="233.60" y1="511.20" x2="233.60" y2="579.75" stroke="#000" stroke-width="1.25" />
<line x1="230.60" y1="528.50" x2="233.60" y2="528.50" stroke="#000" stroke-width="1.05" />
<text x="227.80" y="531.65" font-size="9.5" text-anchor="end" font-weight="normal" fill="#222222" textLength="17.52" lengthAdjust="spacingAndGlyphs" stroke="#2b2b2b" stroke-width="0.16">6000</text>
<line x1="230.60" y1="545.60" x2="233.60" y2="545.60" stroke="#000" stroke-width="1.05" />
<text x="227.80" y="548.75" font-size="9.5" text-anchor="end" font-weight="normal" fill="#222222" textLength="17.52" lengthAdjust="spacingAndGlyphs" stroke="#2b2b2b" stroke-width="0.16">4000</text>
<line x1="230.60" y1="562.60" x2="233.60" y2="562.60" stroke="#000" stroke-width="1.05" />
<text x="227.80" y="565.75" font-size="9.5" text-anchor="end" font-weight="normal" fill="#222222" textLength="17.52" lengthAdjust="spacingAndGlyphs" stroke="#2b2b2b" stroke-width="0.16">2000</text>
<line x1="230.60" y1="579.70" x2="233.60" y2="579.70" stroke="#000" stroke-width="1.05" />
<text x="227.80" y="582.85" font-size="9.5" text-anchor="end" font-weight="normal" fill="#222222" textLength="4.38" lengthAdjust="spacingAndGlyphs" stroke="#2b2b2b" stroke-width="0.16">0</text>
<line x1="233.00" y1="579.75" x2="328.20" y2="579.75" stroke="#000" stroke-width="1.25" />
<line x1="233.60" y1="579.75" x2="233.60" y2="583.15" stroke="#000" stroke-width="1.05" />
<line x1="238.50" y1="579.75" x2="238.50" y2="581.85" stroke="#000" stroke-width="0.95" />
<line x1="243.40" y1="579.75" x2="243.40" y2="581.85" stroke="#000" stroke-width="0.95" />
<line x1="248.30" y1="579.75" x2="248.30" y2="581.85" stroke="#000" stroke-width="0.95" />
<line x1="253.20" y1="579.75" x2="253.20" y2="581.85" stroke="#000" stroke-width="0.95" />
<line x1="258.10" y1="579.75" x2="258.10" y2="583.15" stroke="#000" stroke-width="1.05" />
<line x1="263.00" y1="579.75" x2="263.00" y2="581.85" stroke="#000" stroke-width="0.95" />
<line x1="267.90" y1="579.75" x2="267.90" y2="581.85" stroke="#000" stroke-width="0.95" />
<line x1="272.80" y1="579.75" x2="272.80" y2="581.85" stroke="#000" stroke-width="0.95" />
<line x1="277.70" y1="579.75" x2="277.70" y2="581.85" stroke="#000" stroke-width="0.95" />
<line x1="282.60" y1="579.75" x2="282.60" y2="583.15" stroke="#000" stroke-width="1.05" />
<line x1="287.50" y1="579.75" x2="287.50" y2="581.85" stroke="#000" stroke-width="0.95" />
<line x1="292.40" y1="579.75" x2="292.40" y2="581.85" stroke="#000" stroke-width="0.95" />
<line x1="297.30" y1="579.75" x2="297.30" y2="581.85" stroke="#000" stroke-width="0.95" />
<line x1="302.20" y1="579.75" x2="302.20" y2="581.85" stroke="#000" stroke-width="0.95" />
<line x1="307.10" y1="579.75" x2="307.10" y2="583.15" stroke="#000" stroke-width="1.05" />
<line x1="312.00" y1="579.75" x2="312.00" y2="581.85" stroke="#000" stroke-width="0.95" />
<line x1="316.90" y1="579.75" x2="316.90" y2="581.85" stroke="#000" stroke-width="0.95" />
<line x1="321.80" y1="579.75" x2="321.80" y2="581.85" stroke="#000" stroke-width="0.95" />
<line x1="326.70" y1="579.75" x2="326.70" y2="581.85" stroke="#000" stroke-width="0.95" />
<text x="233.60" y="591.85" font-size="9.6" text-anchor="middle" font-weight="normal" fill="#222222" textLength="4.10" lengthAdjust="spacingAndGlyphs" stroke="#2b2b2b" stroke-width="0.12">0</text>
<text x="258.10" y="591.85" font-size="9.6" text-anchor="middle" font-weight="normal" fill="#222222" textLength="4.10" lengthAdjust="spacingAndGlyphs" stroke="#2b2b2b" stroke-width="0.12">5</text>
<text x="282.60" y="591.85" font-size="9.6" text-anchor="middle" font-weight="normal" fill="#222222" textLength="8.20" lengthAdjust="spacingAndGlyphs" stroke="#2b2b2b" stroke-width="0.12">10</text>
<text x="307.10" y="591.85" font-size="9.6" text-anchor="middle" font-weight="normal" fill="#222222" textLength="8.20" lengthAdjust="spacingAndGlyphs" stroke="#2b2b2b" stroke-width="0.12">15</text>
<text x="0" y="0" transform="translate(204.30,549.20) rotate(-90)" font-size="10.3" text-anchor="middle" fill="#222222" textLength="67.60" lengthAdjust="spacingAndGlyphs" stroke="#222222" stroke-width="0.05"># Unique clonotypes</text>
<path d="M234.00,536.30 L241.80,536.30 L249.76,536.30 L257.72,536.30 L265.53,536.30 L273.00,536.30 L280.00,536.30 L286.40,536.30 L292.33,536.30 L297.93,536.30 L303.36,536.30 L308.80,536.30 L314.40,536.30" fill="none" stroke="#111" stroke-width="1.15" stroke-dasharray="1.0,1.0"/>
<path d="M234.00,538.80 L241.80,538.80 L249.76,538.80 L257.72,538.80 L265.53,538.80 L273.00,538.80 L280.00,538.80 L286.40,538.80 L292.33,538.80 L297.93,538.80 L303.36,538.80 L308.80,538.80 L314.40,538.80" fill="none" stroke="#111" stroke-width="1.15" stroke-dasharray="1.0,1.0"/>
<path d="M241.50,526.00 L245.08,527.45 L248.71,528.96 L252.34,530.47 L255.92,531.92 L259.39,533.25 L262.70,534.40 L265.81,535.33 L268.76,536.09 L271.59,536.72 L274.38,537.29 L277.16,537.87 L280.00,538.50" fill="none" stroke="#111" stroke-width="1.15" stroke-dasharray="1.0,1.0"/>
<path d="M241.00,549.80 L243.34,549.23 L245.69,548.65 L248.03,548.07 L250.37,547.50 L252.70,546.97 L255.00,546.50 L257.34,546.06 L259.73,545.63 L262.10,545.23 L264.40,544.90 L266.55,544.64 L268.50,544.50 L270.13,544.44 L271.47,544.43 L272.67,544.51 L273.87,544.70 L275.23,545.02 L276.90,545.50 L278.91,546.19 L281.15,547.08 L283.55,548.10 L286.03,549.19 L288.50,550.28 L290.90,551.30" fill="none" stroke="#111" stroke-width="1.15" stroke-dasharray="1.0,1.0"/>
<line x1="233.60" y1="537.30" x2="314.40" y2="537.30" stroke="#c8102e" stroke-width="1.2" />
<line x1="241.00" y1="538.90" x2="287.50" y2="542.60" stroke="#0d4a8c" stroke-width="1.2" />
<path d="M232.65,543.50 L235.95,543.50 L234.30,540.53 Z" fill="#c8102e"/>
<path d="M234.15,541.60 L237.45,541.60 L235.80,538.63 Z" fill="#c8102e"/>
<path d="M238.45,548.30 L241.75,548.30 L240.10,545.33 Z" fill="#c8102e"/>
<path d="M237.95,539.20 L241.25,539.20 L239.60,536.23 Z" fill="#c8102e"/>
<path d="M240.35,542.10 L243.65,542.10 L242.00,539.13 Z" fill="#c8102e"/>
<path d="M241.85,542.40 L245.15,542.40 L243.50,539.43 Z" fill="#c8102e"/>
<path d="M243.75,536.30 L247.05,536.30 L245.40,533.33 Z" fill="#c8102e"/>
<path d="M244.65,539.70 L247.95,539.70 L246.30,536.73 Z" fill="#c8102e"/>
<path d="M246.65,537.70 L249.95,537.70 L248.30,534.73 Z" fill="#c8102e"/>
<path d="M248.55,542.10 L251.85,542.10 L250.20,539.13 Z" fill="#c8102e"/>
<path d="M249.95,536.30 L253.25,536.30 L251.60,533.33 Z" fill="#c8102e"/>
<path d="M251.45,538.70 L254.75,538.70 L253.10,535.73 Z" fill="#c8102e"/>
<path d="M253.85,535.30 L257.15,535.30 L255.50,532.33 Z" fill="#c8102e"/>
<path d="M255.25,538.70 L258.55,538.70 L256.90,535.73 Z" fill="#c8102e"/>
<path d="M256.75,548.30 L260.05,548.30 L258.40,545.33 Z" fill="#c8102e"/>
<path d="M257.15,537.70 L260.45,537.70 L258.80,534.73 Z" fill="#c8102e"/>
<path d="M259.15,536.30 L262.45,536.30 L260.80,533.33 Z" fill="#c8102e"/>
<path d="M260.05,542.10 L263.35,542.10 L261.70,539.13 Z" fill="#c8102e"/>
<path d="M261.05,554.10 L264.35,554.10 L262.70,551.13 Z" fill="#c8102e"/>
<path d="M262.05,537.70 L265.35,537.70 L263.70,534.73 Z" fill="#c8102e"/>
<path d="M264.85,537.30 L268.15,537.30 L266.50,534.33 Z" fill="#c8102e"/>
<path d="M266.85,545.00 L270.15,545.00 L268.50,542.03 Z" fill="#c8102e"/>
<path d="M268.75,536.30 L272.05,536.30 L270.40,533.33 Z" fill="#c8102e"/>
<path d="M269.65,543.00 L272.95,543.00 L271.30,540.03 Z" fill="#c8102e"/>
<path d="M270.65,538.70 L273.95,538.70 L272.30,535.73 Z" fill="#c8102e"/>
<path d="M272.55,536.80 L275.85,536.80 L274.20,533.83 Z" fill="#c8102e"/>
<path d="M272.15,546.90 L275.45,546.90 L273.80,543.93 Z" fill="#c8102e"/>
<path d="M274.05,547.40 L277.35,547.40 L275.70,544.43 Z" fill="#c8102e"/>
<path d="M276.45,538.20 L279.75,538.20 L278.10,535.23 Z" fill="#c8102e"/>
<path d="M277.35,541.60 L280.65,541.60 L279.00,538.63 Z" fill="#c8102e"/>
<path d="M279.65,544.50 L282.95,544.50 L281.30,541.53 Z" fill="#c8102e"/>
<path d="M286.85,544.00 L290.15,544.00 L288.50,541.03 Z" fill="#c8102e"/>
<path d="M288.75,544.00 L292.05,544.00 L290.40,541.03 Z" fill="#c8102e"/>
<path d="M293.05,544.00 L296.35,544.00 L294.70,541.03 Z" fill="#c8102e"/>
<path d="M294.95,556.50 L298.25,556.50 L296.60,553.53 Z" fill="#c8102e"/>
<path d="M274.31,537.27 L277.61,537.27 L275.96,534.30 Z" fill="#c8102e"/>
<path d="M276.23,539.19 L279.53,539.19 L277.88,536.22 Z" fill="#c8102e"/>
<path d="M277.68,541.59 L280.98,541.59 L279.33,538.62 Z" fill="#c8102e"/>
<path d="M279.12,536.79 L282.42,536.79 L280.77,533.82 Z" fill="#c8102e"/>
<path d="M280.56,539.67 L283.86,539.67 L282.21,536.70 Z" fill="#c8102e"/>
<path d="M282.48,537.27 L285.78,537.27 L284.13,534.30 Z" fill="#c8102e"/>
<path d="M283.93,536.79 L287.23,536.79 L285.58,533.82 Z" fill="#c8102e"/>
<path d="M285.37,538.71 L288.67,538.71 L287.02,535.74 Z" fill="#c8102e"/>
<path d="M286.33,536.31 L289.63,536.31 L287.98,533.34 Z" fill="#c8102e"/>
<path d="M287.77,537.75 L291.07,537.75 L289.42,534.78 Z" fill="#c8102e"/>
<path d="M289.22,536.79 L292.52,536.79 L290.87,533.82 Z" fill="#c8102e"/>
<path d="M290.66,539.19 L293.96,539.19 L292.31,536.22 Z" fill="#c8102e"/>
<path d="M291.62,535.34 L294.92,535.34 L293.27,532.37 Z" fill="#c8102e"/>
<path d="M292.58,537.27 L295.88,537.27 L294.23,534.30 Z" fill="#c8102e"/>
<path d="M293.54,540.63 L296.84,540.63 L295.19,537.66 Z" fill="#c8102e"/>
<path d="M294.50,538.23 L297.80,538.23 L296.15,535.26 Z" fill="#c8102e"/>
<path d="M295.95,541.11 L299.25,541.11 L297.60,538.14 Z" fill="#c8102e"/>
<path d="M298.35,538.23 L301.65,538.23 L300.00,535.26 Z" fill="#c8102e"/>
<path d="M300.27,539.19 L303.57,539.19 L301.92,536.22 Z" fill="#c8102e"/>
<path d="M302.20,537.27 L305.50,537.27 L303.85,534.30 Z" fill="#c8102e"/>
<path d="M303.64,539.19 L306.94,539.19 L305.29,536.22 Z" fill="#c8102e"/>
<path d="M305.08,542.08 L308.38,542.08 L306.73,539.11 Z" fill="#c8102e"/>
<path d="M306.52,540.15 L309.82,540.15 L308.17,537.18 Z" fill="#c8102e"/>
<path d="M307.97,544.00 L311.27,544.00 L309.62,541.03 Z" fill="#c8102e"/>
<path d="M309.89,538.71 L313.19,538.71 L311.54,535.74 Z" fill="#c8102e"/>
<path d="M312.29,536.31 L315.59,536.31 L313.94,533.34 Z" fill="#c8102e"/>
<path d="M312.29,539.19 L315.59,539.19 L313.94,536.22 Z" fill="#c8102e"/>
<path d="M254.55,539.33 L257.85,539.33 L256.20,536.36 Z" fill="#c8102e"/>
<path d="M287.71,540.15 L291.01,540.15 L289.36,537.18 Z" fill="#c8102e"/>
<path d="M248.84,537.06 L252.14,537.06 L250.49,534.09 Z" fill="#c8102e"/>
<path d="M245.83,537.03 L249.13,537.03 L247.48,534.06 Z" fill="#c8102e"/>
<path d="M291.60,536.55 L294.90,536.55 L293.25,533.58 Z" fill="#c8102e"/>
<path d="M275.79,536.97 L279.09,536.97 L277.44,534.00 Z" fill="#c8102e"/>
<path d="M257.33,538.06 L260.63,538.06 L258.98,535.09 Z" fill="#c8102e"/>
<path d="M299.69,538.94 L302.99,538.94 L301.34,535.97 Z" fill="#c8102e"/>
<path d="M235.48,537.28 L238.78,537.28 L237.13,534.31 Z" fill="#c8102e"/>
<path d="M245.79,540.26 L249.09,540.26 L247.44,537.29 Z" fill="#c8102e"/>
<path d="M297.51,539.93 L300.81,539.93 L299.16,536.96 Z" fill="#c8102e"/>
<path d="M298.81,539.63 L302.11,539.63 L300.46,536.66 Z" fill="#c8102e"/>
<path d="M308.40,539.87 L311.70,539.87 L310.05,536.90 Z" fill="#c8102e"/>
<path d="M254.37,540.15 L257.67,540.15 L256.02,537.18 Z" fill="#c8102e"/>
<path d="M272.32,539.68 L275.62,539.68 L273.97,536.71 Z" fill="#c8102e"/>
<path d="M278.35,538.05 L281.65,538.05 L280.00,535.08 Z" fill="#c8102e"/>
<path d="M262.76,538.05 L266.06,538.05 L264.41,535.08 Z" fill="#c8102e"/>
<path d="M258.82,536.49 L262.12,536.49 L260.47,533.52 Z" fill="#c8102e"/>
<circle cx="241.10" cy="536.80" r="1.15" fill="#0d4a8c"/>
<circle cx="260.80" cy="546.90" r="1.15" fill="#0d4a8c"/>
<circle cx="265.60" cy="534.90" r="1.15" fill="#0d4a8c"/>
<circle cx="268.00" cy="533.90" r="1.15" fill="#0d4a8c"/>
<circle cx="269.40" cy="537.30" r="1.15" fill="#0d4a8c"/>
<circle cx="273.80" cy="548.40" r="1.15" fill="#0d4a8c"/>
<circle cx="277.60" cy="543.60" r="1.15" fill="#0d4a8c"/>
<circle cx="278.10" cy="567.60" r="1.15" fill="#0d4a8c"/>
<circle cx="278.40" cy="535.90" r="1.15" fill="#0d4a8c"/>
<circle cx="287.00" cy="538.80" r="1.15" fill="#0d4a8c"/>
<circle cx="291.80" cy="537.80" r="1.15" fill="#0d4a8c"/>
<circle cx="277.90" cy="543.10" r="1.15" fill="#0d4a8c"/>
<circle cx="249.00" cy="539.00" r="1.15" fill="#0d4a8c"/>
<circle cx="255.00" cy="540.00" r="1.15" fill="#0d4a8c"/>
<text x="370.00" y="494.80" font-size="10.8" text-anchor="start" font-weight="bold" fill="#000" stroke="#000" stroke-width="0.6">K</text>
<text x="410.30" y="500.90" font-size="8.3" fill="#d0243f" stroke="#d0243f" stroke-width="0.12" textLength="83.50" lengthAdjust="spacing">Adj R<tspan font-size="5.4" dy="-3.0">2</tspan><tspan dy="3.0">=&#8211;0.004 p=0.484</tspan></text>
<text x="410.30" y="511.50" font-size="8.3" fill="#2a64a0" stroke="#2a64a0" stroke-width="0.12" textLength="83.50" lengthAdjust="spacing">Adj R<tspan font-size="5.4" dy="-3.0">2</tspan><tspan dy="3.0">=&#8211;0.051 p=0.693</tspan></text>
<line x1="404.20" y1="513.00" x2="404.20" y2="579.85" stroke="#000" stroke-width="1.25" />
<line x1="401.20" y1="518.20" x2="404.20" y2="518.20" stroke="#000" stroke-width="1.05" />
<text x="398.40" y="521.35" font-size="9.5" text-anchor="end" font-weight="normal" fill="#222222" textLength="8.40" lengthAdjust="spacingAndGlyphs" stroke="#2b2b2b" stroke-width="0.16">25</text>
<line x1="401.20" y1="530.70" x2="404.20" y2="530.70" stroke="#000" stroke-width="1.05" />
<text x="398.40" y="533.85" font-size="9.5" text-anchor="end" font-weight="normal" fill="#222222" textLength="8.40" lengthAdjust="spacingAndGlyphs" stroke="#2b2b2b" stroke-width="0.16">20</text>
<line x1="401.20" y1="543.00" x2="404.20" y2="543.00" stroke="#000" stroke-width="1.05" />
<text x="398.40" y="546.15" font-size="9.5" text-anchor="end" font-weight="normal" fill="#222222" textLength="8.40" lengthAdjust="spacingAndGlyphs" stroke="#2b2b2b" stroke-width="0.16">15</text>
<line x1="401.20" y1="555.40" x2="404.20" y2="555.40" stroke="#000" stroke-width="1.05" />
<text x="398.40" y="558.55" font-size="9.5" text-anchor="end" font-weight="normal" fill="#222222" textLength="8.40" lengthAdjust="spacingAndGlyphs" stroke="#2b2b2b" stroke-width="0.16">10</text>
<line x1="401.20" y1="567.50" x2="404.20" y2="567.50" stroke="#000" stroke-width="1.05" />
<text x="398.40" y="570.65" font-size="9.5" text-anchor="end" font-weight="normal" fill="#222222" textLength="4.20" lengthAdjust="spacingAndGlyphs" stroke="#2b2b2b" stroke-width="0.16">5</text>
<line x1="401.20" y1="579.80" x2="404.20" y2="579.80" stroke="#000" stroke-width="1.05" />
<text x="398.40" y="582.95" font-size="9.5" text-anchor="end" font-weight="normal" fill="#222222" textLength="4.20" lengthAdjust="spacingAndGlyphs" stroke="#2b2b2b" stroke-width="0.16">0</text>
<line x1="403.60" y1="579.85" x2="500.80" y2="579.85" stroke="#000" stroke-width="1.25" />
<line x1="404.20" y1="579.85" x2="404.20" y2="583.25" stroke="#000" stroke-width="1.05" />
<line x1="409.13" y1="579.85" x2="409.13" y2="581.95" stroke="#000" stroke-width="0.95" />
<line x1="414.06" y1="579.85" x2="414.06" y2="581.95" stroke="#000" stroke-width="0.95" />
<line x1="418.99" y1="579.85" x2="418.99" y2="581.95" stroke="#000" stroke-width="0.95" />
<line x1="423.92" y1="579.85" x2="423.92" y2="581.95" stroke="#000" stroke-width="0.95" />
<line x1="428.85" y1="579.85" x2="428.85" y2="583.25" stroke="#000" stroke-width="1.05" />
<line x1="433.78" y1="579.85" x2="433.78" y2="581.95" stroke="#000" stroke-width="0.95" />
<line x1="438.71" y1="579.85" x2="438.71" y2="581.95" stroke="#000" stroke-width="0.95" />
<line x1="443.64" y1="579.85" x2="443.64" y2="581.95" stroke="#000" stroke-width="0.95" />
<line x1="448.57" y1="579.85" x2="448.57" y2="581.95" stroke="#000" stroke-width="0.95" />
<line x1="453.50" y1="579.85" x2="453.50" y2="583.25" stroke="#000" stroke-width="1.05" />
<line x1="458.43" y1="579.85" x2="458.43" y2="581.95" stroke="#000" stroke-width="0.95" />
<line x1="463.36" y1="579.85" x2="463.36" y2="581.95" stroke="#000" stroke-width="0.95" />
<line x1="468.29" y1="579.85" x2="468.29" y2="581.95" stroke="#000" stroke-width="0.95" />
<line x1="473.22" y1="579.85" x2="473.22" y2="581.95" stroke="#000" stroke-width="0.95" />
<line x1="478.15" y1="579.85" x2="478.15" y2="583.25" stroke="#000" stroke-width="1.05" />
<line x1="483.08" y1="579.85" x2="483.08" y2="581.95" stroke="#000" stroke-width="0.95" />
<line x1="488.01" y1="579.85" x2="488.01" y2="581.95" stroke="#000" stroke-width="0.95" />
<line x1="492.94" y1="579.85" x2="492.94" y2="581.95" stroke="#000" stroke-width="0.95" />
<line x1="497.87" y1="579.85" x2="497.87" y2="581.95" stroke="#000" stroke-width="0.95" />
<text x="404.20" y="591.85" font-size="9.6" text-anchor="middle" font-weight="normal" fill="#222222" textLength="4.10" lengthAdjust="spacingAndGlyphs" stroke="#2b2b2b" stroke-width="0.12">0</text>
<text x="428.85" y="591.85" font-size="9.6" text-anchor="middle" font-weight="normal" fill="#222222" textLength="4.10" lengthAdjust="spacingAndGlyphs" stroke="#2b2b2b" stroke-width="0.12">5</text>
<text x="453.50" y="591.85" font-size="9.6" text-anchor="middle" font-weight="normal" fill="#222222" textLength="8.20" lengthAdjust="spacingAndGlyphs" stroke="#2b2b2b" stroke-width="0.12">10</text>
<text x="478.15" y="591.85" font-size="9.6" text-anchor="middle" font-weight="normal" fill="#222222" textLength="8.20" lengthAdjust="spacingAndGlyphs" stroke="#2b2b2b" stroke-width="0.12">15</text>
<text x="0" y="0" transform="translate(384.10,548.50) rotate(-90)" font-size="10.3" text-anchor="middle" fill="#222222" textLength="78.00" lengthAdjust="spacingAndGlyphs" stroke="#222222" stroke-width="0.05">Mean size of expansion</text>
<path d="M404.40,565.80 L411.17,565.67 L417.94,565.53 L424.71,565.39 L431.47,565.26 L438.24,565.13 L445.00,565.00 L451.76,564.88 L458.51,564.76 L465.26,564.64 L472.00,564.53 L478.75,564.42 L485.50,564.30" fill="none" stroke="#111" stroke-width="1.15" stroke-dasharray="1.0,1.0"/>
<path d="M404.40,571.00 L411.17,570.88 L417.94,570.77 L424.71,570.66 L431.47,570.54 L438.24,570.42 L445.00,570.30 L451.76,570.17 L458.51,570.04 L465.26,569.91 L472.00,569.77 L478.75,569.63 L485.50,569.50" fill="none" stroke="#111" stroke-width="1.15" stroke-dasharray="1.0,1.0"/>
<path d="M410.50,557.70 L414.85,558.79 L419.41,559.96 L423.97,561.13 L428.31,562.22 L432.23,563.14 L435.50,563.80 L437.89,564.22 L439.51,564.46 L440.71,564.53 L441.80,564.44 L443.12,564.19 L445.00,563.80 L447.48,563.19 L450.29,562.35 L453.34,561.35 L456.50,560.27 L459.66,559.20 L462.70,558.20" fill="none" stroke="#111" stroke-width="1.15" stroke-dasharray="1.0,1.0"/>
<path d="M419.40,579.10 L421.74,578.07 L424.11,576.98 L426.49,575.89 L428.83,574.86 L431.11,573.94 L433.30,573.20 L435.32,572.63 L437.17,572.19 L438.96,571.86 L440.79,571.64 L442.77,571.52 L445.00,571.50 L447.53,571.62 L450.27,571.89 L453.17,572.27 L456.14,572.70 L459.11,573.12 L462.00,573.50" fill="none" stroke="#111" stroke-width="1.15" stroke-dasharray="1.0,1.0"/>
<line x1="404.20" y1="568.60" x2="486.60" y2="567.00" stroke="#c8102e" stroke-width="1.2" />
<line x1="410.50" y1="571.30" x2="462.70" y2="566.60" stroke="#0d4a8c" stroke-width="1.2" />
<path d="M408.85,558.30 L412.15,558.30 L410.50,555.33 Z" fill="#c8102e"/>
<path d="M427.35,549.70 L430.65,549.70 L429.00,546.73 Z" fill="#c8102e"/>
<path d="M442.65,550.20 L445.95,550.20 L444.30,547.23 Z" fill="#c8102e"/>
<path d="M419.45,565.00 L422.75,565.00 L421.10,562.03 Z" fill="#c8102e"/>
<path d="M438.25,558.80 L441.55,558.80 L439.90,555.83 Z" fill="#c8102e"/>
<path d="M430.55,561.30 L433.85,561.30 L432.20,558.33 Z" fill="#c8102e"/>
<path d="M431.65,563.50 L434.95,563.50 L433.30,560.53 Z" fill="#c8102e"/>
<path d="M439.55,563.80 L442.85,563.80 L441.20,560.83 Z" fill="#c8102e"/>
<path d="M445.45,559.10 L448.75,559.10 L447.10,556.13 Z" fill="#c8102e"/>
<path d="M446.55,561.30 L449.85,561.30 L448.20,558.33 Z" fill="#c8102e"/>
<path d="M437.75,566.30 L441.05,566.30 L439.40,563.33 Z" fill="#c8102e"/>
<path d="M442.65,566.30 L445.95,566.30 L444.30,563.33 Z" fill="#c8102e"/>
<path d="M402.75,569.40 L406.05,569.40 L404.40,566.43 Z" fill="#c8102e"/>
<path d="M407.75,574.60 L411.05,574.60 L409.40,571.63 Z" fill="#c8102e"/>
<path d="M412.25,572.90 L415.55,572.90 L413.90,569.93 Z" fill="#c8102e"/>
<path d="M414.45,575.20 L417.75,575.20 L416.10,572.23 Z" fill="#c8102e"/>
<path d="M416.65,572.10 L419.95,572.10 L418.30,569.13 Z" fill="#c8102e"/>
<path d="M419.95,574.00 L423.25,574.00 L421.60,571.03 Z" fill="#c8102e"/>
<path d="M424.95,569.60 L428.25,569.60 L426.60,566.63 Z" fill="#c8102e"/>
<path d="M428.25,574.00 L431.55,574.00 L429.90,571.03 Z" fill="#c8102e"/>
<path d="M430.55,574.60 L433.85,574.60 L432.20,571.63 Z" fill="#c8102e"/>
<path d="M433.85,571.30 L437.15,571.30 L435.50,568.33 Z" fill="#c8102e"/>
<path d="M436.05,568.50 L439.35,568.50 L437.70,565.53 Z" fill="#c8102e"/>
<path d="M438.25,570.70 L441.55,570.70 L439.90,567.73 Z" fill="#c8102e"/>
<path d="M440.45,574.60 L443.75,574.60 L442.10,571.63 Z" fill="#c8102e"/>
<path d="M442.65,572.90 L445.95,572.90 L444.30,569.93 Z" fill="#c8102e"/>
<path d="M444.95,569.60 L448.25,569.60 L446.60,566.63 Z" fill="#c8102e"/>
<path d="M447.15,571.80 L450.45,571.80 L448.80,568.83 Z" fill="#c8102e"/>
<path d="M466.65,534.10 L469.95,534.10 L468.30,531.13 Z" fill="#c8102e"/>
<path d="M464.95,550.20 L468.25,550.20 L466.60,547.23 Z" fill="#c8102e"/>
<path d="M451.95,553.50 L455.25,553.50 L453.60,550.53 Z" fill="#c8102e"/>
<path d="M445.55,559.10 L448.85,559.10 L447.20,556.13 Z" fill="#c8102e"/>
<path d="M447.25,560.70 L450.55,560.70 L448.90,557.73 Z" fill="#c8102e"/>
<path d="M452.25,562.40 L455.55,562.40 L453.90,559.43 Z" fill="#c8102e"/>
<path d="M459.95,564.10 L463.25,564.10 L461.60,561.13 Z" fill="#c8102e"/>
<path d="M463.35,565.20 L466.65,565.20 L465.00,562.23 Z" fill="#c8102e"/>
<path d="M473.25,564.10 L476.55,564.10 L474.90,561.13 Z" fill="#c8102e"/>
<path d="M476.35,562.40 L479.65,562.40 L478.00,559.43 Z" fill="#c8102e"/>
<path d="M458.85,566.80 L462.15,566.80 L460.50,563.83 Z" fill="#c8102e"/>
<path d="M470.55,571.30 L473.85,571.30 L472.20,568.33 Z" fill="#c8102e"/>
<path d="M479.35,569.60 L482.65,569.60 L481.00,566.63 Z" fill="#c8102e"/>
<path d="M446.15,571.30 L449.45,571.30 L447.80,568.33 Z" fill="#c8102e"/>
<path d="M450.55,574.00 L453.85,574.00 L452.20,571.03 Z" fill="#c8102e"/>
<path d="M452.75,575.20 L456.05,575.20 L454.40,572.23 Z" fill="#c8102e"/>
<path d="M454.45,574.60 L457.75,574.60 L456.10,571.63 Z" fill="#c8102e"/>
<path d="M457.75,572.40 L461.05,572.40 L459.40,569.43 Z" fill="#c8102e"/>
<path d="M459.95,571.80 L463.25,571.80 L461.60,568.83 Z" fill="#c8102e"/>
<path d="M462.75,576.80 L466.05,576.80 L464.40,573.83 Z" fill="#c8102e"/>
<path d="M465.55,574.00 L468.85,574.00 L467.20,571.03 Z" fill="#c8102e"/>
<path d="M473.25,575.20 L476.55,575.20 L474.90,572.23 Z" fill="#c8102e"/>
<path d="M484.35,573.50 L487.65,573.50 L486.00,570.53 Z" fill="#c8102e"/>
<path d="M484.35,576.30 L487.65,576.30 L486.00,573.33 Z" fill="#c8102e"/>
<path d="M450.55,575.70 L453.85,575.70 L452.20,572.73 Z" fill="#c8102e"/>
<path d="M446.71,572.15 L450.01,572.15 L448.36,569.18 Z" fill="#c8102e"/>
<path d="M455.34,567.26 L458.64,567.26 L456.99,564.29 Z" fill="#c8102e"/>
<path d="M425.84,569.46 L429.14,569.46 L427.49,566.49 Z" fill="#c8102e"/>
<path d="M437.68,573.60 L440.98,573.60 L439.33,570.63 Z" fill="#c8102e"/>
<path d="M456.43,571.62 L459.73,571.62 L458.08,568.65 Z" fill="#c8102e"/>
<path d="M450.47,572.19 L453.77,572.19 L452.12,569.22 Z" fill="#c8102e"/>
<path d="M431.89,570.08 L435.19,570.08 L433.54,567.11 Z" fill="#c8102e"/>
<path d="M432.65,574.51 L435.95,574.51 L434.30,571.54 Z" fill="#c8102e"/>
<path d="M428.00,573.68 L431.30,573.68 L429.65,570.71 Z" fill="#c8102e"/>
<path d="M428.71,572.43 L432.01,572.43 L430.36,569.46 Z" fill="#c8102e"/>
<path d="M440.51,569.75 L443.81,569.75 L442.16,566.78 Z" fill="#c8102e"/>
<path d="M463.26,566.08 L466.56,566.08 L464.91,563.11 Z" fill="#c8102e"/>
<path d="M428.09,574.60 L431.39,574.60 L429.74,571.63 Z" fill="#c8102e"/>
<path d="M448.25,566.77 L451.55,566.77 L449.90,563.80 Z" fill="#c8102e"/>
<path d="M469.77,574.90 L473.07,574.90 L471.42,571.93 Z" fill="#c8102e"/>
<path d="M430.41,569.92 L433.71,569.92 L432.06,566.95 Z" fill="#c8102e"/>
<path d="M431.43,568.87 L434.73,568.87 L433.08,565.90 Z" fill="#c8102e"/>
<path d="M453.32,567.46 L456.62,567.46 L454.97,564.49 Z" fill="#c8102e"/>
<path d="M456.71,566.39 L460.01,566.39 L458.36,563.42 Z" fill="#c8102e"/>
<path d="M433.05,573.65 L436.35,573.65 L434.70,570.68 Z" fill="#c8102e"/>
<path d="M443.37,569.88 L446.67,569.88 L445.02,566.91 Z" fill="#c8102e"/>
<path d="M452.17,570.43 L455.47,570.43 L453.82,567.46 Z" fill="#c8102e"/>
<path d="M442.66,566.19 L445.96,566.19 L444.31,563.22 Z" fill="#c8102e"/>
<path d="M458.03,575.09 L461.33,575.09 L459.68,572.12 Z" fill="#c8102e"/>
<path d="M469.28,572.21 L472.58,572.21 L470.93,569.24 Z" fill="#c8102e"/>
<path d="M441.39,569.35 L444.69,569.35 L443.04,566.38 Z" fill="#c8102e"/>
<circle cx="449.30" cy="541.60" r="1.15" fill="#0d4a8c"/>
<circle cx="444.90" cy="558.80" r="1.15" fill="#0d4a8c"/>
<circle cx="431.60" cy="562.70" r="1.15" fill="#0d4a8c"/>
<circle cx="433.30" cy="567.10" r="1.15" fill="#0d4a8c"/>
<circle cx="446.00" cy="563.80" r="1.15" fill="#0d4a8c"/>
<circle cx="411.10" cy="572.10" r="1.15" fill="#0d4a8c"/>
<circle cx="436.60" cy="572.10" r="1.15" fill="#0d4a8c"/>
<circle cx="438.80" cy="573.20" r="1.15" fill="#0d4a8c"/>
<circle cx="445.50" cy="571.00" r="1.15" fill="#0d4a8c"/>
<circle cx="448.80" cy="573.20" r="1.15" fill="#0d4a8c"/>
<circle cx="446.10" cy="563.80" r="1.15" fill="#0d4a8c"/>
<circle cx="463.30" cy="569.90" r="1.15" fill="#0d4a8c"/>
<circle cx="450.70" cy="572.04" r="1.15" fill="#0d4a8c"/>
<circle cx="433.41" cy="569.41" r="1.15" fill="#0d4a8c"/>
<circle cx="440.90" cy="571.07" r="1.15" fill="#0d4a8c"/>
<circle cx="454.30" cy="571.00" r="1.15" fill="#0d4a8c"/>
<line x1="51.20" y1="602.20" x2="247.00" y2="602.20" stroke="#222" stroke-width="1.3" />
<line x1="312.30" y1="602.20" x2="508.60" y2="602.20" stroke="#222" stroke-width="1.3" />
<text x="280.10" y="605.40" font-size="9.6" text-anchor="middle" font-weight="normal" fill="#222222" textLength="58.40" lengthAdjust="spacingAndGlyphs" stroke="#222" stroke-width="0.3">Mean class II HED</text>
</svg>
</body></html>
